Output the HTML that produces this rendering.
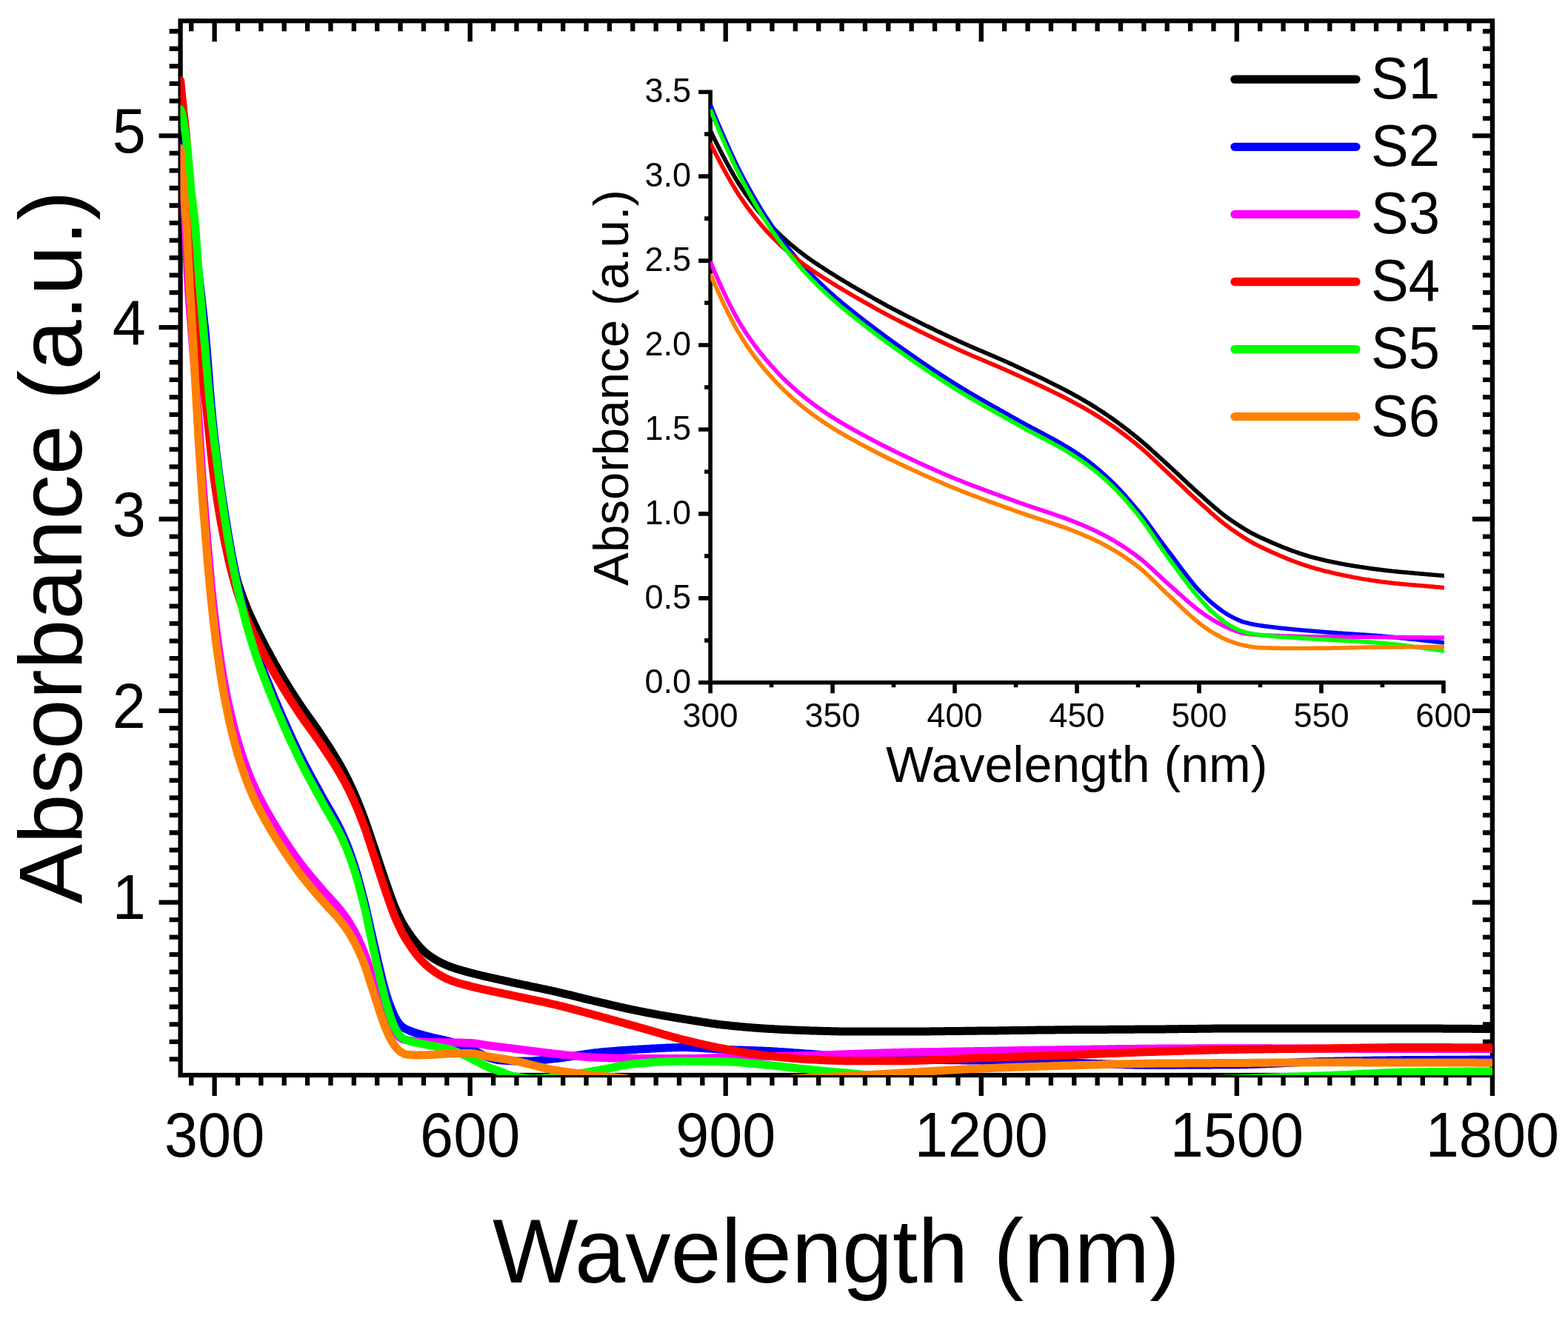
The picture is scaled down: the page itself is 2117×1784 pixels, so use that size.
<!DOCTYPE html>
<html lang="en"><head><meta charset="utf-8"><title>Absorbance spectra</title>
<style>html,body{margin:0;padding:0;background:#fff}body{width:2117px;height:1784px;overflow:hidden}svg{display:block}</style>
</head><body>
<svg xmlns="http://www.w3.org/2000/svg" width="2117" height="1784" viewBox="0 0 2117 1784" font-family="'Liberation Sans', Arial, Helvetica, sans-serif" fill="#000">
<rect width="2117" height="1784" fill="#fff"/>
<defs><clipPath id="mc"><rect x="243.6" y="28.2" width="1771.3000000000002" height="1423.8"/></clipPath><clipPath id="ic"><rect x="959.1" y="124.20000000000005" width="990.6999999999999" height="797.5999999999999"/></clipPath></defs>
<rect x="243.6" y="28.2" width="1771.3" height="1423.8" fill="none" stroke="#000" stroke-width="6.3"/><path d="M258.24 1452v14M258.24 28.2v14M289.61 1452v28M289.61 28.2v28M320.98 1452v14M320.98 28.2v14M352.35 1452v14M352.35 28.2v14M383.71 1452v14M383.71 28.2v14M415.08 1452v14M415.08 28.2v14M446.45 1452v14M446.45 28.2v14M477.82 1452v14M477.82 28.2v14M509.19 1452v14M509.19 28.2v14M540.56 1452v14M540.56 28.2v14M571.93 1452v14M571.93 28.2v14M603.3 1452v14M603.3 28.2v14M634.67 1452v28M634.67 28.2v28M666.04 1452v14M666.04 28.2v14M697.4 1452v14M697.4 28.2v14M728.77 1452v14M728.77 28.2v14M760.14 1452v14M760.14 28.2v14M791.51 1452v14M791.51 28.2v14M822.88 1452v14M822.88 28.2v14M854.25 1452v14M854.25 28.2v14M885.62 1452v14M885.62 28.2v14M916.99 1452v14M916.99 28.2v14M948.36 1452v14M948.36 28.2v14M979.72 1452v28M979.72 28.2v28M1011.09 1452v14M1011.09 28.2v14M1042.46 1452v14M1042.46 28.2v14M1073.83 1452v14M1073.83 28.2v14M1105.2 1452v14M1105.2 28.2v14M1136.57 1452v14M1136.57 28.2v14M1167.94 1452v14M1167.94 28.2v14M1199.31 1452v14M1199.31 28.2v14M1230.68 1452v14M1230.68 28.2v14M1262.05 1452v14M1262.05 28.2v14M1293.41 1452v14M1293.41 28.2v14M1324.78 1452v28M1324.78 28.2v28M1356.15 1452v14M1356.15 28.2v14M1387.52 1452v14M1387.52 28.2v14M1418.89 1452v14M1418.89 28.2v14M1450.26 1452v14M1450.26 28.2v14M1481.63 1452v14M1481.63 28.2v14M1513 1452v14M1513 28.2v14M1544.37 1452v14M1544.37 28.2v14M1575.73 1452v14M1575.73 28.2v14M1607.1 1452v14M1607.1 28.2v14M1638.47 1452v14M1638.47 28.2v14M1669.84 1452v28M1669.84 28.2v28M1701.21 1452v14M1701.21 28.2v14M1732.58 1452v14M1732.58 28.2v14M1763.95 1452v14M1763.95 28.2v14M1795.32 1452v14M1795.32 28.2v14M1826.69 1452v14M1826.69 28.2v14M1858.06 1452v14M1858.06 28.2v14M1889.42 1452v14M1889.42 28.2v14M1920.79 1452v14M1920.79 28.2v14M1952.16 1452v14M1952.16 28.2v14M1983.53 1452v14M1983.53 28.2v14M2014.9 1452v28M2014.9 28.2v28M243.6 1430.35h-15M2014.9 1430.35h-13M243.6 1406.82h-15M2014.9 1406.82h-13M243.6 1383.29h-15M2014.9 1383.29h-13M243.6 1359.76h-15M2014.9 1359.76h-13M243.6 1336.24h-15M2014.9 1336.24h-13M243.6 1312.71h-15M2014.9 1312.71h-13M243.6 1289.18h-15M2014.9 1289.18h-13M243.6 1265.65h-15M2014.9 1265.65h-13M243.6 1242.13h-15M2014.9 1242.13h-13M243.6 1218.6h-29M2014.9 1218.6h-27M243.6 1195.07h-15M2014.9 1195.07h-13M243.6 1171.55h-15M2014.9 1171.55h-13M243.6 1148.02h-15M2014.9 1148.02h-13M243.6 1124.49h-15M2014.9 1124.49h-13M243.6 1100.96h-15M2014.9 1100.96h-13M243.6 1077.44h-15M2014.9 1077.44h-13M243.6 1053.91h-15M2014.9 1053.91h-13M243.6 1030.38h-15M2014.9 1030.38h-13M243.6 1006.85h-15M2014.9 1006.85h-13M243.6 983.33h-15M2014.9 983.33h-13M243.6 959.8h-29M2014.9 959.8h-27M243.6 936.27h-15M2014.9 936.27h-13M243.6 912.75h-15M2014.9 912.75h-13M243.6 889.22h-15M2014.9 889.22h-13M243.6 865.69h-15M2014.9 865.69h-13M243.6 842.16h-15M2014.9 842.16h-13M243.6 818.64h-15M2014.9 818.64h-13M243.6 795.11h-15M2014.9 795.11h-13M243.6 771.58h-15M2014.9 771.58h-13M243.6 748.05h-15M2014.9 748.05h-13M243.6 724.53h-15M2014.9 724.53h-13M243.6 701h-29M2014.9 701h-27M243.6 677.47h-15M2014.9 677.47h-13M243.6 653.95h-15M2014.9 653.95h-13M243.6 630.42h-15M2014.9 630.42h-13M243.6 606.89h-15M2014.9 606.89h-13M243.6 583.36h-15M2014.9 583.36h-13M243.6 559.84h-15M2014.9 559.84h-13M243.6 536.31h-15M2014.9 536.31h-13M243.6 512.78h-15M2014.9 512.78h-13M243.6 489.25h-15M2014.9 489.25h-13M243.6 465.73h-15M2014.9 465.73h-13M243.6 442.2h-29M2014.9 442.2h-27M243.6 418.67h-15M2014.9 418.67h-13M243.6 395.15h-15M2014.9 395.15h-13M243.6 371.62h-15M2014.9 371.62h-13M243.6 348.09h-15M2014.9 348.09h-13M243.6 324.56h-15M2014.9 324.56h-13M243.6 301.04h-15M2014.9 301.04h-13M243.6 277.51h-15M2014.9 277.51h-13M243.6 253.98h-15M2014.9 253.98h-13M243.6 230.45h-15M2014.9 230.45h-13M243.6 206.93h-15M2014.9 206.93h-13M243.6 183.4h-29M2014.9 183.4h-27M243.6 159.87h-15M2014.9 159.87h-13M243.6 136.35h-15M2014.9 136.35h-13M243.6 112.82h-15M2014.9 112.82h-13M243.6 89.29h-15M2014.9 89.29h-13M243.6 65.76h-15M2014.9 65.76h-13M243.6 42.24h-15M2014.9 42.24h-13" fill="none" stroke="#000" stroke-width="6.3"/>
<g clip-path="url(#mc)" fill="none" stroke-width="11" stroke-linejoin="round" stroke-linecap="round"><path d="M243.6 118.7L245.6 137.2L247.6 155.9L247.7 157.5L249.5 173.4L251.5 192.0L252.3 201.5L253.5 220.0L255.5 260.4L256.8 286.9L257.5 299.0L259.5 335.5L261.4 369.1L262.0 377.5L263.4 397.5L265.4 422.6L267.2 442.2L267.4 444.4L269.4 463.6L271.4 480.9L273.3 497.1L275.3 512.8L277.3 528.6L278.5 538.0L279.3 545.1L281.3 562.3L283.3 579.5L285.2 596.5L287.2 612.7L289.2 627.7L289.6 630.6L291.2 641.5L293.2 654.8L295.2 667.5L297.1 679.7L299.1 691.3L301.1 702.3L303.1 712.7L304.2 718.3L305.1 722.5L307.1 731.9L309.0 740.9L311.0 749.4L313.0 757.5L315.0 765.2L317.0 772.5L318.5 777.9L319.0 779.4L320.9 786.0L322.9 792.2L324.9 798.1L326.9 803.8L328.9 809.3L330.9 814.5L332.7 819.3L332.8 819.5L334.8 824.3L336.8 828.9L338.8 833.4L340.8 837.6L342.8 841.8L344.7 845.9L346.7 850.0L347.1 850.8L348.7 854.1L350.7 858.1L352.7 862.0L354.7 865.9L356.6 869.7L358.6 873.5L360.6 877.2L361.4 878.7L362.6 880.9L364.6 884.6L366.6 888.3L368.5 891.9L370.5 895.5L372.5 899.0L374.5 902.4L376.0 905.1L376.5 905.9L378.5 909.2L380.4 912.6L382.4 915.9L384.4 919.1L386.4 922.4L388.4 925.6L390.3 928.8L392.3 931.9L394.3 935.1L396.3 938.2L398.3 941.2L400.3 944.3L402.2 947.3L404.2 950.3L404.6 950.9L406.2 953.3L408.2 956.2L410.2 959.1L412.2 961.9L414.1 964.7L416.1 967.5L418.1 970.3L420.1 973.0L422.1 975.8L424.1 978.5L426.0 981.3L428.0 984.2L430.0 987.0L432.0 990.0L433.5 992.3L434.0 993.0L436.0 996.0L437.9 999.0L439.9 1002.0L441.9 1005.1L443.9 1008.1L445.9 1011.2L447.9 1014.4L449.8 1017.5L451.8 1020.7L453.8 1024.0L455.8 1027.4L457.8 1030.7L459.8 1034.2L461.7 1037.8L462.1 1038.5L463.7 1041.4L465.7 1045.2L467.7 1049.0L469.7 1053.0L471.7 1057.1L473.6 1061.3L475.6 1065.5L476.4 1067.4L477.6 1069.9L479.6 1074.5L481.6 1079.2L483.6 1084.0L485.5 1088.9L487.5 1093.9L489.5 1099.1L490.7 1102.3L491.5 1104.4L493.5 1109.8L495.5 1115.5L497.4 1121.2L499.4 1127.1L501.4 1133.0L503.4 1138.9L505.0 1143.7L505.4 1144.8L507.4 1150.7L509.3 1156.8L511.3 1162.8L513.3 1168.9L515.3 1174.9L517.3 1180.8L519.3 1186.6L519.6 1187.7L521.2 1192.3L523.2 1198.1L525.2 1203.8L527.2 1209.4L529.2 1214.9L531.1 1220.1L533.1 1224.9L533.9 1226.8L535.1 1229.4L537.1 1233.8L539.1 1237.9L541.1 1241.9L543.0 1245.7L545.0 1249.2L547.0 1252.5L548.2 1254.4L549.0 1255.6L551.0 1258.5L553.0 1261.4L554.9 1264.2L556.9 1266.9L558.9 1269.5L560.9 1272.1L562.9 1274.5L564.9 1276.8L566.8 1279.1L568.8 1281.2L570.8 1283.2L572.8 1285.1L574.8 1286.8L576.8 1288.4L577.2 1288.7L578.7 1289.9L580.7 1291.3L582.7 1292.7L584.7 1294.0L586.7 1295.2L588.7 1296.4L590.6 1297.5L592.6 1298.6L594.6 1299.6L596.6 1300.6L598.6 1301.6L600.6 1302.5L602.5 1303.3L604.5 1304.2L605.8 1304.7L606.5 1305.0L608.5 1305.7L610.5 1306.4L612.5 1307.1L614.4 1307.8L616.4 1308.4L618.4 1309.0L620.4 1309.6L622.4 1310.2L624.4 1310.8L626.3 1311.3L628.3 1311.9L630.3 1312.4L632.3 1312.9L634.3 1313.5L634.7 1313.6L636.3 1314.0L638.2 1314.5L640.2 1315.0L642.2 1315.5L644.2 1316.0L646.2 1316.5L648.2 1317.0L650.1 1317.5L652.1 1318.0L654.1 1318.4L656.1 1318.9L658.1 1319.3L660.0 1319.8L662.0 1320.2L664.0 1320.7L666.0 1321.1L668.0 1321.6L670.0 1322.0L671.9 1322.4L673.9 1322.9L675.9 1323.3L677.9 1323.7L679.9 1324.2L681.9 1324.6L683.8 1325.0L685.8 1325.5L687.8 1325.9L689.8 1326.3L691.8 1326.8L691.9 1326.8L693.8 1327.2L695.7 1327.6L697.7 1328.1L699.7 1328.5L701.7 1328.9L703.7 1329.3L705.7 1329.8L707.6 1330.2L709.6 1330.6L711.6 1331.0L713.6 1331.4L715.6 1331.8L717.6 1332.3L719.5 1332.7L721.5 1333.1L723.5 1333.5L725.5 1333.9L727.5 1334.3L729.5 1334.7L731.4 1335.2L733.4 1335.6L735.4 1336.0L737.4 1336.4L739.4 1336.9L741.4 1337.3L743.3 1337.7L745.3 1338.2L747.3 1338.6L749.3 1339.0L750.0 1339.2L751.3 1339.5L753.3 1340.0L755.2 1340.4L757.2 1340.9L759.2 1341.3L761.2 1341.8L763.2 1342.3L765.2 1342.8L767.1 1343.2L769.1 1343.7L771.1 1344.2L773.1 1344.7L775.1 1345.2L777.1 1345.7L779.0 1346.2L781.0 1346.7L783.0 1347.1L785.0 1347.6L787.0 1348.1L789.0 1348.6L790.9 1349.1L792.9 1349.6L794.9 1350.1L796.9 1350.5L798.9 1351.0L800.8 1351.5L802.8 1352.0L804.8 1352.4L806.8 1352.9L807.0 1352.9L808.8 1353.3L810.8 1353.8L812.7 1354.3L814.7 1354.7L816.7 1355.2L818.7 1355.6L820.7 1356.1L822.7 1356.6L824.6 1357.0L826.6 1357.5L828.6 1358.0L830.6 1358.4L832.6 1358.9L834.6 1359.3L836.5 1359.8L838.5 1360.2L840.5 1360.7L842.5 1361.1L844.5 1361.6L846.5 1362.0L848.4 1362.4L850.4 1362.9L852.4 1363.3L854.4 1363.7L856.4 1364.1L858.4 1364.5L860.3 1364.9L862.3 1365.3L864.3 1365.7L864.9 1365.9L866.3 1366.1L868.3 1366.5L870.3 1366.9L872.2 1367.3L874.2 1367.7L876.2 1368.0L878.2 1368.4L880.2 1368.8L882.2 1369.1L884.1 1369.5L886.1 1369.9L888.1 1370.2L890.1 1370.6L892.1 1370.9L894.1 1371.3L896.0 1371.6L898.0 1372.0L900.0 1372.3L902.0 1372.6L904.0 1373.0L906.0 1373.3L907.9 1373.6L909.9 1374.0L911.9 1374.3L913.9 1374.6L915.9 1375.0L917.9 1375.3L919.8 1375.6L921.8 1375.9L922.0 1376.0L923.8 1376.2L925.8 1376.6L927.8 1376.9L929.8 1377.2L931.7 1377.5L933.7 1377.9L935.7 1378.2L937.7 1378.5L939.7 1378.8L941.6 1379.1L943.6 1379.5L945.6 1379.8L947.6 1380.1L949.6 1380.4L951.6 1380.7L953.5 1381.0L955.5 1381.3L957.5 1381.6L959.5 1381.9L961.5 1382.2L963.5 1382.4L965.4 1382.7L967.4 1383.0L969.4 1383.2L971.4 1383.5L973.4 1383.7L975.4 1384.0L977.3 1384.2L979.3 1384.4L980.0 1384.5L981.3 1384.6L983.3 1384.8L985.3 1385.1L987.3 1385.3L989.2 1385.5L991.2 1385.7L993.2 1385.8L995.2 1386.0L997.2 1386.2L999.2 1386.4L1001.1 1386.6L1003.1 1386.8L1005.1 1387.0L1007.1 1387.1L1009.1 1387.3L1011.1 1387.5L1013.0 1387.6L1015.0 1387.8L1017.0 1387.9L1019.0 1388.1L1021.0 1388.2L1023.0 1388.4L1024.9 1388.5L1026.9 1388.7L1028.9 1388.8L1030.9 1388.9L1032.9 1389.1L1034.9 1389.2L1036.8 1389.3L1037.0 1389.3L1038.8 1389.4L1040.8 1389.5L1042.8 1389.6L1044.8 1389.7L1046.8 1389.9L1048.7 1390.0L1050.7 1390.1L1052.7 1390.2L1054.7 1390.3L1056.7 1390.4L1058.7 1390.5L1060.6 1390.6L1062.6 1390.7L1064.6 1390.8L1066.6 1390.8L1068.6 1390.9L1070.6 1391.0L1072.5 1391.1L1074.5 1391.2L1076.5 1391.3L1078.5 1391.3L1080.5 1391.4L1082.4 1391.5L1084.4 1391.6L1086.4 1391.6L1088.4 1391.7L1090.4 1391.8L1092.4 1391.8L1094.3 1391.9L1095.0 1391.9L1096.3 1391.9L1098.3 1392.0L1100.3 1392.0L1102.3 1392.1L1104.3 1392.2L1106.2 1392.2L1108.2 1392.3L1110.2 1392.3L1112.2 1392.4L1114.2 1392.4L1116.2 1392.5L1118.1 1392.6L1120.1 1392.6L1122.1 1392.7L1124.1 1392.7L1126.1 1392.8L1128.1 1392.8L1130.0 1392.8L1132.0 1392.9L1134.0 1392.9L1136.0 1392.9L1138.0 1393.0L1140.0 1393.0L1141.9 1393.0L1143.9 1393.0L1145.9 1393.1L1147.9 1393.1L1149.9 1393.1L1151.9 1393.1L1152.0 1393.1L1153.8 1393.1L1155.8 1393.1L1157.8 1393.1L1159.8 1393.1L1161.8 1393.1L1163.8 1393.1L1165.7 1393.1L1167.7 1393.1L1169.7 1393.1L1171.7 1393.1L1173.7 1393.1L1175.7 1393.1L1177.6 1393.1L1179.6 1393.1L1181.6 1393.1L1183.6 1393.1L1185.6 1393.1L1187.6 1393.1L1189.5 1393.1L1191.5 1393.1L1193.5 1393.1L1195.5 1393.1L1197.5 1393.1L1199.5 1393.1L1201.4 1393.1L1203.4 1393.1L1205.4 1393.1L1207.4 1393.1L1209.4 1393.1L1210.0 1393.1L1211.4 1393.1L1213.3 1393.1L1215.3 1393.1L1217.3 1393.1L1219.3 1393.1L1221.3 1393.1L1223.2 1393.1L1225.2 1393.1L1227.2 1393.0L1229.2 1393.0L1231.2 1393.0L1233.2 1393.0L1235.1 1393.0L1237.1 1393.0L1239.1 1393.0L1241.1 1393.0L1243.1 1393.0L1245.1 1392.9L1247.0 1392.9L1249.0 1392.9L1251.0 1392.9L1253.0 1392.9L1255.0 1392.9L1257.0 1392.8L1258.9 1392.8L1260.9 1392.8L1262.9 1392.8L1264.9 1392.8L1266.9 1392.7L1268.9 1392.7L1270.8 1392.7L1272.8 1392.7L1274.8 1392.7L1276.8 1392.6L1278.8 1392.6L1280.8 1392.6L1282.7 1392.6L1284.7 1392.5L1286.7 1392.5L1288.7 1392.5L1290.7 1392.5L1292.7 1392.5L1294.6 1392.4L1296.6 1392.4L1298.6 1392.4L1300.6 1392.4L1302.6 1392.3L1304.6 1392.3L1306.5 1392.3L1308.5 1392.3L1310.5 1392.3L1312.5 1392.2L1314.5 1392.2L1316.5 1392.2L1318.4 1392.2L1320.4 1392.1L1322.4 1392.1L1324.4 1392.1L1325.0 1392.1L1326.4 1392.1L1328.4 1392.1L1330.3 1392.0L1332.3 1392.0L1334.3 1392.0L1336.3 1392.0L1338.3 1392.0L1340.3 1391.9L1342.2 1391.9L1344.2 1391.9L1346.2 1391.9L1348.2 1391.8L1350.2 1391.8L1352.1 1391.8L1354.1 1391.8L1356.1 1391.7L1358.1 1391.7L1360.1 1391.7L1362.1 1391.7L1364.0 1391.6L1366.0 1391.6L1368.0 1391.6L1370.0 1391.5L1372.0 1391.5L1374.0 1391.5L1375.9 1391.5L1377.9 1391.4L1379.9 1391.4L1381.9 1391.4L1383.9 1391.4L1385.9 1391.3L1387.8 1391.3L1389.8 1391.3L1391.8 1391.2L1393.8 1391.2L1395.8 1391.2L1397.8 1391.2L1399.7 1391.1L1401.7 1391.1L1403.7 1391.1L1405.7 1391.1L1407.7 1391.0L1409.7 1391.0L1411.6 1391.0L1413.6 1391.0L1415.6 1390.9L1417.6 1390.9L1419.6 1390.9L1421.6 1390.9L1423.5 1390.9L1425.5 1390.8L1427.5 1390.8L1429.5 1390.8L1431.5 1390.8L1433.5 1390.8L1435.4 1390.7L1437.4 1390.7L1439.4 1390.7L1440.0 1390.7L1441.4 1390.7L1443.4 1390.7L1445.4 1390.7L1447.3 1390.6L1449.3 1390.6L1451.3 1390.6L1453.3 1390.6L1455.3 1390.6L1457.3 1390.6L1459.2 1390.6L1461.2 1390.5L1463.2 1390.5L1465.2 1390.5L1467.2 1390.5L1469.2 1390.5L1471.1 1390.5L1473.1 1390.5L1475.1 1390.5L1477.1 1390.5L1479.1 1390.4L1481.1 1390.4L1483.0 1390.4L1485.0 1390.4L1487.0 1390.4L1489.0 1390.4L1491.0 1390.4L1492.9 1390.4L1494.9 1390.4L1496.9 1390.3L1498.9 1390.3L1500.9 1390.3L1502.9 1390.3L1504.8 1390.3L1506.8 1390.3L1508.8 1390.3L1510.8 1390.3L1512.8 1390.3L1514.8 1390.2L1516.7 1390.2L1518.7 1390.2L1520.7 1390.2L1522.7 1390.2L1524.7 1390.2L1526.7 1390.2L1528.6 1390.2L1530.6 1390.2L1532.6 1390.1L1534.6 1390.1L1536.6 1390.1L1538.6 1390.1L1540.5 1390.1L1542.5 1390.1L1544.5 1390.1L1546.5 1390.1L1548.5 1390.0L1550.5 1390.0L1552.4 1390.0L1554.4 1390.0L1555.1 1390.0L1556.4 1390.0L1558.4 1390.0L1560.4 1390.0L1562.4 1389.9L1564.3 1389.9L1566.3 1389.9L1568.3 1389.9L1570.3 1389.9L1572.3 1389.9L1574.3 1389.8L1576.2 1389.8L1578.2 1389.8L1580.2 1389.8L1582.2 1389.7L1584.2 1389.7L1586.2 1389.7L1588.1 1389.7L1590.1 1389.7L1592.1 1389.6L1594.1 1389.6L1596.1 1389.6L1598.1 1389.6L1600.0 1389.5L1602.0 1389.5L1604.0 1389.5L1606.0 1389.5L1608.0 1389.4L1610.0 1389.4L1611.9 1389.4L1613.9 1389.4L1615.9 1389.4L1617.9 1389.3L1619.9 1389.3L1621.9 1389.3L1623.8 1389.3L1625.8 1389.3L1627.8 1389.2L1629.8 1389.2L1631.8 1389.2L1633.7 1389.2L1635.7 1389.2L1637.7 1389.1L1639.7 1389.1L1641.7 1389.1L1643.7 1389.1L1645.6 1389.1L1647.6 1389.1L1649.6 1389.1L1651.6 1389.0L1653.6 1389.0L1655.6 1389.0L1657.5 1389.0L1659.5 1389.0L1661.5 1389.0L1663.5 1389.0L1665.5 1389.0L1667.5 1389.0L1669.4 1389.0L1670.1 1389.0L1671.4 1389.0L1673.4 1389.0L1675.4 1389.0L1677.4 1389.0L1679.4 1389.0L1681.3 1389.0L1683.3 1389.0L1685.3 1389.0L1687.3 1389.0L1689.3 1389.0L1691.3 1389.0L1693.2 1389.0L1695.2 1389.0L1697.2 1389.0L1699.2 1389.0L1701.2 1389.0L1703.2 1389.0L1705.1 1389.0L1707.1 1389.0L1709.1 1389.0L1711.1 1389.0L1713.1 1389.0L1715.1 1389.0L1717.0 1389.0L1719.0 1389.0L1721.0 1389.0L1723.0 1389.0L1725.0 1389.0L1727.0 1389.0L1728.9 1389.0L1730.9 1389.0L1732.9 1389.0L1734.9 1389.0L1736.9 1389.0L1738.9 1389.0L1740.8 1389.0L1742.8 1389.0L1744.8 1389.0L1746.8 1389.0L1748.8 1389.0L1750.8 1389.0L1752.7 1389.0L1754.7 1389.0L1756.7 1389.0L1758.7 1389.0L1760.7 1389.0L1762.7 1389.0L1764.6 1389.0L1766.6 1389.0L1768.6 1389.0L1770.6 1389.0L1772.6 1389.0L1774.5 1389.0L1776.5 1389.0L1778.5 1389.0L1780.5 1389.0L1782.5 1389.0L1784.5 1389.0L1785.1 1389.0L1786.4 1389.0L1788.4 1389.0L1790.4 1389.0L1792.4 1389.0L1794.4 1389.0L1796.4 1389.0L1798.3 1389.0L1800.3 1389.0L1802.3 1389.0L1804.3 1389.0L1806.3 1389.0L1808.3 1389.0L1810.2 1389.0L1812.2 1389.0L1814.2 1389.0L1816.2 1389.0L1818.2 1389.0L1820.2 1389.0L1822.1 1389.0L1824.1 1389.0L1826.1 1389.0L1828.1 1389.0L1830.1 1389.0L1832.1 1389.0L1834.0 1389.0L1836.0 1389.0L1838.0 1389.0L1840.0 1389.0L1842.0 1389.0L1844.0 1389.0L1845.9 1389.0L1847.9 1389.0L1849.9 1389.0L1851.9 1389.0L1853.9 1389.0L1855.9 1389.0L1857.8 1389.0L1859.8 1389.0L1861.8 1389.0L1863.8 1389.0L1865.8 1389.0L1867.8 1389.0L1869.7 1389.0L1871.7 1389.0L1873.7 1389.0L1875.7 1389.0L1877.7 1389.0L1879.7 1389.0L1881.6 1389.0L1883.6 1389.0L1885.6 1389.0L1887.6 1389.0L1889.6 1389.0L1891.6 1389.0L1893.5 1389.0L1895.5 1389.0L1897.5 1389.0L1899.5 1389.0L1900.1 1389.0L1901.5 1389.0L1903.5 1389.0L1905.4 1389.0L1907.4 1389.0L1909.4 1389.0L1911.4 1389.0L1913.4 1389.0L1915.3 1389.0L1917.3 1389.0L1919.3 1389.0L1921.3 1389.0L1923.3 1389.0L1925.3 1389.0L1927.2 1389.1L1929.2 1389.1L1931.2 1389.1L1933.2 1389.1L1935.2 1389.1L1937.2 1389.1L1939.1 1389.1L1941.1 1389.1L1943.1 1389.1L1945.1 1389.1L1947.1 1389.1L1949.1 1389.2L1951.0 1389.2L1953.0 1389.2L1955.0 1389.2L1957.0 1389.2L1959.0 1389.2L1961.0 1389.2L1962.9 1389.2L1964.9 1389.2L1966.9 1389.3L1968.9 1389.3L1970.9 1389.3L1972.9 1389.3L1974.8 1389.3L1976.8 1389.3L1978.8 1389.3L1980.8 1389.3L1982.8 1389.3L1984.8 1389.3L1986.7 1389.3L1988.7 1389.4L1990.7 1389.4L1992.7 1389.4L1994.7 1389.4L1996.7 1389.4L1998.6 1389.4L2000.6 1389.4L2002.6 1389.4L2004.6 1389.4L2006.6 1389.4L2008.6 1389.4L2010.5 1389.4L2012.5 1389.4L2014.5 1389.4L2014.9 1389.4L2016.5 1389.4L2018.5 1389.4L2020.5 1389.4L2022.4 1389.4L2024.4 1389.4L2026.4 1389.4" stroke="#000000"/><path d="M243.6 194.8L245.6 203.0L247.6 212.6L249.4 222.2L249.5 223.3L251.5 235.7L253.5 249.5L255.1 261.0L255.5 264.0L257.5 279.2L259.5 295.1L261.4 311.5L263.2 325.7L263.4 328.1L265.4 344.9L267.4 362.0L269.4 379.3L270.1 385.3L271.4 396.5L273.3 413.3L275.3 430.8L277.3 450.0L277.3 450.1L279.3 473.0L281.3 499.0L283.3 525.1L285.2 548.8L285.4 550.0L287.2 569.3L289.2 587.7L289.6 591.2L291.2 604.5L293.2 620.4L295.2 635.7L297.1 650.3L299.1 664.3L301.1 677.7L303.1 690.7L304.2 697.8L305.1 703.2L307.1 715.3L309.0 726.9L311.0 738.2L313.0 749.0L315.0 759.4L317.0 769.4L318.5 776.8L319.0 778.9L320.9 788.1L322.9 797.0L324.9 805.5L326.9 813.7L328.9 821.6L330.9 829.2L332.7 836.2L332.8 836.6L334.8 843.6L336.8 850.4L338.8 857.0L340.8 863.3L342.8 869.4L344.7 875.4L346.7 881.3L347.1 882.3L348.7 887.0L350.7 892.5L352.7 897.9L354.7 903.1L356.6 908.3L358.6 913.4L360.6 918.4L361.4 920.4L362.6 923.4L364.6 928.4L366.6 933.3L368.5 938.2L370.5 943.0L372.5 947.8L374.5 952.4L376.0 956.0L376.5 957.1L378.5 961.7L380.4 966.2L382.4 970.8L384.4 975.3L386.4 979.7L388.4 984.2L390.3 988.6L392.3 992.9L394.3 997.3L396.3 1001.5L398.3 1005.7L400.3 1009.9L402.2 1014.0L404.2 1018.1L404.6 1018.9L406.2 1022.1L408.2 1026.0L410.2 1029.9L412.2 1033.7L414.1 1037.5L416.1 1041.3L418.1 1045.0L420.1 1048.6L422.1 1052.3L424.1 1055.9L426.0 1059.6L428.0 1063.2L430.0 1066.9L432.0 1070.5L433.5 1073.4L434.0 1074.2L436.0 1077.8L437.9 1081.3L439.9 1084.8L441.9 1088.2L443.9 1091.6L445.9 1095.0L447.9 1098.4L449.8 1101.9L451.8 1105.4L453.8 1109.1L455.8 1112.8L457.8 1116.7L459.8 1120.7L461.7 1124.9L462.1 1125.8L463.7 1129.3L465.7 1133.9L467.7 1138.7L469.7 1143.8L471.7 1149.1L473.6 1154.5L475.6 1160.3L476.4 1162.7L477.6 1166.2L479.6 1172.6L481.6 1179.2L483.6 1186.2L485.5 1193.4L487.5 1200.8L489.5 1208.4L490.7 1213.2L491.5 1216.2L493.5 1224.4L495.5 1232.9L497.4 1241.7L499.4 1250.6L501.4 1259.5L503.4 1268.3L505.0 1275.3L505.4 1276.9L507.4 1285.4L509.3 1294.1L511.3 1302.8L513.3 1311.3L515.3 1319.6L517.3 1327.5L519.3 1334.8L519.6 1336.2L521.2 1341.7L523.2 1348.1L525.2 1354.1L526.6 1357.9L527.2 1359.4L529.2 1364.4L531.1 1369.0L533.1 1373.1L533.9 1374.6L535.1 1376.7L537.1 1380.0L539.1 1382.8L540.9 1384.8L541.1 1385.0L543.0 1386.6L545.0 1388.0L547.0 1389.2L548.2 1389.8L549.0 1390.2L551.0 1391.1L553.0 1391.9L554.9 1392.7L556.9 1393.4L558.9 1394.2L560.9 1394.8L562.9 1395.4L564.9 1396.1L566.8 1396.6L568.8 1397.2L570.8 1397.7L572.8 1398.3L574.8 1398.8L576.8 1399.4L577.2 1399.5L578.7 1399.9L580.7 1400.4L582.7 1400.9L584.7 1401.4L586.7 1401.8L588.7 1402.2L590.6 1402.7L592.6 1403.1L594.6 1403.5L596.6 1404.0L598.6 1404.4L600.6 1404.9L602.5 1405.4L604.5 1405.9L605.8 1406.2L606.5 1406.4L608.5 1407.0L610.5 1407.6L612.5 1408.2L614.4 1408.8L616.4 1409.4L618.4 1410.1L620.4 1410.8L622.4 1411.4L624.4 1412.2L626.3 1412.9L628.3 1413.6L630.3 1414.4L632.3 1415.1L634.3 1415.9L634.7 1416.1L636.3 1416.7L638.2 1417.6L640.2 1418.6L642.2 1419.7L644.2 1420.7L646.2 1421.8L648.2 1422.9L650.1 1423.9L652.1 1424.9L654.1 1425.9L656.1 1426.8L658.1 1427.6L660.0 1428.2L660.0 1428.3L662.0 1428.9L664.0 1429.5L666.0 1430.1L668.0 1430.6L670.0 1431.1L671.9 1431.5L673.9 1431.8L674.9 1431.9L675.9 1431.9L677.9 1432.1L679.9 1432.2L681.9 1432.3L683.8 1432.4L685.8 1432.5L687.8 1432.6L689.8 1432.7L691.8 1432.8L693.8 1432.9L695.7 1432.9L697.7 1433.0L699.7 1433.0L701.7 1433.1L703.7 1433.1L705.7 1433.1L707.6 1433.1L709.4 1433.1L709.6 1433.1L711.6 1433.1L713.6 1433.1L715.6 1433.0L717.6 1432.9L719.5 1432.8L721.5 1432.7L723.5 1432.5L725.5 1432.3L727.5 1432.1L729.5 1431.9L731.4 1431.7L733.4 1431.5L735.4 1431.3L737.4 1431.1L739.4 1430.8L741.4 1430.6L743.3 1430.4L745.3 1430.1L747.3 1429.9L749.3 1429.7L750.0 1429.6L751.3 1429.5L753.3 1429.2L755.2 1429.0L757.2 1428.7L759.2 1428.5L761.2 1428.2L763.2 1427.9L765.2 1427.6L767.1 1427.3L769.1 1427.0L771.1 1426.6L773.1 1426.3L775.1 1426.0L777.1 1425.7L779.0 1425.3L781.0 1425.0L783.0 1424.7L785.0 1424.4L787.0 1424.1L789.0 1423.8L790.9 1423.5L792.9 1423.2L794.9 1422.9L796.9 1422.6L798.9 1422.3L800.8 1422.1L802.8 1421.8L804.8 1421.6L806.8 1421.4L807.0 1421.4L808.8 1421.2L810.8 1421.0L812.7 1420.8L814.7 1420.6L816.7 1420.5L818.7 1420.3L820.7 1420.1L822.7 1419.9L824.6 1419.8L826.6 1419.6L828.6 1419.4L830.6 1419.3L832.6 1419.1L834.6 1419.0L836.5 1418.8L838.5 1418.7L840.5 1418.5L842.5 1418.4L844.5 1418.3L846.5 1418.1L848.4 1418.0L850.4 1417.9L852.4 1417.7L854.4 1417.6L856.4 1417.5L858.4 1417.4L860.3 1417.3L862.3 1417.1L864.3 1417.0L864.9 1417.0L866.3 1416.9L868.3 1416.8L870.3 1416.7L872.2 1416.6L874.2 1416.5L876.2 1416.4L878.2 1416.2L880.2 1416.1L882.2 1416.0L884.1 1415.9L886.1 1415.8L888.1 1415.7L890.1 1415.6L892.1 1415.5L894.1 1415.4L896.0 1415.3L898.0 1415.2L900.0 1415.1L902.0 1415.0L904.0 1414.9L906.0 1414.9L907.9 1414.8L909.9 1414.8L911.9 1414.7L913.9 1414.7L915.9 1414.6L917.9 1414.6L919.8 1414.6L921.8 1414.6L922.0 1414.6L923.8 1414.6L925.8 1414.6L927.8 1414.6L929.8 1414.7L931.7 1414.7L933.7 1414.8L935.7 1414.9L937.7 1415.0L939.7 1415.0L941.6 1415.1L943.6 1415.2L945.6 1415.4L947.6 1415.5L949.6 1415.6L951.6 1415.7L953.5 1415.8L955.5 1416.0L957.5 1416.1L959.5 1416.2L961.5 1416.3L963.5 1416.5L965.4 1416.6L967.4 1416.7L969.4 1416.8L971.4 1416.9L973.4 1417.0L975.4 1417.1L977.3 1417.2L979.3 1417.3L980.0 1417.4L981.3 1417.4L983.3 1417.5L985.3 1417.6L987.3 1417.6L989.2 1417.7L991.2 1417.8L993.2 1417.9L995.2 1417.9L997.2 1418.0L999.2 1418.1L1001.1 1418.1L1003.1 1418.2L1005.1 1418.3L1007.1 1418.3L1009.1 1418.4L1011.1 1418.5L1013.0 1418.5L1015.0 1418.6L1017.0 1418.7L1019.0 1418.8L1021.0 1418.8L1023.0 1418.9L1024.9 1419.0L1026.9 1419.1L1028.9 1419.1L1030.9 1419.2L1032.9 1419.3L1034.9 1419.4L1036.8 1419.5L1037.0 1419.5L1038.8 1419.6L1040.8 1419.7L1042.8 1419.8L1044.8 1419.9L1046.8 1420.0L1048.7 1420.1L1050.7 1420.3L1052.7 1420.4L1054.7 1420.5L1056.7 1420.6L1058.7 1420.8L1060.6 1420.9L1062.6 1421.0L1064.6 1421.2L1066.6 1421.3L1068.6 1421.5L1070.6 1421.6L1072.5 1421.8L1074.5 1421.9L1076.5 1422.0L1078.5 1422.2L1080.5 1422.3L1082.4 1422.5L1084.4 1422.6L1086.4 1422.8L1088.4 1422.9L1090.4 1423.1L1092.4 1423.2L1094.3 1423.3L1095.0 1423.4L1096.3 1423.5L1098.3 1423.6L1100.3 1423.8L1102.3 1423.9L1104.3 1424.1L1106.2 1424.2L1108.2 1424.4L1110.2 1424.5L1112.2 1424.7L1114.2 1424.9L1116.2 1425.0L1118.1 1425.2L1120.1 1425.3L1122.1 1425.5L1124.1 1425.7L1126.1 1425.8L1128.1 1426.0L1130.0 1426.1L1132.0 1426.3L1134.0 1426.4L1136.0 1426.6L1138.0 1426.7L1140.0 1426.9L1141.9 1427.0L1143.9 1427.2L1145.9 1427.3L1147.9 1427.4L1149.9 1427.6L1151.9 1427.7L1152.0 1427.7L1153.8 1427.8L1155.8 1428.0L1157.8 1428.1L1159.8 1428.2L1161.8 1428.3L1163.8 1428.5L1165.7 1428.6L1167.7 1428.7L1169.7 1428.9L1171.7 1429.0L1173.7 1429.1L1175.7 1429.2L1177.6 1429.4L1179.6 1429.5L1181.6 1429.6L1183.6 1429.7L1185.6 1429.8L1187.6 1429.9L1189.5 1430.0L1191.5 1430.1L1193.5 1430.2L1195.5 1430.3L1197.5 1430.4L1199.5 1430.5L1201.4 1430.6L1203.4 1430.6L1205.4 1430.7L1207.4 1430.8L1209.4 1430.8L1210.0 1430.8L1211.4 1430.8L1213.3 1430.9L1215.3 1430.9L1217.3 1431.0L1219.3 1431.0L1221.3 1431.0L1223.2 1431.1L1225.2 1431.1L1227.2 1431.1L1229.2 1431.2L1231.2 1431.2L1233.2 1431.2L1235.1 1431.2L1237.1 1431.3L1239.1 1431.3L1241.1 1431.3L1243.1 1431.3L1245.1 1431.4L1247.0 1431.4L1249.0 1431.4L1251.0 1431.4L1253.0 1431.4L1255.0 1431.5L1257.0 1431.5L1258.9 1431.5L1260.9 1431.5L1262.9 1431.5L1264.9 1431.6L1266.9 1431.6L1268.9 1431.6L1270.8 1431.6L1272.8 1431.6L1274.8 1431.6L1276.8 1431.7L1278.8 1431.7L1280.8 1431.7L1282.7 1431.7L1284.7 1431.7L1286.7 1431.7L1288.7 1431.8L1290.7 1431.8L1292.7 1431.8L1294.6 1431.8L1296.6 1431.8L1298.6 1431.9L1300.6 1431.9L1302.6 1431.9L1304.6 1431.9L1306.5 1431.9L1308.5 1432.0L1310.5 1432.0L1312.5 1432.0L1314.5 1432.0L1316.5 1432.1L1318.4 1432.1L1320.4 1432.1L1322.4 1432.1L1324.4 1432.2L1325.0 1432.2L1326.4 1432.2L1328.4 1432.2L1330.3 1432.3L1332.3 1432.3L1334.3 1432.3L1336.3 1432.4L1338.3 1432.4L1340.3 1432.5L1342.2 1432.5L1344.2 1432.5L1346.2 1432.6L1348.2 1432.6L1350.2 1432.7L1352.1 1432.7L1354.1 1432.7L1356.1 1432.8L1358.1 1432.8L1360.1 1432.9L1362.1 1432.9L1364.0 1433.0L1366.0 1433.0L1368.0 1433.1L1370.0 1433.1L1372.0 1433.2L1374.0 1433.2L1375.9 1433.3L1377.9 1433.3L1379.9 1433.4L1381.9 1433.4L1383.9 1433.5L1385.9 1433.5L1387.8 1433.6L1389.8 1433.6L1391.8 1433.7L1393.8 1433.7L1395.8 1433.8L1397.8 1433.8L1399.7 1433.9L1401.7 1433.9L1403.7 1434.0L1405.7 1434.0L1407.7 1434.1L1409.7 1434.1L1411.6 1434.2L1413.6 1434.2L1415.6 1434.3L1417.6 1434.3L1419.6 1434.4L1421.6 1434.5L1423.5 1434.5L1425.5 1434.6L1427.5 1434.6L1429.5 1434.7L1431.5 1434.7L1433.5 1434.8L1435.4 1434.8L1437.4 1434.9L1439.4 1434.9L1440.0 1435.0L1441.4 1435.0L1443.4 1435.0L1445.4 1435.1L1447.3 1435.2L1449.3 1435.2L1451.3 1435.3L1453.3 1435.4L1455.3 1435.4L1457.3 1435.5L1459.2 1435.6L1461.2 1435.6L1463.2 1435.7L1465.2 1435.8L1467.2 1435.9L1469.2 1435.9L1471.1 1436.0L1473.1 1436.1L1475.1 1436.2L1477.1 1436.3L1479.1 1436.3L1481.1 1436.4L1483.0 1436.5L1485.0 1436.6L1487.0 1436.6L1489.0 1436.7L1491.0 1436.8L1492.9 1436.9L1494.9 1437.0L1496.9 1437.0L1498.9 1437.1L1500.9 1437.2L1502.9 1437.3L1504.8 1437.3L1506.8 1437.4L1508.8 1437.5L1510.8 1437.5L1512.8 1437.6L1514.8 1437.7L1516.7 1437.7L1518.7 1437.8L1520.7 1437.9L1522.7 1437.9L1524.7 1438.0L1526.7 1438.0L1528.6 1438.1L1530.6 1438.1L1532.6 1438.2L1534.6 1438.2L1536.6 1438.2L1538.6 1438.3L1540.5 1438.3L1542.5 1438.3L1544.5 1438.3L1546.5 1438.4L1548.5 1438.4L1550.5 1438.4L1552.4 1438.4L1554.4 1438.4L1555.1 1438.4L1556.4 1438.4L1558.4 1438.4L1560.4 1438.4L1562.4 1438.4L1564.3 1438.4L1566.3 1438.4L1568.3 1438.4L1570.3 1438.4L1572.3 1438.4L1574.3 1438.4L1576.2 1438.4L1578.2 1438.4L1580.2 1438.4L1582.2 1438.4L1584.2 1438.4L1586.2 1438.4L1588.1 1438.4L1590.1 1438.3L1592.1 1438.3L1594.1 1438.3L1596.1 1438.3L1598.1 1438.3L1600.0 1438.3L1602.0 1438.3L1604.0 1438.3L1606.0 1438.3L1608.0 1438.3L1610.0 1438.3L1611.9 1438.3L1613.9 1438.3L1615.9 1438.2L1617.9 1438.2L1619.9 1438.2L1621.9 1438.2L1623.8 1438.2L1625.8 1438.2L1627.8 1438.2L1629.8 1438.2L1631.8 1438.2L1633.7 1438.2L1635.7 1438.1L1637.7 1438.1L1639.7 1438.1L1641.7 1438.1L1643.7 1438.1L1645.6 1438.1L1647.6 1438.1L1649.6 1438.1L1651.6 1438.0L1653.6 1438.0L1655.6 1438.0L1657.5 1438.0L1659.5 1438.0L1661.5 1438.0L1663.5 1438.0L1665.5 1437.9L1667.5 1437.9L1669.4 1437.9L1670.1 1437.9L1671.4 1437.9L1673.4 1437.9L1675.4 1437.8L1677.4 1437.8L1679.4 1437.8L1681.3 1437.7L1683.3 1437.7L1685.3 1437.6L1687.3 1437.6L1689.3 1437.5L1691.3 1437.5L1693.2 1437.4L1695.2 1437.3L1697.2 1437.3L1699.2 1437.2L1701.2 1437.1L1703.2 1437.1L1705.1 1437.0L1707.1 1436.9L1709.1 1436.8L1711.1 1436.7L1713.1 1436.6L1715.1 1436.5L1717.0 1436.4L1719.0 1436.3L1721.0 1436.3L1723.0 1436.2L1725.0 1436.1L1727.0 1436.0L1728.9 1435.9L1730.9 1435.8L1732.9 1435.7L1734.9 1435.6L1736.9 1435.5L1738.9 1435.4L1740.8 1435.3L1742.8 1435.2L1744.8 1435.1L1746.8 1435.0L1748.8 1434.9L1750.8 1434.8L1752.7 1434.7L1754.7 1434.6L1756.7 1434.5L1758.7 1434.4L1760.7 1434.3L1762.7 1434.3L1764.6 1434.2L1766.6 1434.1L1768.6 1434.0L1770.6 1433.9L1772.6 1433.9L1774.5 1433.8L1776.5 1433.7L1778.5 1433.7L1780.5 1433.6L1782.5 1433.6L1784.5 1433.5L1785.1 1433.5L1786.4 1433.5L1788.4 1433.4L1790.4 1433.4L1792.4 1433.3L1794.4 1433.3L1796.4 1433.2L1798.3 1433.2L1800.3 1433.2L1802.3 1433.1L1804.3 1433.1L1806.3 1433.0L1808.3 1433.0L1810.2 1432.9L1812.2 1432.9L1814.2 1432.9L1816.2 1432.8L1818.2 1432.8L1820.2 1432.7L1822.1 1432.7L1824.1 1432.7L1826.1 1432.6L1828.1 1432.6L1830.1 1432.5L1832.1 1432.5L1834.0 1432.5L1836.0 1432.4L1838.0 1432.4L1840.0 1432.4L1842.0 1432.3L1844.0 1432.3L1845.9 1432.3L1847.9 1432.2L1849.9 1432.2L1851.9 1432.2L1853.9 1432.1L1855.9 1432.1L1857.8 1432.1L1859.8 1432.0L1861.8 1432.0L1863.8 1432.0L1865.8 1432.0L1867.8 1431.9L1869.7 1431.9L1871.7 1431.9L1873.7 1431.8L1875.7 1431.8L1877.7 1431.8L1879.7 1431.8L1881.6 1431.8L1883.6 1431.7L1885.6 1431.7L1887.6 1431.7L1889.6 1431.7L1891.6 1431.7L1893.5 1431.6L1895.5 1431.6L1897.5 1431.6L1899.5 1431.6L1900.1 1431.6L1901.5 1431.6L1903.5 1431.6L1905.4 1431.6L1907.4 1431.5L1909.4 1431.5L1911.4 1431.5L1913.4 1431.5L1915.3 1431.5L1917.3 1431.5L1919.3 1431.5L1921.3 1431.5L1923.3 1431.4L1925.3 1431.4L1927.2 1431.4L1929.2 1431.4L1931.2 1431.4L1933.2 1431.4L1935.2 1431.4L1937.2 1431.4L1939.1 1431.3L1941.1 1431.3L1943.1 1431.3L1945.1 1431.3L1947.1 1431.3L1949.1 1431.3L1951.0 1431.3L1953.0 1431.3L1955.0 1431.3L1957.0 1431.3L1959.0 1431.2L1961.0 1431.2L1962.9 1431.2L1964.9 1431.2L1966.9 1431.2L1968.9 1431.2L1970.9 1431.2L1972.9 1431.2L1974.8 1431.2L1976.8 1431.2L1978.8 1431.2L1980.8 1431.2L1982.8 1431.2L1984.8 1431.1L1986.7 1431.1L1988.7 1431.1L1990.7 1431.1L1992.7 1431.1L1994.7 1431.1L1996.7 1431.1L1998.6 1431.1L2000.6 1431.1L2002.6 1431.1L2004.6 1431.1L2006.6 1431.1L2008.6 1431.1L2010.5 1431.1L2012.5 1431.1L2014.5 1431.1L2014.9 1431.1L2016.5 1431.1L2018.5 1431.1L2020.5 1431.1L2022.4 1431.1L2024.4 1431.1L2026.4 1431.1" stroke="#0000FF"/><path d="M243.6 209.3L245.6 229.5L247.6 256.3L249.5 287.8L250.3 300.1L251.5 326.7L253.5 373.6L254.1 384.0L255.5 405.7L257.5 430.9L259.0 450.0L259.5 455.8L261.4 480.5L263.4 504.6L265.4 529.5L266.9 550.0L267.4 556.3L269.4 586.9L271.4 618.6L273.3 647.9L273.5 650.0L275.3 673.9L277.3 699.3L279.3 723.8L281.3 747.4L283.3 769.7L285.2 790.8L287.2 810.4L289.2 828.3L289.6 831.6L291.2 844.6L293.2 860.0L295.2 874.5L297.1 888.1L299.1 900.8L301.1 912.8L303.1 924.0L304.2 930.0L305.1 934.5L307.1 944.5L309.0 953.8L311.0 962.7L313.0 971.1L315.0 979.0L317.0 986.7L318.5 992.3L319.0 993.9L320.9 1000.9L322.9 1007.6L324.9 1014.0L326.9 1020.1L328.9 1026.0L330.9 1031.6L332.8 1036.9L332.8 1037.0L334.8 1042.2L336.8 1047.2L338.8 1052.0L340.8 1056.7L342.8 1061.1L344.7 1065.5L346.7 1069.7L347.1 1070.5L348.7 1073.8L350.7 1077.8L352.7 1081.6L354.7 1085.3L356.6 1089.0L358.6 1092.6L360.6 1096.1L361.4 1097.5L362.6 1099.6L364.6 1103.1L366.6 1106.5L368.5 1109.9L370.5 1113.2L372.5 1116.5L374.5 1119.7L376.0 1122.2L376.5 1122.9L378.5 1126.0L380.4 1129.1L382.4 1132.2L384.4 1135.2L386.4 1138.3L388.4 1141.2L390.3 1144.2L392.3 1147.1L394.3 1150.0L396.3 1152.9L398.3 1155.7L400.3 1158.4L402.2 1161.2L404.2 1163.8L404.6 1164.4L406.2 1166.5L408.2 1169.1L410.2 1171.6L412.2 1174.1L414.1 1176.6L416.1 1179.0L418.1 1181.4L420.1 1183.8L422.1 1186.2L424.1 1188.5L426.0 1190.9L428.0 1193.2L430.0 1195.6L432.0 1197.9L433.5 1199.7L434.0 1200.2L436.0 1202.5L437.9 1204.8L439.9 1207.0L441.9 1209.1L443.9 1211.3L445.9 1213.4L447.9 1215.6L449.8 1217.7L451.8 1219.9L453.8 1222.2L455.8 1224.5L457.8 1226.9L459.8 1229.3L461.7 1231.9L462.1 1232.4L463.7 1234.5L465.7 1237.3L467.7 1240.1L469.7 1243.0L471.7 1246.1L473.6 1249.3L475.6 1252.7L476.4 1254.1L477.6 1256.2L479.6 1259.9L481.6 1263.8L483.6 1267.9L485.5 1272.2L487.5 1276.6L489.5 1281.3L490.7 1284.2L491.5 1286.2L493.5 1291.4L495.5 1297.1L497.4 1303.0L499.4 1309.0L501.4 1315.1L503.4 1321.1L505.0 1325.8L505.4 1326.8L507.4 1332.6L509.3 1338.4L511.3 1344.2L513.3 1350.0L515.3 1355.6L517.3 1360.9L519.3 1366.0L519.6 1367.0L521.2 1370.8L523.2 1375.3L525.2 1379.5L526.6 1382.3L527.2 1383.3L529.2 1387.0L531.1 1390.4L533.1 1393.4L533.9 1394.5L535.1 1396.0L537.1 1398.5L539.1 1400.6L540.9 1402.0L541.1 1402.0L543.0 1403.0L545.0 1403.7L547.0 1404.3L548.2 1404.5L549.0 1404.6L551.0 1405.0L553.0 1405.2L554.9 1405.5L556.9 1405.8L558.9 1406.0L560.9 1406.2L562.9 1406.4L564.9 1406.6L566.8 1406.7L568.8 1406.9L570.8 1407.0L572.8 1407.1L574.8 1407.2L576.8 1407.2L577.2 1407.3L578.7 1407.3L580.7 1407.4L582.7 1407.4L584.7 1407.4L586.7 1407.5L588.7 1407.5L590.6 1407.5L592.6 1407.6L594.6 1407.6L596.6 1407.6L598.6 1407.7L600.6 1407.7L602.5 1407.7L604.5 1407.8L605.8 1407.8L606.5 1407.8L608.5 1407.8L610.5 1407.9L612.5 1407.9L614.4 1408.0L616.4 1408.0L618.4 1408.0L620.4 1408.1L622.4 1408.1L624.4 1408.2L626.3 1408.2L628.3 1408.3L630.3 1408.4L632.3 1408.5L634.3 1408.5L634.7 1408.6L636.3 1408.6L638.2 1408.8L640.2 1409.0L642.2 1409.3L644.2 1409.5L646.2 1409.8L648.2 1410.2L650.1 1410.5L652.1 1410.8L654.1 1411.1L656.1 1411.4L658.1 1411.7L660.0 1412.0L660.0 1412.0L662.0 1412.3L664.0 1412.5L666.0 1412.8L668.0 1413.0L670.0 1413.3L671.9 1413.5L673.9 1413.7L675.9 1414.0L677.9 1414.2L679.9 1414.4L681.9 1414.7L683.8 1414.9L685.8 1415.2L687.8 1415.4L689.8 1415.6L691.8 1415.9L691.9 1415.9L693.8 1416.1L695.7 1416.4L697.7 1416.6L699.7 1416.9L701.7 1417.2L703.7 1417.4L705.7 1417.7L707.6 1417.9L709.6 1418.2L711.6 1418.5L713.6 1418.7L715.6 1419.0L717.6 1419.3L719.5 1419.5L721.5 1419.8L723.5 1420.0L725.5 1420.3L727.5 1420.5L729.5 1420.8L731.4 1421.1L733.4 1421.3L735.4 1421.5L737.4 1421.8L739.4 1422.0L741.4 1422.3L743.3 1422.5L745.3 1422.7L747.3 1422.9L749.3 1423.1L750.0 1423.2L751.3 1423.3L753.3 1423.6L755.2 1423.8L757.2 1424.0L759.2 1424.2L761.2 1424.4L763.2 1424.6L765.2 1424.9L767.1 1425.1L769.1 1425.3L771.1 1425.5L773.1 1425.7L775.1 1425.9L777.1 1426.1L779.0 1426.3L781.0 1426.5L783.0 1426.7L785.0 1426.9L787.0 1427.1L789.0 1427.2L790.9 1427.4L792.9 1427.5L794.9 1427.7L796.9 1427.8L798.9 1427.9L800.8 1428.0L802.8 1428.1L804.8 1428.2L806.8 1428.3L807.0 1428.3L808.8 1428.3L810.8 1428.4L812.7 1428.5L814.7 1428.5L816.7 1428.6L818.7 1428.6L820.7 1428.7L822.7 1428.7L824.6 1428.8L826.6 1428.8L828.6 1428.9L830.6 1428.9L832.6 1429.0L834.6 1429.0L836.5 1429.0L838.5 1429.1L840.5 1429.1L842.5 1429.1L844.5 1429.2L846.5 1429.2L848.4 1429.2L850.4 1429.3L852.4 1429.3L854.4 1429.3L856.4 1429.3L858.4 1429.3L860.3 1429.4L862.3 1429.4L864.3 1429.4L864.9 1429.4L866.3 1429.4L868.3 1429.4L870.3 1429.4L872.2 1429.4L874.2 1429.4L876.2 1429.5L878.2 1429.5L880.2 1429.5L882.2 1429.5L884.1 1429.5L886.1 1429.5L888.1 1429.5L890.1 1429.5L892.1 1429.5L894.1 1429.5L896.0 1429.5L898.0 1429.6L900.0 1429.6L902.0 1429.6L904.0 1429.6L906.0 1429.6L907.9 1429.6L909.9 1429.6L911.9 1429.6L913.9 1429.6L915.9 1429.6L917.9 1429.6L919.8 1429.6L921.8 1429.6L922.0 1429.6L923.8 1429.6L925.8 1429.6L927.8 1429.6L929.8 1429.6L931.7 1429.5L933.7 1429.5L935.7 1429.5L937.7 1429.4L939.7 1429.4L941.6 1429.3L943.6 1429.3L945.6 1429.2L947.6 1429.2L949.6 1429.1L951.6 1429.1L953.5 1429.0L955.5 1429.0L957.5 1428.9L959.5 1428.8L961.5 1428.8L963.5 1428.7L965.4 1428.6L967.4 1428.6L969.4 1428.5L971.4 1428.5L973.4 1428.4L975.4 1428.4L977.3 1428.3L979.3 1428.2L980.0 1428.2L981.3 1428.2L983.3 1428.1L985.3 1428.1L987.3 1428.0L989.2 1428.0L991.2 1427.9L993.2 1427.9L995.2 1427.8L997.2 1427.8L999.2 1427.7L1001.1 1427.7L1003.1 1427.6L1005.1 1427.5L1007.1 1427.5L1009.1 1427.4L1011.1 1427.4L1013.0 1427.3L1015.0 1427.3L1017.0 1427.2L1019.0 1427.2L1021.0 1427.1L1023.0 1427.0L1024.9 1427.0L1026.9 1426.9L1028.9 1426.9L1030.9 1426.8L1032.9 1426.8L1034.9 1426.7L1036.8 1426.7L1037.0 1426.7L1038.8 1426.6L1040.8 1426.6L1042.8 1426.5L1044.8 1426.5L1046.8 1426.4L1048.7 1426.4L1050.7 1426.3L1052.7 1426.3L1054.7 1426.3L1056.7 1426.2L1058.7 1426.2L1060.6 1426.1L1062.6 1426.1L1064.6 1426.0L1066.6 1426.0L1068.6 1425.9L1070.6 1425.9L1072.5 1425.9L1074.5 1425.8L1076.5 1425.8L1078.5 1425.7L1080.5 1425.7L1082.4 1425.6L1084.4 1425.6L1086.4 1425.5L1088.4 1425.5L1090.4 1425.4L1092.4 1425.4L1094.3 1425.3L1095.0 1425.3L1096.3 1425.3L1098.3 1425.2L1100.3 1425.2L1102.3 1425.1L1104.3 1425.0L1106.2 1425.0L1108.2 1424.9L1110.2 1424.8L1112.2 1424.8L1114.2 1424.7L1116.2 1424.6L1118.1 1424.6L1120.1 1424.5L1122.1 1424.4L1124.1 1424.4L1126.1 1424.3L1128.1 1424.2L1130.0 1424.2L1132.0 1424.1L1134.0 1424.0L1136.0 1423.9L1138.0 1423.9L1140.0 1423.8L1141.9 1423.7L1143.9 1423.7L1145.9 1423.6L1147.9 1423.5L1149.9 1423.5L1151.9 1423.4L1152.0 1423.4L1153.8 1423.3L1155.8 1423.3L1157.8 1423.2L1159.8 1423.1L1161.8 1423.1L1163.8 1423.0L1165.7 1422.9L1167.7 1422.8L1169.7 1422.8L1171.7 1422.7L1173.7 1422.6L1175.7 1422.6L1177.6 1422.5L1179.6 1422.4L1181.6 1422.4L1183.6 1422.3L1185.6 1422.2L1187.6 1422.2L1189.5 1422.1L1191.5 1422.0L1193.5 1422.0L1195.5 1421.9L1197.5 1421.8L1199.5 1421.8L1201.4 1421.7L1203.4 1421.7L1205.4 1421.6L1207.4 1421.6L1209.4 1421.5L1210.0 1421.5L1211.4 1421.5L1213.3 1421.4L1215.3 1421.4L1217.3 1421.3L1219.3 1421.3L1221.3 1421.2L1223.2 1421.2L1225.2 1421.2L1227.2 1421.1L1229.2 1421.1L1231.2 1421.0L1233.2 1421.0L1235.1 1421.0L1237.1 1420.9L1239.1 1420.9L1241.1 1420.9L1243.1 1420.8L1245.1 1420.8L1247.0 1420.7L1249.0 1420.7L1251.0 1420.7L1253.0 1420.6L1255.0 1420.6L1257.0 1420.6L1258.9 1420.5L1260.9 1420.5L1262.9 1420.5L1264.9 1420.5L1266.9 1420.4L1268.9 1420.4L1270.8 1420.4L1272.8 1420.3L1274.8 1420.3L1276.8 1420.3L1278.8 1420.2L1280.8 1420.2L1282.7 1420.2L1284.7 1420.1L1286.7 1420.1L1288.7 1420.1L1290.7 1420.0L1292.7 1420.0L1294.6 1420.0L1296.6 1420.0L1298.6 1419.9L1300.6 1419.9L1302.6 1419.9L1304.6 1419.8L1306.5 1419.8L1308.5 1419.8L1310.5 1419.7L1312.5 1419.7L1314.5 1419.7L1316.5 1419.6L1318.4 1419.6L1320.4 1419.6L1322.4 1419.6L1324.4 1419.5L1325.0 1419.5L1326.4 1419.5L1328.4 1419.4L1330.3 1419.4L1332.3 1419.4L1334.3 1419.3L1336.3 1419.3L1338.3 1419.3L1340.3 1419.2L1342.2 1419.2L1344.2 1419.2L1346.2 1419.1L1348.2 1419.1L1350.2 1419.1L1352.1 1419.0L1354.1 1419.0L1356.1 1419.0L1358.1 1418.9L1360.1 1418.9L1362.1 1418.9L1364.0 1418.8L1366.0 1418.8L1368.0 1418.8L1370.0 1418.7L1372.0 1418.7L1374.0 1418.7L1375.9 1418.6L1377.9 1418.6L1379.9 1418.6L1381.9 1418.5L1383.9 1418.5L1385.9 1418.5L1387.8 1418.4L1389.8 1418.4L1391.8 1418.4L1393.8 1418.3L1395.8 1418.3L1397.8 1418.3L1399.7 1418.2L1401.7 1418.2L1403.7 1418.2L1405.7 1418.1L1407.7 1418.1L1409.7 1418.1L1411.6 1418.0L1413.6 1418.0L1415.6 1418.0L1417.6 1418.0L1419.6 1417.9L1421.6 1417.9L1423.5 1417.9L1425.5 1417.8L1427.5 1417.8L1429.5 1417.8L1431.5 1417.7L1433.5 1417.7L1435.4 1417.7L1437.4 1417.7L1439.4 1417.6L1440.0 1417.6L1441.4 1417.6L1443.4 1417.6L1445.4 1417.5L1447.3 1417.5L1449.3 1417.5L1451.3 1417.5L1453.3 1417.4L1455.3 1417.4L1457.3 1417.4L1459.2 1417.3L1461.2 1417.3L1463.2 1417.3L1465.2 1417.3L1467.2 1417.2L1469.2 1417.2L1471.1 1417.2L1473.1 1417.1L1475.1 1417.1L1477.1 1417.1L1479.1 1417.1L1481.1 1417.0L1483.0 1417.0L1485.0 1417.0L1487.0 1416.9L1489.0 1416.9L1491.0 1416.9L1492.9 1416.9L1494.9 1416.8L1496.9 1416.8L1498.9 1416.8L1500.9 1416.7L1502.9 1416.7L1504.8 1416.7L1506.8 1416.7L1508.8 1416.6L1510.8 1416.6L1512.8 1416.6L1514.8 1416.6L1516.7 1416.6L1518.7 1416.5L1520.7 1416.5L1522.7 1416.5L1524.7 1416.5L1526.7 1416.4L1528.6 1416.4L1530.6 1416.4L1532.6 1416.4L1534.6 1416.4L1536.6 1416.3L1538.6 1416.3L1540.5 1416.3L1542.5 1416.3L1544.5 1416.3L1546.5 1416.3L1548.5 1416.2L1550.5 1416.2L1552.4 1416.2L1554.4 1416.2L1555.1 1416.2L1556.4 1416.2L1558.4 1416.2L1560.4 1416.2L1562.4 1416.1L1564.3 1416.1L1566.3 1416.1L1568.3 1416.1L1570.3 1416.1L1572.3 1416.1L1574.3 1416.1L1576.2 1416.1L1578.2 1416.0L1580.2 1416.0L1582.2 1416.0L1584.2 1416.0L1586.2 1416.0L1588.1 1416.0L1590.1 1416.0L1592.1 1416.0L1594.1 1416.0L1596.1 1415.9L1598.1 1415.9L1600.0 1415.9L1602.0 1415.9L1604.0 1415.9L1606.0 1415.9L1608.0 1415.9L1610.0 1415.9L1611.9 1415.9L1613.9 1415.9L1615.9 1415.8L1617.9 1415.8L1619.9 1415.8L1621.9 1415.8L1623.8 1415.8L1625.8 1415.8L1627.8 1415.8L1629.8 1415.8L1631.8 1415.8L1633.7 1415.8L1635.7 1415.8L1637.7 1415.8L1639.7 1415.7L1641.7 1415.7L1643.7 1415.7L1645.6 1415.7L1647.6 1415.7L1649.6 1415.7L1651.6 1415.7L1653.6 1415.7L1655.6 1415.7L1657.5 1415.7L1659.5 1415.7L1661.5 1415.7L1663.5 1415.7L1665.5 1415.7L1667.5 1415.7L1669.4 1415.7L1670.1 1415.7L1671.4 1415.7L1673.4 1415.7L1675.4 1415.7L1677.4 1415.7L1679.4 1415.7L1681.3 1415.7L1683.3 1415.7L1685.3 1415.7L1687.3 1415.7L1689.3 1415.7L1691.3 1415.7L1693.2 1415.7L1695.2 1415.7L1697.2 1415.8L1699.2 1415.8L1701.2 1415.8L1703.2 1415.8L1705.1 1415.8L1707.1 1415.8L1709.1 1415.8L1711.1 1415.8L1713.1 1415.8L1715.1 1415.8L1717.0 1415.8L1719.0 1415.9L1721.0 1415.9L1723.0 1415.9L1725.0 1415.9L1727.0 1415.9L1728.9 1415.9L1730.9 1415.9L1732.9 1415.9L1734.9 1415.9L1736.9 1416.0L1738.9 1416.0L1740.8 1416.0L1742.8 1416.0L1744.8 1416.0L1746.8 1416.0L1748.8 1416.0L1750.8 1416.0L1752.7 1416.0L1754.7 1416.1L1756.7 1416.1L1758.7 1416.1L1760.7 1416.1L1762.7 1416.1L1764.6 1416.1L1766.6 1416.1L1768.6 1416.1L1770.6 1416.1L1772.6 1416.1L1774.5 1416.2L1776.5 1416.2L1778.5 1416.2L1780.5 1416.2L1782.5 1416.2L1784.5 1416.2L1785.1 1416.2L1786.4 1416.2L1788.4 1416.2L1790.4 1416.2L1792.4 1416.2L1794.4 1416.2L1796.4 1416.2L1798.3 1416.2L1800.3 1416.2L1802.3 1416.3L1804.3 1416.3L1806.3 1416.3L1808.3 1416.3L1810.2 1416.3L1812.2 1416.3L1814.2 1416.3L1816.2 1416.3L1818.2 1416.3L1820.2 1416.3L1822.1 1416.3L1824.1 1416.3L1826.1 1416.3L1828.1 1416.3L1830.1 1416.3L1832.1 1416.3L1834.0 1416.4L1836.0 1416.4L1838.0 1416.4L1840.0 1416.4L1842.0 1416.4L1844.0 1416.4L1845.9 1416.4L1847.9 1416.4L1849.9 1416.4L1851.9 1416.4L1853.9 1416.4L1855.9 1416.4L1857.8 1416.4L1859.8 1416.4L1861.8 1416.4L1863.8 1416.4L1865.8 1416.4L1867.8 1416.4L1869.7 1416.5L1871.7 1416.5L1873.7 1416.5L1875.7 1416.5L1877.7 1416.5L1879.7 1416.5L1881.6 1416.5L1883.6 1416.5L1885.6 1416.5L1887.6 1416.5L1889.6 1416.5L1891.6 1416.5L1893.5 1416.5L1895.5 1416.5L1897.5 1416.5L1899.5 1416.5L1900.1 1416.5L1901.5 1416.5L1903.5 1416.5L1905.4 1416.5L1907.4 1416.5L1909.4 1416.5L1911.4 1416.5L1913.4 1416.5L1915.3 1416.5L1917.3 1416.5L1919.3 1416.5L1921.3 1416.5L1923.3 1416.5L1925.3 1416.5L1927.2 1416.5L1929.2 1416.5L1931.2 1416.5L1933.2 1416.5L1935.2 1416.5L1937.2 1416.5L1939.1 1416.5L1941.1 1416.5L1943.1 1416.5L1945.1 1416.5L1947.1 1416.6L1949.1 1416.6L1951.0 1416.6L1953.0 1416.6L1955.0 1416.6L1957.0 1416.6L1959.0 1416.6L1961.0 1416.6L1962.9 1416.6L1964.9 1416.6L1966.9 1416.6L1968.9 1416.6L1970.9 1416.6L1972.9 1416.6L1974.8 1416.6L1976.8 1416.6L1978.8 1416.6L1980.8 1416.6L1982.8 1416.6L1984.8 1416.6L1986.7 1416.6L1988.7 1416.6L1990.7 1416.6L1992.7 1416.6L1994.7 1416.6L1996.7 1416.6L1998.6 1416.6L2000.6 1416.6L2002.6 1416.6L2004.6 1416.6L2006.6 1416.6L2008.6 1416.6L2010.5 1416.6L2012.5 1416.6L2014.5 1416.6L2014.9 1416.6L2016.5 1416.6L2018.5 1416.6L2020.5 1416.6L2022.4 1416.6L2024.4 1416.6L2026.4 1416.6" stroke="#FF00FF"/><path d="M243.6 108.6L245.6 128.5L247.6 148.1L247.7 149.8L249.5 165.6L251.5 184.1L252.3 193.8L253.5 213.5L255.5 257.9L256.8 286.9L257.5 299.9L259.5 339.4L261.4 375.2L262.0 384.0L263.4 404.6L265.4 430.0L267.2 450.0L267.4 452.3L269.4 472.1L271.4 490.1L273.3 506.9L275.3 523.4L277.3 540.0L278.5 550.0L279.3 557.6L281.3 576.3L283.3 595.3L285.2 613.9L287.2 631.4L289.2 647.2L289.6 650.1L291.2 661.2L293.2 674.3L295.2 686.7L297.1 698.4L299.1 709.4L301.1 719.9L303.1 729.9L304.2 735.3L305.1 739.4L307.1 748.5L309.0 757.3L311.0 765.6L313.0 773.5L315.0 781.0L317.0 788.2L318.5 793.4L319.0 794.9L320.9 801.3L322.9 807.4L324.9 813.2L326.9 818.8L328.9 824.1L330.9 829.3L332.7 834.0L332.8 834.2L334.8 839.0L336.8 843.5L338.8 847.9L340.8 852.1L342.8 856.2L344.7 860.3L346.7 864.3L347.1 865.1L348.7 868.4L350.7 872.3L352.7 876.2L354.7 880.0L356.6 883.8L358.6 887.5L360.6 891.2L361.4 892.6L362.6 894.9L364.6 898.5L366.6 902.1L368.5 905.7L370.5 909.2L372.5 912.7L374.5 916.1L376.0 918.8L376.5 919.5L378.5 922.8L380.4 926.1L382.4 929.4L384.4 932.6L386.4 935.8L388.4 939.0L390.3 942.2L392.3 945.3L394.3 948.4L396.3 951.5L398.3 954.5L400.3 957.6L402.2 960.6L404.2 963.6L404.6 964.2L406.2 966.5L408.2 969.4L410.2 972.3L412.2 975.1L414.1 977.8L416.1 980.6L418.1 983.3L420.1 986.1L422.1 988.8L424.1 991.6L426.0 994.3L428.0 997.1L430.0 1000.0L432.0 1002.9L433.5 1005.2L434.0 1005.8L436.0 1008.8L437.9 1011.7L439.9 1014.7L441.9 1017.7L443.9 1020.7L445.9 1023.7L447.9 1026.8L449.8 1029.9L451.8 1033.0L453.8 1036.2L455.8 1039.5L457.8 1042.8L459.8 1046.2L461.7 1049.6L462.1 1050.3L463.7 1053.2L465.7 1056.8L467.7 1060.5L469.7 1064.4L471.7 1068.3L473.6 1072.4L475.6 1076.6L476.4 1078.4L477.6 1081.0L479.6 1085.5L481.6 1090.1L483.6 1094.9L485.5 1099.8L487.5 1104.9L489.5 1110.1L490.7 1113.3L491.5 1115.4L493.5 1121.0L495.5 1126.8L497.4 1132.8L499.4 1138.8L501.4 1145.0L503.4 1151.1L505.0 1156.0L505.4 1157.1L507.4 1163.1L509.3 1169.2L511.3 1175.4L513.3 1181.5L515.3 1187.6L517.3 1193.6L519.3 1199.4L519.6 1200.6L521.2 1205.2L523.2 1211.0L525.2 1216.8L527.2 1222.4L529.2 1227.9L531.1 1233.2L533.1 1238.1L533.9 1240.0L535.1 1242.7L537.1 1247.2L539.1 1251.5L541.1 1255.6L543.0 1259.6L545.0 1263.3L547.0 1266.7L548.2 1268.7L549.0 1269.9L551.0 1273.0L553.0 1276.0L554.9 1278.9L556.9 1281.7L558.9 1284.5L560.9 1287.2L562.9 1289.7L564.9 1292.2L566.8 1294.5L568.8 1296.8L570.8 1298.9L572.8 1300.9L574.8 1302.8L576.8 1304.5L577.2 1304.9L578.7 1306.2L580.7 1307.8L582.7 1309.3L584.7 1310.8L586.7 1312.2L588.7 1313.6L590.6 1314.9L592.6 1316.1L594.6 1317.3L596.6 1318.4L598.6 1319.5L600.6 1320.5L602.5 1321.5L604.5 1322.4L605.8 1322.9L606.5 1323.2L608.5 1324.0L610.5 1324.7L612.5 1325.4L614.4 1326.1L616.4 1326.8L618.4 1327.4L620.4 1328.0L622.4 1328.5L624.4 1329.1L626.3 1329.6L628.3 1330.2L630.3 1330.7L632.3 1331.2L634.3 1331.7L634.7 1331.8L636.3 1332.2L638.2 1332.7L640.2 1333.2L642.2 1333.7L644.2 1334.2L646.2 1334.7L648.2 1335.1L650.1 1335.6L652.1 1336.0L654.1 1336.5L656.1 1336.9L658.1 1337.3L660.0 1337.7L662.0 1338.2L664.0 1338.6L666.0 1339.0L668.0 1339.4L670.0 1339.8L671.9 1340.2L673.9 1340.6L675.9 1341.0L677.9 1341.4L679.9 1341.9L681.9 1342.3L683.8 1342.7L685.8 1343.1L687.8 1343.5L689.8 1343.9L691.8 1344.4L691.9 1344.4L693.8 1344.8L695.7 1345.2L697.7 1345.6L699.7 1346.1L701.7 1346.5L703.7 1346.9L705.7 1347.3L707.6 1347.7L709.6 1348.1L711.6 1348.6L713.6 1349.0L715.6 1349.4L717.6 1349.8L719.5 1350.2L721.5 1350.6L723.5 1351.0L725.5 1351.5L727.5 1351.9L729.5 1352.3L731.4 1352.7L733.4 1353.2L735.4 1353.6L737.4 1354.0L739.4 1354.5L741.4 1354.9L743.3 1355.4L745.3 1355.8L747.3 1356.3L749.3 1356.7L750.0 1356.9L751.3 1357.2L753.3 1357.7L755.2 1358.2L757.2 1358.7L759.2 1359.2L761.2 1359.7L763.2 1360.2L765.2 1360.7L767.1 1361.2L769.1 1361.7L771.1 1362.2L773.1 1362.7L775.1 1363.3L777.1 1363.8L779.0 1364.3L781.0 1364.8L783.0 1365.4L785.0 1365.9L787.0 1366.5L789.0 1367.0L790.9 1367.5L792.9 1368.1L794.9 1368.6L796.9 1369.1L798.9 1369.7L800.8 1370.2L802.8 1370.8L804.8 1371.3L806.8 1371.8L807.0 1371.9L808.8 1372.4L810.8 1372.9L812.7 1373.5L814.7 1374.0L816.7 1374.5L818.7 1375.1L820.7 1375.6L822.7 1376.2L824.6 1376.7L826.6 1377.3L828.6 1377.8L830.6 1378.4L832.6 1378.9L834.6 1379.5L836.5 1380.0L838.5 1380.6L840.5 1381.1L842.5 1381.7L844.5 1382.3L846.5 1382.8L848.4 1383.4L850.4 1383.9L852.4 1384.5L854.4 1385.0L856.4 1385.6L858.4 1386.1L860.3 1386.7L862.3 1387.3L864.3 1387.8L864.9 1388.0L866.3 1388.4L868.3 1388.9L870.3 1389.5L872.2 1390.1L874.2 1390.6L876.2 1391.2L878.2 1391.8L880.2 1392.3L882.2 1392.9L884.1 1393.5L886.1 1394.1L888.1 1394.7L890.1 1395.2L892.1 1395.8L894.1 1396.4L896.0 1397.0L898.0 1397.5L900.0 1398.1L902.0 1398.7L904.0 1399.2L906.0 1399.8L907.9 1400.3L909.9 1400.9L911.9 1401.4L913.9 1401.9L915.9 1402.4L917.9 1403.0L919.8 1403.5L921.8 1404.0L922.0 1404.0L923.8 1404.5L925.8 1404.9L927.8 1405.4L929.8 1405.9L931.7 1406.4L933.7 1406.9L935.7 1407.4L937.7 1407.8L939.7 1408.3L941.6 1408.8L943.6 1409.2L945.6 1409.7L947.6 1410.1L949.6 1410.6L951.6 1411.0L953.5 1411.5L955.5 1411.9L957.5 1412.4L959.5 1412.8L961.5 1413.2L963.5 1413.6L965.4 1414.0L967.4 1414.5L969.4 1414.9L971.4 1415.3L973.4 1415.6L975.4 1416.0L977.3 1416.4L979.3 1416.8L980.0 1416.9L981.3 1417.1L983.3 1417.5L985.3 1417.9L987.3 1418.2L989.2 1418.6L991.2 1418.9L993.2 1419.3L995.2 1419.7L997.2 1420.0L999.2 1420.3L1001.1 1420.7L1003.1 1421.0L1005.1 1421.4L1007.1 1421.7L1009.1 1422.0L1011.1 1422.3L1013.0 1422.6L1015.0 1423.0L1017.0 1423.3L1019.0 1423.5L1021.0 1423.8L1023.0 1424.1L1024.9 1424.4L1026.9 1424.7L1028.9 1424.9L1030.9 1425.2L1032.9 1425.4L1034.9 1425.7L1036.8 1425.9L1037.0 1425.9L1038.8 1426.1L1040.8 1426.3L1042.8 1426.5L1044.8 1426.8L1046.8 1427.0L1048.7 1427.2L1050.7 1427.4L1052.7 1427.6L1054.7 1427.8L1056.7 1428.0L1058.7 1428.2L1060.6 1428.4L1062.6 1428.6L1064.6 1428.7L1066.6 1428.9L1068.6 1429.1L1070.6 1429.3L1072.5 1429.4L1074.5 1429.6L1076.5 1429.7L1078.5 1429.9L1080.5 1430.0L1082.4 1430.2L1084.4 1430.3L1086.4 1430.4L1088.4 1430.5L1090.4 1430.7L1092.4 1430.8L1094.3 1430.9L1095.0 1430.9L1096.3 1431.0L1098.3 1431.1L1100.3 1431.1L1102.3 1431.2L1104.3 1431.3L1106.2 1431.4L1108.2 1431.5L1110.2 1431.6L1112.2 1431.7L1114.2 1431.8L1116.2 1431.9L1118.1 1432.0L1120.1 1432.0L1122.1 1432.1L1124.1 1432.2L1126.1 1432.3L1128.1 1432.3L1130.0 1432.4L1132.0 1432.5L1134.0 1432.5L1136.0 1432.6L1138.0 1432.6L1140.0 1432.7L1141.9 1432.7L1143.9 1432.7L1145.9 1432.8L1147.9 1432.8L1149.9 1432.8L1151.9 1432.8L1152.0 1432.8L1153.8 1432.8L1155.8 1432.8L1157.8 1432.8L1159.8 1432.8L1161.8 1432.8L1163.8 1432.8L1165.7 1432.8L1167.7 1432.8L1169.7 1432.8L1171.7 1432.8L1173.7 1432.8L1175.7 1432.8L1177.6 1432.8L1179.6 1432.8L1181.6 1432.8L1183.6 1432.8L1185.6 1432.8L1187.6 1432.8L1189.5 1432.8L1191.5 1432.8L1193.5 1432.8L1195.5 1432.8L1197.5 1432.8L1199.5 1432.8L1201.4 1432.8L1203.4 1432.8L1205.4 1432.8L1207.4 1432.8L1209.4 1432.8L1210.0 1432.8L1211.4 1432.8L1213.3 1432.8L1215.3 1432.8L1217.3 1432.8L1219.3 1432.7L1221.3 1432.7L1223.2 1432.7L1225.2 1432.6L1227.2 1432.6L1229.2 1432.6L1231.2 1432.5L1233.2 1432.5L1235.1 1432.4L1237.1 1432.4L1239.1 1432.3L1241.1 1432.3L1243.1 1432.2L1245.1 1432.1L1247.0 1432.1L1249.0 1432.0L1251.0 1431.9L1253.0 1431.8L1255.0 1431.8L1257.0 1431.7L1258.9 1431.6L1260.9 1431.5L1262.9 1431.4L1264.9 1431.3L1266.9 1431.3L1268.9 1431.2L1270.8 1431.1L1272.8 1431.0L1274.8 1430.9L1276.8 1430.8L1278.8 1430.7L1280.8 1430.6L1282.7 1430.5L1284.7 1430.4L1286.7 1430.3L1288.7 1430.2L1290.7 1430.1L1292.7 1430.1L1294.6 1430.0L1296.6 1429.9L1298.6 1429.8L1300.6 1429.7L1302.6 1429.6L1304.6 1429.5L1306.5 1429.4L1308.5 1429.3L1310.5 1429.3L1312.5 1429.2L1314.5 1429.1L1316.5 1429.0L1318.4 1428.9L1320.4 1428.9L1322.4 1428.8L1324.4 1428.7L1325.0 1428.7L1326.4 1428.6L1328.4 1428.6L1330.3 1428.5L1332.3 1428.4L1334.3 1428.4L1336.3 1428.3L1338.3 1428.2L1340.3 1428.2L1342.2 1428.1L1344.2 1428.0L1346.2 1428.0L1348.2 1427.9L1350.2 1427.9L1352.1 1427.8L1354.1 1427.7L1356.1 1427.7L1358.1 1427.6L1360.1 1427.5L1362.1 1427.5L1364.0 1427.4L1366.0 1427.3L1368.0 1427.3L1370.0 1427.2L1372.0 1427.1L1374.0 1427.1L1375.9 1427.0L1377.9 1427.0L1379.9 1426.9L1381.9 1426.8L1383.9 1426.8L1385.9 1426.7L1387.8 1426.6L1389.8 1426.6L1391.8 1426.5L1393.8 1426.4L1395.8 1426.4L1397.8 1426.3L1399.7 1426.3L1401.7 1426.2L1403.7 1426.1L1405.7 1426.1L1407.7 1426.0L1409.7 1425.9L1411.6 1425.9L1413.6 1425.8L1415.6 1425.7L1417.6 1425.7L1419.6 1425.6L1421.6 1425.5L1423.5 1425.5L1425.5 1425.4L1427.5 1425.3L1429.5 1425.3L1431.5 1425.2L1433.5 1425.1L1435.4 1425.1L1437.4 1425.0L1439.4 1424.9L1440.0 1424.9L1441.4 1424.8L1443.4 1424.8L1445.4 1424.7L1447.3 1424.6L1449.3 1424.6L1451.3 1424.5L1453.3 1424.4L1455.3 1424.3L1457.3 1424.2L1459.2 1424.2L1461.2 1424.1L1463.2 1424.0L1465.2 1423.9L1467.2 1423.9L1469.2 1423.8L1471.1 1423.7L1473.1 1423.6L1475.1 1423.5L1477.1 1423.5L1479.1 1423.4L1481.1 1423.3L1483.0 1423.2L1485.0 1423.1L1487.0 1423.1L1489.0 1423.0L1491.0 1422.9L1492.9 1422.8L1494.9 1422.7L1496.9 1422.6L1498.9 1422.6L1500.9 1422.5L1502.9 1422.4L1504.8 1422.3L1506.8 1422.2L1508.8 1422.2L1510.8 1422.1L1512.8 1422.0L1514.8 1421.9L1516.7 1421.8L1518.7 1421.8L1520.7 1421.7L1522.7 1421.6L1524.7 1421.5L1526.7 1421.5L1528.6 1421.4L1530.6 1421.3L1532.6 1421.2L1534.6 1421.2L1536.6 1421.1L1538.6 1421.0L1540.5 1421.0L1542.5 1420.9L1544.5 1420.8L1546.5 1420.7L1548.5 1420.7L1550.5 1420.6L1552.4 1420.5L1554.4 1420.5L1555.1 1420.5L1556.4 1420.4L1558.4 1420.4L1560.4 1420.3L1562.4 1420.2L1564.3 1420.2L1566.3 1420.1L1568.3 1420.0L1570.3 1420.0L1572.3 1419.9L1574.3 1419.9L1576.2 1419.8L1578.2 1419.7L1580.2 1419.7L1582.2 1419.6L1584.2 1419.5L1586.2 1419.5L1588.1 1419.4L1590.1 1419.4L1592.1 1419.3L1594.1 1419.2L1596.1 1419.2L1598.1 1419.1L1600.0 1419.1L1602.0 1419.0L1604.0 1418.9L1606.0 1418.9L1608.0 1418.8L1610.0 1418.8L1611.9 1418.7L1613.9 1418.7L1615.9 1418.6L1617.9 1418.5L1619.9 1418.5L1621.9 1418.4L1623.8 1418.4L1625.8 1418.3L1627.8 1418.3L1629.8 1418.2L1631.8 1418.2L1633.7 1418.1L1635.7 1418.1L1637.7 1418.0L1639.7 1418.0L1641.7 1417.9L1643.7 1417.9L1645.6 1417.8L1647.6 1417.8L1649.6 1417.8L1651.6 1417.7L1653.6 1417.7L1655.6 1417.6L1657.5 1417.6L1659.5 1417.5L1661.5 1417.5L1663.5 1417.5L1665.5 1417.4L1667.5 1417.4L1669.4 1417.4L1670.1 1417.4L1671.4 1417.3L1673.4 1417.3L1675.4 1417.3L1677.4 1417.2L1679.4 1417.2L1681.3 1417.2L1683.3 1417.2L1685.3 1417.1L1687.3 1417.1L1689.3 1417.1L1691.3 1417.0L1693.2 1417.0L1695.2 1417.0L1697.2 1417.0L1699.2 1416.9L1701.2 1416.9L1703.2 1416.9L1705.1 1416.9L1707.1 1416.8L1709.1 1416.8L1711.1 1416.8L1713.1 1416.8L1715.1 1416.7L1717.0 1416.7L1719.0 1416.7L1721.0 1416.7L1723.0 1416.7L1725.0 1416.6L1727.0 1416.6L1728.9 1416.6L1730.9 1416.6L1732.9 1416.6L1734.9 1416.5L1736.9 1416.5L1738.9 1416.5L1740.8 1416.5L1742.8 1416.5L1744.8 1416.4L1746.8 1416.4L1748.8 1416.4L1750.8 1416.4L1752.7 1416.3L1754.7 1416.3L1756.7 1416.3L1758.7 1416.3L1760.7 1416.3L1762.7 1416.2L1764.6 1416.2L1766.6 1416.2L1768.6 1416.2L1770.6 1416.2L1772.6 1416.1L1774.5 1416.1L1776.5 1416.1L1778.5 1416.1L1780.5 1416.0L1782.5 1416.0L1784.5 1416.0L1785.1 1416.0L1786.4 1416.0L1788.4 1415.9L1790.4 1415.9L1792.4 1415.9L1794.4 1415.9L1796.4 1415.8L1798.3 1415.8L1800.3 1415.8L1802.3 1415.7L1804.3 1415.7L1806.3 1415.7L1808.3 1415.6L1810.2 1415.6L1812.2 1415.6L1814.2 1415.6L1816.2 1415.5L1818.2 1415.5L1820.2 1415.4L1822.1 1415.4L1824.1 1415.4L1826.1 1415.3L1828.1 1415.3L1830.1 1415.3L1832.1 1415.2L1834.0 1415.2L1836.0 1415.2L1838.0 1415.1L1840.0 1415.1L1842.0 1415.1L1844.0 1415.0L1845.9 1415.0L1847.9 1415.0L1849.9 1415.0L1851.9 1414.9L1853.9 1414.9L1855.9 1414.9L1857.8 1414.8L1859.8 1414.8L1861.8 1414.8L1863.8 1414.8L1865.8 1414.7L1867.8 1414.7L1869.7 1414.7L1871.7 1414.7L1873.7 1414.7L1875.7 1414.6L1877.7 1414.6L1879.7 1414.6L1881.6 1414.6L1883.6 1414.6L1885.6 1414.6L1887.6 1414.5L1889.6 1414.5L1891.6 1414.5L1893.5 1414.5L1895.5 1414.5L1897.5 1414.5L1899.5 1414.5L1900.1 1414.5L1901.5 1414.5L1903.5 1414.5L1905.4 1414.5L1907.4 1414.5L1909.4 1414.5L1911.4 1414.5L1913.4 1414.5L1915.3 1414.5L1917.3 1414.5L1919.3 1414.5L1921.3 1414.5L1923.3 1414.5L1925.3 1414.5L1927.2 1414.5L1929.2 1414.6L1931.2 1414.6L1933.2 1414.6L1935.2 1414.6L1937.2 1414.6L1939.1 1414.6L1941.1 1414.6L1943.1 1414.6L1945.1 1414.6L1947.1 1414.6L1949.1 1414.6L1951.0 1414.6L1953.0 1414.6L1955.0 1414.6L1957.0 1414.6L1959.0 1414.6L1961.0 1414.7L1962.9 1414.7L1964.9 1414.7L1966.9 1414.7L1968.9 1414.7L1970.9 1414.7L1972.9 1414.7L1974.8 1414.7L1976.8 1414.7L1978.8 1414.7L1980.8 1414.7L1982.8 1414.7L1984.8 1414.7L1986.7 1414.7L1988.7 1414.7L1990.7 1414.7L1992.7 1414.7L1994.7 1414.7L1996.7 1414.8L1998.6 1414.8L2000.6 1414.8L2002.6 1414.8L2004.6 1414.8L2006.6 1414.8L2008.6 1414.8L2010.5 1414.8L2012.5 1414.8L2014.5 1414.8L2014.9 1414.8L2016.5 1414.8L2018.5 1414.8L2020.5 1414.8L2022.4 1414.8L2024.4 1414.8L2026.4 1414.8" stroke="#FF0000"/><path d="M243.6 147.7L245.6 153.5L247.6 162.8L249.5 174.9L251.5 188.8L252.3 194.8L253.5 205.5L255.5 229.1L257.5 252.2L257.7 254.8L259.5 269.4L261.4 284.7L263.2 300.1L263.4 303.1L265.4 328.3L267.4 357.1L269.4 384.0L269.4 384.2L271.4 407.7L273.3 430.1L275.1 450.0L275.3 452.4L277.3 475.6L279.3 499.0L281.3 521.7L283.3 543.0L284.0 550.0L285.2 561.9L287.2 579.1L289.2 595.3L289.6 598.5L291.2 611.1L293.2 626.6L295.2 641.7L297.1 656.4L299.1 670.7L301.1 684.5L303.1 697.6L304.2 704.8L305.1 710.1L307.1 722.2L309.0 733.8L311.0 745.0L313.0 755.9L315.0 766.2L317.0 776.2L318.5 783.6L319.0 785.8L320.9 794.9L322.9 803.8L324.9 812.3L326.9 820.5L328.9 828.5L330.9 836.1L332.7 843.1L332.8 843.5L334.8 850.5L336.8 857.3L338.8 863.9L340.8 870.3L342.8 876.5L344.7 882.5L346.7 888.3L347.1 889.4L348.7 894.1L350.7 899.6L352.7 905.0L354.7 910.3L356.6 915.5L358.6 920.6L360.6 925.6L361.4 927.6L362.6 930.7L364.6 935.7L366.6 940.6L368.5 945.5L370.5 950.3L372.5 955.1L374.5 959.8L376.0 963.4L376.5 964.4L378.5 969.0L380.4 973.6L382.4 978.2L384.4 982.7L386.4 987.2L388.4 991.6L390.3 996.0L392.3 1000.4L394.3 1004.7L396.3 1009.0L398.3 1013.2L400.3 1017.4L402.2 1021.5L404.2 1025.6L404.6 1026.4L406.2 1029.6L408.2 1033.5L410.2 1037.4L412.2 1041.2L414.1 1045.0L416.1 1048.7L418.1 1052.4L420.1 1056.1L422.1 1059.7L424.1 1063.3L426.0 1067.0L428.0 1070.6L430.0 1074.2L432.0 1077.9L433.5 1080.7L434.0 1081.5L436.0 1085.1L437.9 1088.6L439.9 1092.0L441.9 1095.4L443.9 1098.8L445.9 1102.2L447.9 1105.6L449.8 1109.0L451.8 1112.5L453.8 1116.1L455.8 1119.8L457.8 1123.7L459.8 1127.6L461.7 1131.8L462.1 1132.6L463.7 1136.1L465.7 1140.6L467.7 1145.4L469.7 1150.3L471.7 1155.5L473.6 1160.9L475.6 1166.6L476.4 1169.0L477.6 1172.5L479.6 1178.8L481.6 1185.4L483.6 1192.3L485.5 1199.6L487.5 1207.1L489.5 1214.8L490.7 1219.6L491.5 1222.8L493.5 1231.3L495.5 1240.3L497.4 1249.7L499.4 1259.2L501.4 1268.7L503.4 1278.0L505.0 1285.3L505.4 1287.0L507.4 1295.8L509.3 1304.6L511.3 1313.4L513.3 1322.0L515.3 1330.4L517.3 1338.5L519.3 1346.2L519.6 1347.7L521.2 1353.5L523.2 1360.4L525.2 1366.9L526.6 1371.2L527.2 1372.8L529.2 1378.3L531.1 1383.4L533.1 1387.9L533.9 1389.5L535.1 1391.6L537.1 1394.9L539.1 1397.8L540.9 1399.8L541.1 1399.9L543.0 1401.5L545.0 1402.8L547.0 1403.9L548.2 1404.4L549.0 1404.6L551.0 1405.3L553.0 1405.9L554.9 1406.5L556.9 1407.0L558.9 1407.5L560.9 1407.9L562.9 1408.4L564.9 1408.7L566.8 1409.1L568.8 1409.5L570.8 1409.9L572.8 1410.2L574.8 1410.6L576.8 1411.0L577.2 1411.1L578.7 1411.5L580.7 1411.9L582.7 1412.2L584.7 1412.6L586.7 1412.9L588.7 1413.3L590.6 1413.6L592.6 1414.0L594.6 1414.4L596.6 1414.7L598.6 1415.1L600.6 1415.6L602.5 1416.0L604.5 1416.5L605.8 1416.8L606.5 1417.0L608.5 1417.6L610.5 1418.3L612.5 1419.0L614.4 1419.7L616.4 1420.5L618.4 1421.3L620.4 1422.2L622.4 1423.1L624.4 1424.0L626.3 1424.9L628.3 1425.8L630.3 1426.7L632.3 1427.7L634.3 1428.6L634.7 1428.7L636.3 1429.5L638.2 1430.5L640.2 1431.5L642.2 1432.5L644.2 1433.6L646.2 1434.6L648.2 1435.7L650.1 1436.8L652.1 1437.8L654.1 1438.8L656.1 1439.8L658.1 1440.7L660.0 1441.5L660.0 1441.5L662.0 1442.3L664.0 1443.1L666.0 1443.8L668.0 1444.5L670.0 1445.1L671.9 1445.8L673.9 1446.5L675.9 1447.2L677.2 1447.6L677.9 1447.9L679.9 1448.7L681.9 1449.5L683.8 1450.4L685.8 1451.2L687.8 1451.9L689.8 1452.5L691.8 1453.0L691.9 1453.1L693.8 1453.4L695.7 1453.8L697.7 1454.2L699.7 1454.5L701.7 1454.9L703.7 1455.2L705.7 1455.5L707.6 1455.8L709.6 1456.0L711.6 1456.2L713.6 1456.4L715.6 1456.5L717.6 1456.6L719.5 1456.7L720.9 1456.7L721.5 1456.7L723.5 1456.7L725.5 1456.6L727.5 1456.5L729.5 1456.3L731.4 1456.2L733.4 1456.0L735.4 1455.8L737.4 1455.6L739.4 1455.4L741.4 1455.1L743.3 1454.9L745.3 1454.6L747.3 1454.4L749.3 1454.2L750.0 1454.1L751.3 1454.0L753.3 1453.7L755.2 1453.5L757.2 1453.3L759.2 1453.0L761.2 1452.7L763.2 1452.5L765.2 1452.2L767.1 1451.9L769.1 1451.6L771.1 1451.3L773.1 1451.0L775.1 1450.7L777.1 1450.4L778.4 1450.2L779.0 1450.1L781.0 1449.8L783.0 1449.5L785.0 1449.2L787.0 1448.9L789.0 1448.6L790.9 1448.2L792.9 1447.9L794.9 1447.5L796.9 1447.2L798.9 1446.9L800.8 1446.5L802.8 1446.2L804.8 1445.9L806.8 1445.5L807.0 1445.5L808.8 1445.2L810.8 1444.8L812.7 1444.5L814.7 1444.1L816.7 1443.7L818.7 1443.3L820.7 1443.0L822.7 1442.6L824.6 1442.2L826.6 1441.8L828.6 1441.4L830.6 1441.0L832.6 1440.6L834.6 1440.2L836.5 1439.8L838.5 1439.4L840.5 1439.1L842.5 1438.7L844.5 1438.4L846.5 1438.0L848.4 1437.7L850.4 1437.4L852.4 1437.1L854.4 1436.8L856.4 1436.6L858.4 1436.3L860.3 1436.1L862.3 1435.9L864.3 1435.8L864.9 1435.7L866.3 1435.6L868.3 1435.5L870.3 1435.4L872.2 1435.2L874.2 1435.1L876.2 1435.0L878.2 1434.8L880.2 1434.7L882.2 1434.6L884.1 1434.4L886.1 1434.3L888.1 1434.2L890.1 1434.1L892.1 1434.0L894.1 1433.9L896.0 1433.8L898.0 1433.7L900.0 1433.6L902.0 1433.6L904.0 1433.5L906.0 1433.4L907.9 1433.4L909.9 1433.3L911.9 1433.3L913.9 1433.2L915.9 1433.2L917.9 1433.2L919.8 1433.2L921.8 1433.1L922.0 1433.1L923.8 1433.1L925.8 1433.1L927.8 1433.2L929.8 1433.2L931.7 1433.2L933.7 1433.2L935.7 1433.2L937.7 1433.2L939.7 1433.2L941.6 1433.2L943.6 1433.2L945.6 1433.3L947.6 1433.3L949.6 1433.3L951.6 1433.3L953.5 1433.4L955.5 1433.4L957.5 1433.4L959.5 1433.4L961.5 1433.5L963.5 1433.5L965.4 1433.5L967.4 1433.6L969.4 1433.6L971.4 1433.6L973.4 1433.7L975.4 1433.7L977.3 1433.7L979.3 1433.8L980.0 1433.8L981.3 1433.8L983.3 1433.9L985.3 1433.9L987.3 1434.0L989.2 1434.1L991.2 1434.2L993.2 1434.4L995.2 1434.5L997.2 1434.6L999.2 1434.8L1001.1 1434.9L1003.1 1435.1L1005.1 1435.3L1007.1 1435.5L1009.1 1435.6L1011.1 1435.8L1013.0 1436.0L1015.0 1436.2L1017.0 1436.4L1019.0 1436.6L1021.0 1436.8L1023.0 1437.0L1024.9 1437.2L1026.9 1437.4L1028.9 1437.6L1030.9 1437.8L1032.9 1438.0L1034.9 1438.2L1036.8 1438.4L1037.0 1438.4L1038.8 1438.6L1040.8 1438.8L1042.8 1439.0L1044.8 1439.2L1046.8 1439.4L1048.7 1439.6L1050.7 1439.8L1052.7 1440.0L1054.7 1440.2L1056.7 1440.4L1058.7 1440.6L1060.6 1440.9L1062.6 1441.1L1064.6 1441.3L1066.6 1441.5L1068.6 1441.7L1070.6 1442.0L1072.5 1442.2L1074.5 1442.4L1076.5 1442.6L1078.5 1442.9L1080.5 1443.1L1082.4 1443.3L1084.4 1443.5L1086.4 1443.7L1088.4 1443.9L1090.4 1444.1L1092.4 1444.3L1094.3 1444.5L1095.0 1444.6L1096.3 1444.7L1098.3 1444.9L1100.3 1445.1L1102.3 1445.3L1104.3 1445.5L1106.2 1445.7L1108.2 1445.9L1110.2 1446.1L1112.2 1446.3L1114.2 1446.4L1116.2 1446.6L1118.1 1446.8L1120.1 1447.0L1122.1 1447.2L1124.1 1447.3L1126.1 1447.5L1128.1 1447.7L1130.0 1447.9L1132.0 1448.1L1134.0 1448.2L1136.0 1448.4L1138.0 1448.6L1140.0 1448.8L1141.9 1449.0L1143.9 1449.1L1145.9 1449.3L1147.9 1449.5L1149.9 1449.7L1151.9 1449.9L1152.0 1449.9L1153.8 1450.1L1155.8 1450.3L1157.8 1450.5L1159.8 1450.7L1161.8 1450.9L1163.8 1451.1L1165.7 1451.3L1167.7 1451.5L1169.7 1451.7L1171.7 1451.9L1173.7 1452.2L1175.7 1452.4L1177.6 1452.6L1179.6 1452.8L1181.6 1453.0L1183.6 1453.2L1185.6 1453.4L1187.6 1453.6L1189.5 1453.8L1191.5 1454.0L1193.5 1454.2L1195.5 1454.4L1197.5 1454.6L1199.5 1454.7L1201.4 1454.9L1203.4 1455.0L1205.4 1455.1L1207.4 1455.3L1209.4 1455.4L1209.8 1455.4L1211.4 1455.5L1213.3 1455.6L1215.3 1455.7L1217.3 1455.8L1219.3 1455.9L1221.3 1456.0L1223.2 1456.1L1225.2 1456.2L1227.2 1456.3L1229.2 1456.4L1231.2 1456.4L1233.2 1456.5L1235.1 1456.6L1237.1 1456.7L1239.1 1456.8L1241.1 1456.9L1243.1 1457.0L1245.1 1457.0L1247.0 1457.1L1249.0 1457.2L1251.0 1457.3L1253.0 1457.4L1255.0 1457.4L1257.0 1457.5L1258.9 1457.6L1260.9 1457.6L1262.9 1457.7L1264.9 1457.8L1266.9 1457.8L1268.9 1457.9L1270.8 1458.0L1272.8 1458.0L1274.8 1458.1L1276.8 1458.2L1278.8 1458.2L1280.8 1458.3L1282.7 1458.3L1284.7 1458.4L1286.7 1458.4L1288.7 1458.5L1290.7 1458.6L1292.7 1458.6L1294.6 1458.7L1296.6 1458.7L1298.6 1458.8L1300.6 1458.8L1302.6 1458.8L1304.6 1458.9L1306.5 1458.9L1308.5 1459.0L1310.5 1459.0L1312.5 1459.1L1314.5 1459.1L1316.5 1459.1L1318.4 1459.2L1320.4 1459.2L1322.4 1459.2L1324.4 1459.3L1324.8 1459.3L1326.4 1459.3L1328.4 1459.3L1330.3 1459.4L1332.3 1459.4L1334.3 1459.4L1336.3 1459.5L1338.3 1459.5L1340.3 1459.5L1342.2 1459.6L1344.2 1459.6L1346.2 1459.6L1348.2 1459.7L1350.2 1459.7L1352.1 1459.7L1354.1 1459.8L1356.1 1459.8L1358.1 1459.8L1360.1 1459.9L1362.1 1459.9L1364.0 1459.9L1366.0 1460.0L1368.0 1460.0L1370.0 1460.0L1372.0 1460.0L1374.0 1460.1L1375.9 1460.1L1377.9 1460.1L1379.9 1460.1L1381.9 1460.2L1383.9 1460.2L1385.9 1460.2L1387.8 1460.2L1389.8 1460.3L1391.8 1460.3L1393.8 1460.3L1395.8 1460.3L1397.8 1460.4L1399.7 1460.4L1401.7 1460.4L1403.7 1460.4L1405.7 1460.4L1407.7 1460.4L1409.7 1460.5L1411.6 1460.5L1413.6 1460.5L1415.6 1460.5L1417.6 1460.5L1419.6 1460.5L1421.6 1460.5L1423.5 1460.5L1425.5 1460.5L1427.5 1460.6L1429.5 1460.6L1431.5 1460.6L1433.5 1460.6L1435.4 1460.6L1437.4 1460.6L1439.4 1460.6L1439.8 1460.6L1441.4 1460.6L1443.4 1460.6L1445.4 1460.6L1447.3 1460.6L1449.3 1460.6L1451.3 1460.6L1453.3 1460.5L1455.3 1460.5L1457.3 1460.5L1459.2 1460.5L1461.2 1460.5L1463.2 1460.5L1465.2 1460.5L1467.2 1460.5L1469.2 1460.5L1471.1 1460.4L1473.1 1460.4L1475.1 1460.4L1477.1 1460.4L1479.1 1460.4L1481.1 1460.3L1483.0 1460.3L1485.0 1460.3L1487.0 1460.3L1489.0 1460.3L1491.0 1460.2L1492.9 1460.2L1494.9 1460.2L1496.9 1460.2L1498.9 1460.1L1500.9 1460.1L1502.9 1460.1L1504.8 1460.0L1506.8 1460.0L1508.8 1460.0L1510.8 1460.0L1512.8 1459.9L1514.8 1459.9L1516.7 1459.9L1518.7 1459.8L1520.7 1459.8L1522.7 1459.8L1524.7 1459.8L1526.7 1459.7L1528.6 1459.7L1530.6 1459.7L1532.6 1459.6L1534.6 1459.6L1536.6 1459.6L1538.6 1459.5L1540.5 1459.5L1542.5 1459.5L1544.5 1459.4L1546.5 1459.4L1548.5 1459.4L1550.5 1459.4L1552.4 1459.3L1554.4 1459.3L1554.8 1459.3L1556.4 1459.3L1558.4 1459.2L1560.4 1459.2L1562.4 1459.2L1564.3 1459.1L1566.3 1459.1L1568.3 1459.1L1570.3 1459.0L1572.3 1459.0L1574.3 1459.0L1576.2 1458.9L1578.2 1458.9L1580.2 1458.9L1582.2 1458.8L1584.2 1458.8L1586.2 1458.7L1588.1 1458.7L1590.1 1458.7L1592.1 1458.6L1594.1 1458.6L1596.1 1458.5L1598.1 1458.5L1600.0 1458.5L1602.0 1458.4L1604.0 1458.4L1606.0 1458.3L1608.0 1458.3L1610.0 1458.2L1611.9 1458.2L1613.9 1458.1L1615.9 1458.1L1617.9 1458.0L1619.9 1458.0L1621.9 1458.0L1623.8 1457.9L1625.8 1457.9L1627.8 1457.8L1629.8 1457.8L1631.8 1457.7L1633.7 1457.7L1635.7 1457.6L1637.7 1457.6L1639.7 1457.5L1641.7 1457.5L1643.7 1457.4L1645.6 1457.4L1647.6 1457.3L1649.6 1457.3L1651.6 1457.2L1653.6 1457.1L1655.6 1457.1L1657.5 1457.0L1659.5 1457.0L1661.5 1456.9L1663.5 1456.9L1665.5 1456.8L1667.5 1456.8L1669.4 1456.7L1669.8 1456.7L1671.4 1456.7L1673.4 1456.6L1675.4 1456.5L1677.4 1456.5L1679.4 1456.4L1681.3 1456.3L1683.3 1456.3L1685.3 1456.2L1687.3 1456.1L1689.3 1456.1L1691.3 1456.0L1693.2 1455.9L1695.2 1455.8L1697.2 1455.8L1699.2 1455.7L1701.2 1455.6L1703.2 1455.6L1705.1 1455.5L1707.1 1455.4L1709.1 1455.3L1711.1 1455.3L1713.1 1455.2L1715.1 1455.1L1717.0 1455.0L1719.0 1455.0L1721.0 1454.9L1723.0 1454.8L1725.0 1454.7L1727.0 1454.7L1728.5 1454.6L1728.9 1454.6L1730.9 1454.5L1732.9 1454.5L1734.9 1454.4L1736.9 1454.4L1738.9 1454.3L1740.8 1454.2L1742.8 1454.2L1744.8 1454.1L1746.8 1454.0L1748.8 1454.0L1750.8 1453.9L1752.7 1453.9L1754.7 1453.8L1756.7 1453.7L1758.7 1453.7L1760.7 1453.6L1762.7 1453.6L1764.6 1453.5L1766.6 1453.4L1768.6 1453.4L1770.6 1453.3L1772.6 1453.2L1774.5 1453.2L1776.5 1453.1L1778.5 1453.0L1780.5 1453.0L1782.5 1452.9L1784.5 1452.8L1785.1 1452.8L1786.4 1452.8L1788.4 1452.7L1790.4 1452.6L1792.4 1452.5L1794.4 1452.5L1796.4 1452.4L1798.3 1452.3L1800.3 1452.2L1802.3 1452.1L1804.3 1452.0L1806.3 1451.9L1808.3 1451.8L1810.2 1451.7L1812.2 1451.6L1814.2 1451.5L1816.2 1451.5L1818.2 1451.4L1820.2 1451.3L1822.1 1451.2L1824.1 1451.1L1826.1 1451.0L1828.1 1450.9L1830.1 1450.8L1832.1 1450.6L1834.0 1450.5L1836.0 1450.4L1838.0 1450.3L1840.0 1450.2L1842.0 1450.1L1844.0 1450.0L1845.9 1450.0L1847.9 1449.9L1849.9 1449.8L1851.9 1449.7L1853.9 1449.6L1855.9 1449.5L1857.8 1449.4L1859.8 1449.3L1861.8 1449.2L1863.8 1449.1L1865.8 1449.0L1867.8 1449.0L1869.7 1448.9L1871.7 1448.8L1873.7 1448.7L1875.7 1448.7L1877.7 1448.6L1879.7 1448.5L1881.6 1448.5L1883.6 1448.4L1885.6 1448.3L1887.6 1448.3L1889.6 1448.2L1891.6 1448.2L1893.5 1448.1L1895.5 1448.1L1897.5 1448.1L1899.5 1448.0L1900.1 1448.0L1901.5 1448.0L1903.5 1448.0L1905.4 1447.9L1907.4 1447.9L1909.4 1447.9L1911.4 1447.9L1913.4 1447.8L1915.3 1447.8L1917.3 1447.8L1919.3 1447.8L1921.3 1447.7L1923.3 1447.7L1925.3 1447.7L1927.2 1447.7L1929.2 1447.6L1931.2 1447.6L1933.2 1447.6L1935.2 1447.6L1937.2 1447.5L1939.1 1447.5L1941.1 1447.5L1943.1 1447.5L1945.1 1447.4L1947.1 1447.4L1949.1 1447.4L1951.0 1447.4L1953.0 1447.4L1955.0 1447.3L1957.0 1447.3L1959.0 1447.3L1961.0 1447.3L1962.9 1447.3L1964.9 1447.2L1966.9 1447.2L1968.9 1447.2L1970.9 1447.2L1972.9 1447.2L1974.8 1447.2L1976.8 1447.2L1978.8 1447.1L1980.8 1447.1L1982.8 1447.1L1984.8 1447.1L1986.7 1447.1L1988.7 1447.1L1990.7 1447.1L1992.7 1447.1L1994.7 1447.1L1996.7 1447.0L1998.6 1447.0L2000.6 1447.0L2002.6 1447.0L2004.6 1447.0L2006.6 1447.0L2008.6 1447.0L2010.5 1447.0L2012.5 1447.0L2014.5 1447.0L2014.9 1447.0L2016.5 1447.0L2018.5 1447.0L2020.5 1447.0L2022.4 1447.0L2024.4 1447.0L2026.4 1447.0" stroke="#00FF00"/><path d="M243.6 200.2L245.6 227.4L247.6 252.7L247.7 254.8L249.5 274.3L251.5 296.9L251.8 300.1L253.5 332.1L255.5 374.1L256.0 384.0L257.5 408.5L259.5 440.2L260.0 450.0L261.4 474.9L263.4 511.6L265.4 547.3L265.6 550.0L267.4 581.3L269.4 614.2L271.4 644.2L271.8 650.0L273.3 671.1L275.3 697.0L277.3 722.0L279.3 746.0L281.3 768.8L283.3 790.4L285.2 810.7L287.2 829.7L289.2 847.2L289.6 850.5L291.2 863.3L293.2 878.5L295.2 892.7L297.1 906.1L299.1 918.7L301.1 930.5L303.1 941.6L304.2 947.6L305.1 952.1L307.1 961.9L309.0 971.3L311.0 980.1L313.0 988.4L315.0 996.4L317.0 1004.0L318.5 1009.6L319.0 1011.2L320.9 1018.1L322.9 1024.7L324.9 1031.1L326.9 1037.1L328.9 1042.9L330.9 1048.5L332.8 1053.8L332.8 1053.9L334.8 1059.0L336.8 1063.9L338.8 1068.7L340.8 1073.2L342.8 1077.6L344.7 1081.9L346.7 1086.1L347.1 1086.8L348.7 1090.1L350.7 1094.0L352.7 1097.7L354.7 1101.4L356.6 1105.0L358.6 1108.5L360.6 1112.0L361.4 1113.3L362.6 1115.4L364.6 1118.9L366.6 1122.2L368.5 1125.6L370.5 1128.8L372.5 1132.1L374.5 1135.2L376.0 1137.7L376.5 1138.4L378.5 1141.5L380.4 1144.5L382.4 1147.6L384.4 1150.6L386.4 1153.6L388.4 1156.5L390.3 1159.5L392.3 1162.3L394.3 1165.2L396.3 1168.0L398.3 1170.8L400.3 1173.6L402.2 1176.3L404.2 1178.9L404.6 1179.5L406.2 1181.5L408.2 1184.1L410.2 1186.6L412.2 1189.1L414.1 1191.6L416.1 1194.0L418.1 1196.4L420.1 1198.8L422.1 1201.1L424.1 1203.4L426.0 1205.8L428.0 1208.1L430.0 1210.4L432.0 1212.7L433.5 1214.5L434.0 1215.0L436.0 1217.3L437.9 1219.5L439.9 1221.7L441.9 1223.8L443.9 1226.0L445.9 1228.1L447.9 1230.2L449.8 1232.3L451.8 1234.5L453.8 1236.7L455.8 1239.0L457.8 1241.4L459.8 1243.8L461.7 1246.4L462.1 1246.9L463.7 1249.0L465.7 1251.7L467.7 1254.6L469.7 1257.5L471.7 1260.6L473.6 1263.8L475.6 1267.2L476.4 1268.6L477.6 1270.7L479.6 1274.5L481.6 1278.4L483.6 1282.6L485.5 1286.9L487.5 1291.5L489.5 1296.2L490.7 1299.2L491.5 1301.2L493.5 1306.7L495.5 1312.6L497.4 1318.7L499.4 1325.0L501.4 1331.4L503.4 1337.7L505.0 1342.6L505.4 1343.7L507.4 1349.8L509.3 1355.9L511.3 1362.1L513.3 1368.2L515.3 1374.1L517.3 1379.7L519.3 1385.0L519.6 1386.0L521.2 1390.0L523.2 1394.6L525.2 1398.9L526.6 1401.7L527.2 1402.8L529.2 1406.4L531.1 1409.7L533.1 1412.6L533.9 1413.6L535.1 1415.0L537.1 1417.2L539.1 1419.0L540.9 1420.4L541.1 1420.5L543.0 1421.7L545.0 1422.8L547.0 1423.6L548.2 1423.9L549.0 1424.0L551.0 1424.2L553.0 1424.4L554.9 1424.6L556.9 1424.7L558.9 1424.8L560.9 1424.9L562.2 1424.9L562.9 1424.9L564.9 1424.9L566.8 1424.8L568.8 1424.8L570.8 1424.8L572.8 1424.8L574.8 1424.7L576.8 1424.7L577.2 1424.7L578.7 1424.6L580.7 1424.6L582.7 1424.5L584.7 1424.4L586.7 1424.2L588.7 1424.1L590.6 1424.0L592.6 1423.8L594.6 1423.7L596.6 1423.5L598.6 1423.4L600.6 1423.3L602.5 1423.2L604.5 1423.1L605.8 1423.1L606.5 1423.0L608.5 1423.0L610.5 1422.9L612.5 1422.9L614.4 1422.8L616.4 1422.8L618.4 1422.7L620.4 1422.7L622.4 1422.7L624.4 1422.6L626.3 1422.6L628.3 1422.6L630.3 1422.6L632.3 1422.5L634.3 1422.5L634.7 1422.5L636.3 1422.6L638.2 1422.7L640.2 1422.9L642.2 1423.2L644.2 1423.6L646.2 1424.0L648.2 1424.4L650.1 1424.9L652.1 1425.3L654.1 1425.8L656.1 1426.2L658.1 1426.6L660.0 1427.0L660.0 1427.0L662.0 1427.3L664.0 1427.6L666.0 1428.0L668.0 1428.3L670.0 1428.6L671.9 1428.9L673.9 1429.2L675.9 1429.5L677.9 1429.8L679.9 1430.1L681.9 1430.4L683.8 1430.7L685.8 1431.0L687.8 1431.4L689.8 1431.7L691.8 1432.1L691.9 1432.1L693.8 1432.5L695.7 1432.8L697.7 1433.3L699.7 1433.7L701.7 1434.1L703.7 1434.6L705.7 1435.0L707.6 1435.5L709.6 1436.0L711.6 1436.5L713.6 1437.0L715.6 1437.5L717.6 1438.0L719.5 1438.5L721.5 1439.0L723.5 1439.5L725.5 1440.0L727.5 1440.5L729.5 1441.0L731.4 1441.4L733.4 1441.9L735.4 1442.4L737.4 1442.8L739.4 1443.3L741.4 1443.7L743.3 1444.1L745.3 1444.5L747.3 1444.8L749.3 1445.2L750.0 1445.3L751.3 1445.5L753.3 1445.8L755.2 1446.2L757.2 1446.5L759.2 1446.8L761.2 1447.1L763.2 1447.4L765.2 1447.7L767.1 1448.0L769.1 1448.2L771.1 1448.5L773.1 1448.8L775.1 1449.1L777.1 1449.3L779.0 1449.6L781.0 1449.8L783.0 1450.1L785.0 1450.3L787.0 1450.6L789.0 1450.8L790.9 1451.0L792.9 1451.3L794.9 1451.5L796.9 1451.7L798.9 1451.9L800.8 1452.2L802.8 1452.4L804.8 1452.6L806.8 1452.8L807.0 1452.8L808.8 1453.0L810.8 1453.2L812.7 1453.4L814.7 1453.6L816.7 1453.7L818.7 1453.9L820.7 1454.1L822.7 1454.2L824.6 1454.4L826.6 1454.5L828.6 1454.7L830.6 1454.9L832.6 1455.1L834.6 1455.3L836.0 1455.4L836.5 1455.5L838.5 1455.7L840.5 1455.9L842.5 1456.2L844.5 1456.5L846.5 1456.8L848.4 1457.1L850.4 1457.4L852.4 1457.7L854.4 1457.9L856.4 1458.2L858.4 1458.4L860.3 1458.5L862.3 1458.7L864.3 1458.8L864.7 1458.8L866.3 1458.8L868.3 1458.9L870.3 1458.9L872.2 1458.9L874.2 1459.0L876.2 1459.0L878.2 1459.1L880.2 1459.1L882.2 1459.2L884.1 1459.2L886.1 1459.2L888.1 1459.3L890.1 1459.3L892.1 1459.3L894.1 1459.4L896.0 1459.4L898.0 1459.4L900.0 1459.5L902.0 1459.5L904.0 1459.5L906.0 1459.5L907.9 1459.6L909.9 1459.6L911.9 1459.6L913.9 1459.6L915.9 1459.6L917.9 1459.7L919.8 1459.7L921.8 1459.7L923.8 1459.7L925.8 1459.7L927.8 1459.7L929.8 1459.7L931.7 1459.8L933.7 1459.8L935.7 1459.8L937.7 1459.8L939.7 1459.8L941.6 1459.8L943.6 1459.8L945.6 1459.8L947.6 1459.8L949.6 1459.8L951.0 1459.8L951.6 1459.8L953.5 1459.8L955.5 1459.8L957.5 1459.8L959.5 1459.8L961.5 1459.8L963.5 1459.8L965.4 1459.8L967.4 1459.8L969.4 1459.7L971.4 1459.7L973.4 1459.7L975.4 1459.7L977.3 1459.7L979.3 1459.7L981.3 1459.7L983.3 1459.6L985.3 1459.6L987.3 1459.6L989.2 1459.6L991.2 1459.5L993.2 1459.5L995.2 1459.5L997.2 1459.5L999.2 1459.4L1001.1 1459.4L1003.1 1459.4L1005.1 1459.4L1007.1 1459.3L1009.1 1459.3L1011.1 1459.3L1013.0 1459.2L1015.0 1459.2L1017.0 1459.2L1019.0 1459.1L1021.0 1459.1L1023.0 1459.0L1024.9 1459.0L1026.9 1459.0L1028.9 1458.9L1030.9 1458.9L1032.9 1458.9L1034.9 1458.8L1036.8 1458.8L1037.2 1458.8L1038.8 1458.7L1040.8 1458.7L1042.8 1458.6L1044.8 1458.5L1046.8 1458.5L1048.7 1458.4L1050.7 1458.3L1052.7 1458.2L1054.7 1458.0L1056.7 1457.9L1058.7 1457.8L1060.6 1457.7L1062.6 1457.5L1064.6 1457.4L1066.6 1457.3L1068.6 1457.1L1070.6 1457.0L1072.5 1456.8L1074.5 1456.7L1076.5 1456.6L1078.5 1456.4L1080.5 1456.3L1082.4 1456.2L1084.4 1456.0L1086.4 1455.9L1088.4 1455.8L1090.4 1455.7L1092.4 1455.5L1094.3 1455.4L1095.0 1455.4L1096.3 1455.3L1098.3 1455.2L1100.3 1455.1L1102.3 1455.0L1104.3 1455.0L1106.2 1454.9L1108.2 1454.8L1110.2 1454.7L1112.2 1454.6L1114.2 1454.5L1116.2 1454.4L1118.1 1454.3L1120.1 1454.3L1122.1 1454.2L1124.1 1454.1L1126.1 1454.0L1128.1 1453.9L1130.0 1453.8L1132.0 1453.7L1134.0 1453.7L1136.0 1453.6L1138.0 1453.5L1140.0 1453.4L1141.9 1453.3L1143.9 1453.2L1145.9 1453.1L1147.9 1453.0L1149.9 1452.9L1151.9 1452.8L1152.0 1452.8L1153.8 1452.7L1155.8 1452.6L1157.8 1452.5L1159.8 1452.4L1161.8 1452.3L1163.8 1452.2L1165.7 1452.1L1167.7 1451.9L1169.7 1451.8L1171.7 1451.7L1173.7 1451.6L1175.7 1451.5L1177.6 1451.4L1179.6 1451.2L1181.6 1451.1L1183.6 1451.0L1185.6 1450.9L1187.6 1450.7L1189.5 1450.6L1191.5 1450.5L1193.5 1450.4L1195.5 1450.3L1197.5 1450.1L1199.5 1450.0L1201.4 1449.9L1203.4 1449.8L1205.4 1449.7L1207.4 1449.5L1209.4 1449.4L1210.0 1449.4L1211.4 1449.3L1213.3 1449.2L1215.3 1449.1L1217.3 1449.0L1219.3 1448.9L1221.3 1448.7L1223.2 1448.6L1225.2 1448.5L1227.2 1448.4L1229.2 1448.3L1231.2 1448.1L1233.2 1448.0L1235.1 1447.9L1237.1 1447.8L1239.1 1447.7L1241.1 1447.5L1243.1 1447.4L1245.1 1447.3L1247.0 1447.2L1249.0 1447.1L1251.0 1447.0L1253.0 1446.8L1255.0 1446.7L1257.0 1446.6L1258.9 1446.5L1260.9 1446.4L1262.9 1446.2L1264.9 1446.1L1266.9 1446.0L1268.9 1445.9L1270.8 1445.8L1272.8 1445.7L1274.8 1445.5L1276.8 1445.4L1278.8 1445.3L1280.8 1445.2L1282.7 1445.1L1284.7 1445.0L1286.7 1444.9L1288.7 1444.8L1290.7 1444.7L1292.7 1444.5L1294.6 1444.4L1296.6 1444.3L1298.6 1444.2L1300.6 1444.1L1302.6 1444.0L1304.6 1443.9L1306.5 1443.8L1308.5 1443.7L1310.5 1443.6L1312.5 1443.5L1314.5 1443.4L1316.5 1443.4L1318.4 1443.3L1320.4 1443.2L1322.4 1443.1L1324.4 1443.0L1325.0 1443.0L1326.4 1442.9L1328.4 1442.8L1330.3 1442.8L1332.3 1442.7L1334.3 1442.6L1336.3 1442.5L1338.3 1442.4L1340.3 1442.4L1342.2 1442.3L1344.2 1442.2L1346.2 1442.1L1348.2 1442.1L1350.2 1442.0L1352.1 1441.9L1354.1 1441.8L1356.1 1441.8L1358.1 1441.7L1360.1 1441.6L1362.1 1441.5L1364.0 1441.5L1366.0 1441.4L1368.0 1441.3L1370.0 1441.3L1372.0 1441.2L1374.0 1441.1L1375.9 1441.1L1377.9 1441.0L1379.9 1440.9L1381.9 1440.9L1383.9 1440.8L1385.9 1440.7L1387.8 1440.7L1389.8 1440.6L1391.8 1440.5L1393.8 1440.5L1395.8 1440.4L1397.8 1440.4L1399.7 1440.3L1401.7 1440.2L1403.7 1440.2L1405.7 1440.1L1407.7 1440.1L1409.7 1440.0L1411.6 1439.9L1413.6 1439.9L1415.6 1439.8L1417.6 1439.8L1419.6 1439.7L1421.6 1439.6L1423.5 1439.6L1425.5 1439.5L1427.5 1439.5L1429.5 1439.4L1431.5 1439.3L1433.5 1439.3L1435.4 1439.2L1437.4 1439.2L1439.4 1439.1L1440.0 1439.1L1441.4 1439.1L1443.4 1439.0L1445.4 1438.9L1447.3 1438.9L1449.3 1438.8L1451.3 1438.8L1453.3 1438.7L1455.3 1438.6L1457.3 1438.6L1459.2 1438.5L1461.2 1438.5L1463.2 1438.4L1465.2 1438.3L1467.2 1438.3L1469.2 1438.2L1471.1 1438.2L1473.1 1438.1L1475.1 1438.0L1477.1 1438.0L1479.1 1437.9L1481.1 1437.9L1483.0 1437.8L1485.0 1437.7L1487.0 1437.7L1489.0 1437.6L1491.0 1437.6L1492.9 1437.5L1494.9 1437.5L1496.9 1437.4L1498.9 1437.3L1500.9 1437.3L1502.9 1437.2L1504.8 1437.2L1506.8 1437.1L1508.8 1437.1L1510.8 1437.0L1512.8 1437.0L1514.8 1436.9L1516.7 1436.9L1518.7 1436.8L1520.7 1436.8L1522.7 1436.7L1524.7 1436.7L1526.7 1436.7L1528.6 1436.6L1530.6 1436.6L1532.6 1436.5L1534.6 1436.5L1536.6 1436.5L1538.6 1436.4L1540.5 1436.4L1542.5 1436.4L1544.5 1436.3L1546.5 1436.3L1548.5 1436.3L1550.5 1436.3L1552.4 1436.2L1554.4 1436.2L1555.1 1436.2L1556.4 1436.2L1558.4 1436.2L1560.4 1436.1L1562.4 1436.1L1564.3 1436.1L1566.3 1436.1L1568.3 1436.1L1570.3 1436.1L1572.3 1436.0L1574.3 1436.0L1576.2 1436.0L1578.2 1436.0L1580.2 1436.0L1582.2 1436.0L1584.2 1436.0L1586.2 1435.9L1588.1 1435.9L1590.1 1435.9L1592.1 1435.9L1594.1 1435.9L1596.1 1435.9L1598.1 1435.9L1600.0 1435.9L1602.0 1435.8L1604.0 1435.8L1606.0 1435.8L1608.0 1435.8L1610.0 1435.8L1611.9 1435.8L1613.9 1435.8L1615.9 1435.8L1617.9 1435.8L1619.9 1435.7L1621.9 1435.7L1623.8 1435.7L1625.8 1435.7L1627.8 1435.7L1629.8 1435.7L1631.8 1435.7L1633.7 1435.7L1635.7 1435.7L1637.7 1435.6L1639.7 1435.6L1641.7 1435.6L1643.7 1435.6L1645.6 1435.6L1647.6 1435.6L1649.6 1435.6L1651.6 1435.6L1653.6 1435.6L1655.6 1435.6L1657.5 1435.5L1659.5 1435.5L1661.5 1435.5L1663.5 1435.5L1665.5 1435.5L1667.5 1435.5L1669.4 1435.5L1670.1 1435.5L1671.4 1435.5L1673.4 1435.5L1675.4 1435.4L1677.4 1435.4L1679.4 1435.4L1681.3 1435.4L1683.3 1435.4L1685.3 1435.4L1687.3 1435.4L1689.3 1435.3L1691.3 1435.3L1693.2 1435.3L1695.2 1435.3L1697.2 1435.3L1699.2 1435.3L1701.2 1435.3L1703.2 1435.2L1705.1 1435.2L1707.1 1435.2L1709.1 1435.2L1711.1 1435.2L1713.1 1435.2L1715.1 1435.1L1717.0 1435.1L1719.0 1435.1L1721.0 1435.1L1723.0 1435.1L1725.0 1435.1L1727.0 1435.1L1728.9 1435.0L1730.9 1435.0L1732.9 1435.0L1734.9 1435.0L1736.9 1435.0L1738.9 1435.0L1740.8 1435.0L1742.8 1434.9L1744.8 1434.9L1746.8 1434.9L1748.8 1434.9L1750.8 1434.9L1752.7 1434.9L1754.7 1434.9L1756.7 1434.9L1758.7 1434.9L1760.7 1434.9L1762.7 1434.8L1764.6 1434.8L1766.6 1434.8L1768.6 1434.8L1770.6 1434.8L1772.6 1434.8L1774.5 1434.8L1776.5 1434.8L1778.5 1434.8L1780.5 1434.8L1782.5 1434.8L1784.5 1434.8L1785.1 1434.8L1786.4 1434.8L1788.4 1434.8L1790.4 1434.8L1792.4 1434.8L1794.4 1434.8L1796.4 1434.8L1798.3 1434.8L1800.3 1434.8L1802.3 1434.8L1804.3 1434.8L1806.3 1434.8L1808.3 1434.8L1810.2 1434.8L1812.2 1434.8L1814.2 1434.8L1816.2 1434.8L1818.2 1434.8L1820.2 1434.8L1822.1 1434.8L1824.1 1434.8L1826.1 1434.8L1828.1 1434.8L1830.1 1434.8L1832.1 1434.8L1834.0 1434.8L1836.0 1434.8L1838.0 1434.8L1840.0 1434.9L1842.0 1434.9L1844.0 1434.9L1845.9 1434.9L1847.9 1434.9L1849.9 1434.9L1851.9 1434.9L1853.9 1434.9L1855.9 1434.9L1857.8 1434.9L1859.8 1434.9L1861.8 1434.9L1863.8 1434.9L1865.8 1434.9L1867.8 1434.9L1869.7 1434.9L1871.7 1434.9L1873.7 1434.9L1875.7 1434.9L1877.7 1434.9L1879.7 1434.9L1881.6 1434.9L1883.6 1434.9L1885.6 1434.9L1887.6 1434.9L1889.6 1434.9L1891.6 1434.9L1893.5 1434.9L1895.5 1434.9L1897.5 1435.0L1899.5 1435.0L1900.1 1435.0L1901.5 1435.0L1903.5 1435.0L1905.4 1435.0L1907.4 1435.0L1909.4 1435.0L1911.4 1435.0L1913.4 1435.0L1915.3 1435.0L1917.3 1435.0L1919.3 1435.0L1921.3 1435.0L1923.3 1435.0L1925.3 1435.0L1927.2 1435.0L1929.2 1435.0L1931.2 1435.0L1933.2 1435.0L1935.2 1435.0L1937.2 1435.0L1939.1 1435.0L1941.1 1435.0L1943.1 1435.0L1945.1 1435.1L1947.1 1435.1L1949.1 1435.1L1951.0 1435.1L1953.0 1435.1L1955.0 1435.1L1957.0 1435.1L1959.0 1435.1L1961.0 1435.1L1962.9 1435.1L1964.9 1435.1L1966.9 1435.1L1968.9 1435.1L1970.9 1435.1L1972.9 1435.1L1974.8 1435.1L1976.8 1435.1L1978.8 1435.1L1980.8 1435.1L1982.8 1435.1L1984.8 1435.1L1986.7 1435.1L1988.7 1435.1L1990.7 1435.1L1992.7 1435.1L1994.7 1435.2L1996.7 1435.2L1998.6 1435.2L2000.6 1435.2L2002.6 1435.2L2004.6 1435.2L2006.6 1435.2L2008.6 1435.2L2010.5 1435.2L2012.5 1435.2L2014.5 1435.2L2014.9 1435.2L2016.5 1435.2L2018.5 1435.2L2020.5 1435.2L2022.4 1435.2L2024.4 1435.2L2026.4 1435.2" stroke="#FF8000"/></g>
<g font-size="81" text-anchor="middle">
<text transform="translate(289.61 1562.2) scale(1 1.045)">300</text>
<text transform="translate(634.67 1562.2) scale(1 1.045)">600</text>
<text transform="translate(979.72 1562.2) scale(1 1.045)">900</text>
<text transform="translate(1324.78 1562.2) scale(1 1.045)">1200</text>
<text transform="translate(1669.84 1562.2) scale(1 1.045)">1500</text>
<text transform="translate(2014.9 1562.2) scale(1 1.045)">1800</text>
</g>
<g font-size="81" text-anchor="end">
<text transform="translate(196.7 1241.4) scale(1 1.045)">1</text>
<text transform="translate(196.7 982.6) scale(1 1.045)">2</text>
<text transform="translate(196.7 723.8) scale(1 1.045)">3</text>
<text transform="translate(196.7 465) scale(1 1.045)">4</text>
<text transform="translate(196.7 206.2) scale(1 1.045)">5</text>
</g>
<text x="1129" y="1731.6" font-size="122.5" text-anchor="middle">Wavelength (nm)</text>
<text transform="translate(109.5 739) rotate(-90)" font-size="121.2" text-anchor="middle">Absorbance (a.u.)</text>
<path d="M959.1 121.4V936.3M943.1 921.8H1951.7M1041.58 921.8v6.5M1124.07 921.8v14.5M1206.55 921.8v6.5M1289.03 921.8v14.5M1371.52 921.8v6.5M1454 921.8v14.5M1536.48 921.8v6.5M1618.97 921.8v14.5M1701.45 921.8v6.5M1783.93 921.8v14.5M1866.42 921.8v6.5M1948.9 921.8v14.5M959.1 864.83h-8M959.1 807.86h-16M959.1 750.89h-8M959.1 693.91h-16M959.1 636.94h-8M959.1 579.97h-16M959.1 523h-8M959.1 466.03h-16M959.1 409.06h-8M959.1 352.09h-16M959.1 295.11h-8M959.1 238.14h-16M959.1 181.17h-8M959.1 124.2h-16" fill="none" stroke="#000" stroke-width="5.6"/>
<g clip-path="url(#ic)" fill="none" stroke-width="5.7" stroke-linejoin="round"><path d="M959.1 176.1L961.1 180.5L963.0 184.5L963.1 184.7L965.1 188.7L967.1 192.7L969.1 196.7L971.1 200.6L973.1 204.5L975.1 208.4L977.1 212.2L979.1 215.9L981.1 219.7L983.1 223.3L985.1 227.0L987.1 230.5L989.1 234.0L991.0 237.4L993.0 240.8L995.0 244.1L997.0 247.3L999.0 250.4L1001.0 253.4L1001.0 253.5L1003.0 256.4L1005.0 259.4L1007.0 262.3L1009.0 265.1L1011.0 267.9L1013.0 270.7L1015.0 273.4L1017.0 276.1L1019.0 278.7L1021.0 281.3L1023.0 283.9L1025.0 286.4L1027.0 288.8L1029.0 291.2L1031.0 293.6L1033.0 295.9L1035.0 298.2L1037.0 300.4L1039.0 302.6L1041.0 304.8L1042.0 305.8L1043.0 306.9L1045.0 308.9L1047.0 311.0L1049.0 313.0L1051.0 314.9L1052.9 316.8L1054.9 318.7L1056.9 320.6L1058.9 322.4L1060.9 324.2L1062.9 326.0L1064.9 327.7L1066.9 329.4L1068.9 331.1L1070.9 332.8L1072.9 334.4L1074.9 336.1L1076.9 337.7L1078.9 339.2L1080.9 340.8L1082.8 342.3L1082.9 342.3L1084.9 343.9L1086.9 345.4L1088.9 346.8L1090.9 348.3L1092.9 349.7L1094.9 351.1L1096.9 352.5L1098.9 353.8L1100.9 355.2L1102.9 356.5L1104.9 357.8L1106.9 359.1L1108.9 360.4L1110.9 361.7L1112.9 363.0L1114.8 364.3L1116.8 365.5L1118.8 366.8L1120.8 368.1L1122.8 369.3L1124.0 370.0L1124.8 370.6L1126.8 371.8L1128.8 373.1L1130.8 374.3L1132.8 375.6L1134.8 376.8L1136.8 378.0L1138.8 379.2L1140.8 380.4L1142.8 381.6L1144.8 382.8L1146.8 384.0L1148.8 385.2L1150.8 386.4L1152.8 387.5L1154.8 388.7L1156.8 389.9L1158.8 391.0L1160.8 392.2L1162.8 393.3L1164.8 394.5L1165.0 394.6L1166.8 395.6L1168.8 396.8L1170.8 397.9L1172.8 399.0L1174.8 400.2L1176.8 401.3L1178.7 402.4L1180.7 403.6L1182.7 404.7L1184.7 405.8L1186.7 406.9L1188.7 408.0L1190.7 409.1L1192.7 410.2L1194.7 411.3L1196.7 412.4L1198.7 413.5L1200.7 414.5L1202.7 415.6L1204.7 416.7L1206.7 417.7L1207.0 417.9L1208.7 418.8L1210.7 419.8L1212.7 420.8L1214.7 421.9L1216.7 422.9L1218.7 423.9L1220.7 425.0L1222.7 426.0L1224.7 427.0L1226.7 428.0L1228.7 429.0L1230.7 430.0L1232.7 431.0L1234.7 432.0L1236.7 433.0L1238.7 434.0L1240.6 435.0L1242.6 436.0L1244.6 437.0L1246.6 438.0L1248.6 439.0L1250.6 440.0L1252.6 440.9L1254.6 441.9L1256.6 442.9L1258.6 443.8L1260.6 444.8L1262.6 445.8L1264.6 446.7L1266.6 447.7L1268.6 448.6L1270.6 449.6L1272.6 450.5L1274.6 451.5L1276.6 452.4L1278.6 453.4L1280.6 454.3L1282.6 455.2L1284.6 456.2L1286.6 457.1L1288.6 458.0L1289.0 458.2L1290.6 458.9L1292.6 459.9L1294.6 460.8L1296.6 461.7L1298.6 462.6L1300.6 463.5L1302.5 464.4L1304.5 465.2L1306.5 466.1L1308.5 467.0L1310.5 467.9L1312.5 468.7L1314.5 469.6L1316.5 470.5L1318.5 471.3L1320.5 472.2L1322.5 473.0L1324.5 473.9L1326.5 474.7L1328.5 475.6L1330.5 476.4L1332.5 477.3L1334.5 478.1L1336.5 479.0L1338.5 479.8L1340.5 480.7L1342.5 481.5L1344.5 482.4L1346.5 483.3L1348.5 484.1L1350.5 485.0L1352.5 485.9L1354.5 486.7L1356.5 487.6L1358.5 488.5L1360.5 489.4L1362.5 490.3L1364.4 491.2L1366.4 492.1L1368.4 493.0L1370.4 493.9L1372.0 494.7L1372.4 494.9L1374.4 495.8L1376.4 496.7L1378.4 497.7L1380.4 498.6L1382.4 499.5L1384.4 500.5L1386.4 501.4L1388.4 502.3L1390.4 503.3L1392.4 504.2L1394.4 505.1L1396.4 506.1L1398.4 507.0L1400.4 508.0L1402.4 508.9L1404.4 509.9L1406.4 510.8L1408.4 511.8L1410.4 512.8L1412.4 513.7L1414.4 514.7L1416.4 515.7L1418.4 516.7L1420.4 517.7L1422.4 518.7L1424.4 519.7L1426.3 520.7L1428.3 521.7L1430.3 522.7L1432.3 523.7L1434.3 524.8L1436.3 525.8L1438.3 526.8L1440.3 527.9L1442.3 528.9L1444.3 530.0L1446.3 531.1L1448.3 532.2L1450.3 533.3L1452.3 534.4L1454.0 535.3L1454.3 535.5L1456.3 536.6L1458.3 537.7L1460.3 538.9L1462.3 540.0L1464.3 541.2L1466.3 542.4L1468.3 543.6L1470.3 544.8L1472.3 546.0L1474.3 547.2L1476.3 548.5L1478.3 549.7L1480.3 551.0L1482.3 552.3L1484.3 553.6L1486.3 554.9L1488.2 556.2L1490.2 557.5L1492.2 558.8L1494.2 560.2L1495.0 560.7L1496.2 561.6L1498.2 562.9L1500.2 564.3L1502.2 565.7L1504.2 567.1L1506.2 568.6L1508.2 570.0L1510.2 571.5L1512.2 573.0L1514.2 574.4L1516.2 575.9L1518.2 577.5L1520.2 579.0L1522.2 580.5L1524.2 582.1L1526.2 583.7L1528.2 585.2L1530.2 586.8L1532.2 588.4L1534.2 590.0L1536.0 591.5L1536.2 591.7L1538.2 593.3L1540.2 595.0L1542.2 596.7L1544.2 598.4L1546.2 600.1L1548.2 601.8L1550.2 603.6L1552.1 605.4L1554.1 607.2L1556.1 609.0L1558.1 610.8L1560.1 612.6L1562.1 614.4L1564.1 616.3L1566.1 618.1L1568.1 619.9L1570.1 621.7L1572.1 623.6L1574.1 625.4L1576.1 627.2L1577.0 628.0L1578.1 629.0L1580.1 630.8L1582.1 632.7L1584.1 634.5L1586.1 636.4L1588.1 638.2L1590.1 640.1L1592.1 642.0L1594.1 643.9L1596.1 645.7L1598.1 647.6L1600.1 649.5L1602.1 651.3L1604.1 653.2L1606.1 655.1L1608.1 656.9L1610.1 658.7L1612.1 660.6L1614.0 662.4L1616.0 664.2L1618.0 665.9L1619.0 666.7L1620.0 667.7L1622.0 669.5L1624.0 671.2L1626.0 673.0L1628.0 674.8L1630.0 676.6L1632.0 678.3L1634.0 680.1L1636.0 681.9L1638.0 683.6L1640.0 685.3L1642.0 687.1L1644.0 688.7L1646.0 690.4L1648.0 692.0L1650.0 693.7L1652.0 695.2L1654.0 696.8L1656.0 698.3L1658.0 699.7L1660.0 701.1L1660.0 701.1L1662.0 702.5L1664.0 703.9L1666.0 705.2L1668.0 706.6L1670.0 707.9L1672.0 709.2L1674.0 710.4L1675.9 711.7L1677.9 712.9L1679.9 714.2L1681.9 715.4L1683.9 716.5L1685.9 717.7L1687.9 718.8L1689.9 719.9L1691.9 721.0L1693.9 722.0L1695.9 723.0L1697.9 724.0L1699.9 725.0L1701.0 725.5L1701.9 725.9L1703.9 726.8L1705.9 727.7L1707.9 728.6L1709.9 729.5L1711.9 730.4L1713.9 731.3L1715.9 732.2L1717.9 733.0L1719.9 733.9L1721.9 734.7L1723.9 735.6L1725.9 736.4L1727.9 737.2L1729.9 738.1L1731.9 738.9L1733.9 739.7L1735.9 740.4L1737.8 741.2L1739.8 742.0L1741.8 742.7L1743.8 743.5L1745.8 744.2L1747.8 744.9L1749.8 745.6L1751.8 746.3L1753.8 747.0L1755.8 747.7L1757.8 748.3L1759.8 749.0L1761.8 749.6L1763.8 750.2L1765.8 750.8L1767.8 751.4L1769.8 752.0L1771.8 752.5L1773.8 753.1L1775.8 753.6L1777.8 754.1L1779.8 754.6L1781.8 755.1L1783.8 755.6L1783.9 755.6L1785.8 756.1L1787.8 756.5L1789.8 757.0L1791.8 757.4L1793.8 757.9L1795.8 758.3L1797.8 758.7L1799.7 759.1L1801.7 759.5L1803.7 759.9L1805.7 760.3L1807.7 760.7L1809.7 761.1L1811.7 761.5L1813.7 761.8L1815.7 762.2L1817.7 762.6L1819.7 762.9L1821.7 763.3L1823.7 763.6L1825.7 763.9L1827.7 764.3L1829.7 764.6L1831.7 764.9L1833.7 765.2L1835.7 765.5L1837.7 765.8L1839.7 766.1L1841.7 766.4L1843.7 766.7L1845.7 767.0L1847.7 767.3L1849.7 767.6L1851.7 767.9L1853.7 768.1L1855.7 768.4L1857.7 768.7L1859.7 768.9L1861.6 769.2L1863.6 769.4L1865.6 769.7L1866.1 769.7L1867.6 769.9L1869.6 770.1L1871.6 770.4L1873.6 770.6L1875.6 770.8L1877.6 771.0L1879.6 771.3L1881.6 771.5L1883.6 771.7L1885.6 771.9L1887.6 772.1L1889.6 772.3L1891.6 772.5L1893.6 772.7L1895.6 772.8L1897.6 773.0L1899.6 773.2L1901.6 773.4L1903.6 773.6L1905.6 773.7L1907.6 773.9L1909.6 774.1L1911.6 774.3L1913.6 774.4L1915.6 774.6L1917.6 774.8L1919.6 775.0L1921.6 775.1L1923.6 775.3L1925.5 775.5L1927.5 775.6L1929.5 775.8L1931.5 776.0L1933.5 776.2L1935.5 776.3L1937.5 776.5L1939.5 776.7L1941.5 776.9L1943.5 777.0L1945.5 777.2L1947.5 777.4L1948.9 777.5L1949.5 777.6L1951.5 777.8L1953.5 778.0L1955.5 778.2" stroke="#000000"/><path d="M959.1 141.4L961.1 146.5L963.0 151.3L963.1 151.5L965.1 156.3L967.1 161.1L969.1 165.8L971.1 170.5L973.1 175.2L975.1 179.8L977.1 184.4L979.1 189.0L981.1 193.5L983.1 198.0L985.1 202.4L987.1 206.7L989.1 211.0L991.0 215.3L993.0 219.4L995.0 223.5L997.0 227.6L999.0 231.5L1001.0 235.4L1001.0 235.4L1003.0 239.2L1005.0 243.0L1007.0 246.7L1009.0 250.4L1011.0 254.1L1013.0 257.7L1015.0 261.2L1017.0 264.8L1019.0 268.2L1021.0 271.7L1023.0 275.0L1025.0 278.4L1027.0 281.7L1029.0 284.9L1031.0 288.1L1033.0 291.2L1035.0 294.4L1037.0 297.4L1039.0 300.4L1041.0 303.4L1042.0 304.9L1043.0 306.3L1045.0 309.2L1047.0 312.0L1049.0 314.8L1051.0 317.6L1052.9 320.3L1054.9 323.0L1056.9 325.7L1058.9 328.3L1060.9 330.9L1062.9 333.5L1064.9 336.0L1066.9 338.5L1068.9 340.9L1070.9 343.4L1072.9 345.8L1074.9 348.1L1076.9 350.5L1078.9 352.8L1080.9 355.0L1082.8 357.2L1082.9 357.3L1084.9 359.5L1086.9 361.7L1088.9 363.8L1090.9 365.9L1092.9 368.0L1094.9 370.1L1096.9 372.2L1098.9 374.2L1100.9 376.2L1102.9 378.1L1104.9 380.1L1106.9 382.0L1108.9 383.9L1110.9 385.8L1112.9 387.7L1114.8 389.5L1116.8 391.4L1118.8 393.2L1120.8 395.0L1122.8 396.8L1124.0 397.8L1124.8 398.6L1126.8 400.4L1128.8 402.1L1130.8 403.8L1132.8 405.5L1134.8 407.2L1136.8 408.9L1138.8 410.5L1140.8 412.2L1142.8 413.8L1144.8 415.4L1146.8 417.0L1148.8 418.6L1150.8 420.2L1152.8 421.8L1154.8 423.3L1156.8 424.9L1158.8 426.5L1160.8 428.0L1162.8 429.6L1164.8 431.2L1165.0 431.3L1166.8 432.7L1168.8 434.3L1170.8 435.8L1172.8 437.3L1174.8 438.9L1176.8 440.4L1178.7 441.9L1180.7 443.4L1182.7 444.9L1184.7 446.4L1186.7 447.9L1188.7 449.4L1190.7 450.9L1192.7 452.4L1194.7 453.8L1196.7 455.3L1198.7 456.8L1200.7 458.2L1202.7 459.6L1204.7 461.1L1206.7 462.5L1207.0 462.7L1208.7 463.9L1210.7 465.4L1212.7 466.8L1214.7 468.2L1216.7 469.6L1218.7 471.0L1220.7 472.4L1222.7 473.8L1224.7 475.2L1226.7 476.6L1228.7 478.0L1230.7 479.4L1232.7 480.8L1234.7 482.2L1236.7 483.6L1238.7 484.9L1240.6 486.3L1242.6 487.7L1244.6 489.0L1246.6 490.4L1248.6 491.7L1250.6 493.1L1252.6 494.4L1254.6 495.8L1256.6 497.1L1258.6 498.5L1260.6 499.8L1262.6 501.1L1264.6 502.4L1266.6 503.7L1268.6 505.0L1270.6 506.3L1272.6 507.6L1274.6 508.9L1276.6 510.2L1278.6 511.5L1280.6 512.8L1282.6 514.0L1284.6 515.3L1286.6 516.5L1288.6 517.8L1289.0 518.1L1290.6 519.0L1292.6 520.3L1294.6 521.5L1296.6 522.7L1298.6 523.9L1300.6 525.1L1302.5 526.3L1304.5 527.5L1306.5 528.7L1308.5 529.9L1310.5 531.1L1312.5 532.2L1314.5 533.4L1316.5 534.6L1318.5 535.7L1320.5 536.9L1322.5 538.0L1324.5 539.2L1326.5 540.3L1328.5 541.5L1330.5 542.6L1332.5 543.7L1334.5 544.9L1336.5 546.0L1338.5 547.1L1340.5 548.3L1342.5 549.4L1344.5 550.5L1346.5 551.6L1348.5 552.8L1350.5 553.9L1352.5 555.0L1354.5 556.1L1356.5 557.3L1358.5 558.4L1360.5 559.5L1362.5 560.6L1364.4 561.8L1366.4 562.9L1368.4 564.0L1370.4 565.2L1372.0 566.0L1372.4 566.3L1374.4 567.4L1376.4 568.6L1378.4 569.7L1380.4 570.8L1382.4 571.8L1384.4 572.9L1386.4 574.0L1388.4 575.1L1390.4 576.1L1392.4 577.2L1394.4 578.3L1396.4 579.3L1398.4 580.4L1400.4 581.4L1402.4 582.5L1404.4 583.5L1406.4 584.6L1408.4 585.6L1410.4 586.7L1412.4 587.7L1414.4 588.8L1416.4 589.9L1418.4 591.0L1420.4 592.0L1422.4 593.1L1424.4 594.2L1426.3 595.3L1428.3 596.5L1430.3 597.6L1432.3 598.7L1434.3 599.9L1436.3 601.1L1438.3 602.3L1440.3 603.5L1442.3 604.7L1444.3 605.9L1446.3 607.2L1448.3 608.4L1450.3 609.7L1452.3 611.0L1454.0 612.2L1454.3 612.4L1456.3 613.7L1458.3 615.1L1460.3 616.5L1462.3 617.9L1464.3 619.4L1466.3 620.8L1468.3 622.3L1470.3 623.9L1472.3 625.4L1474.3 627.0L1476.3 628.6L1478.3 630.2L1480.3 631.8L1482.3 633.5L1484.3 635.2L1486.3 636.9L1488.2 638.6L1490.2 640.4L1492.2 642.1L1494.2 644.0L1495.0 644.7L1496.2 645.8L1498.2 647.7L1500.2 649.6L1502.2 651.5L1504.2 653.5L1506.2 655.6L1508.2 657.6L1510.2 659.7L1512.2 661.9L1514.2 664.0L1516.2 666.2L1518.2 668.4L1520.2 670.7L1522.2 673.0L1524.2 675.2L1526.2 677.5L1528.2 679.9L1530.2 682.2L1532.2 684.6L1534.2 687.0L1536.0 689.1L1536.2 689.3L1538.2 691.8L1540.2 694.2L1542.2 696.8L1544.2 699.3L1546.2 702.0L1548.2 704.6L1550.2 707.3L1552.1 710.0L1554.1 712.7L1556.1 715.5L1558.1 718.2L1560.1 721.0L1562.1 723.7L1564.1 726.5L1566.1 729.3L1568.1 732.0L1570.1 734.7L1572.1 737.4L1574.1 740.1L1576.1 742.7L1577.0 743.9L1578.1 745.3L1580.1 748.0L1582.1 750.6L1584.1 753.3L1586.1 756.0L1588.1 758.7L1590.1 761.4L1592.1 764.0L1594.1 766.7L1596.1 769.4L1598.1 772.0L1600.1 774.6L1602.1 777.2L1604.1 779.8L1606.1 782.3L1608.1 784.8L1610.1 787.3L1612.1 789.7L1614.0 792.0L1616.0 794.3L1618.0 796.5L1619.0 797.5L1620.0 798.6L1622.0 800.7L1624.0 802.8L1626.0 804.8L1628.0 806.8L1630.0 808.7L1632.0 810.6L1634.0 812.4L1636.0 814.2L1638.0 815.8L1639.0 816.6L1640.0 817.5L1642.0 819.0L1644.0 820.6L1646.0 822.1L1648.0 823.6L1650.0 825.0L1652.0 826.4L1654.0 827.7L1656.0 829.0L1658.0 830.2L1660.0 831.3L1660.0 831.3L1662.0 832.4L1664.0 833.5L1666.0 834.5L1668.0 835.5L1670.0 836.4L1672.0 837.3L1674.0 838.2L1675.9 839.0L1677.9 839.7L1679.9 840.3L1680.0 840.3L1681.9 840.8L1683.9 841.3L1685.9 841.8L1687.9 842.3L1689.9 842.7L1691.9 843.1L1693.9 843.5L1695.9 843.9L1697.9 844.2L1699.9 844.5L1701.0 844.7L1701.9 844.8L1703.9 845.1L1705.9 845.4L1707.9 845.7L1709.9 845.9L1711.9 846.2L1713.9 846.4L1715.9 846.7L1717.9 846.9L1719.9 847.2L1721.9 847.4L1723.9 847.6L1725.9 847.9L1727.9 848.1L1729.9 848.3L1731.9 848.5L1733.9 848.7L1735.9 848.9L1737.8 849.1L1739.8 849.3L1741.8 849.5L1743.8 849.7L1745.8 849.9L1747.8 850.1L1749.8 850.3L1751.8 850.5L1753.8 850.6L1755.8 850.8L1757.8 851.0L1759.8 851.2L1761.8 851.3L1763.8 851.5L1765.8 851.7L1767.8 851.8L1769.8 852.0L1771.8 852.2L1773.8 852.3L1775.8 852.5L1777.8 852.7L1779.8 852.8L1781.8 853.0L1783.8 853.2L1783.9 853.2L1785.8 853.3L1787.8 853.5L1789.8 853.7L1791.8 853.8L1793.8 854.0L1795.8 854.1L1797.8 854.3L1799.7 854.4L1801.7 854.6L1803.7 854.7L1805.7 854.9L1807.7 855.0L1809.7 855.1L1811.7 855.3L1813.7 855.4L1815.7 855.5L1817.7 855.7L1819.7 855.8L1821.7 855.9L1823.7 856.1L1825.7 856.2L1827.7 856.3L1829.7 856.5L1831.7 856.6L1833.7 856.7L1835.7 856.9L1837.7 857.0L1839.7 857.1L1841.7 857.3L1843.7 857.4L1845.7 857.6L1847.7 857.7L1849.7 857.8L1851.7 858.0L1853.7 858.1L1855.7 858.3L1857.7 858.4L1859.7 858.6L1861.6 858.8L1863.6 858.9L1865.6 859.1L1866.1 859.1L1867.6 859.3L1869.6 859.4L1871.6 859.6L1873.6 859.8L1875.6 860.0L1877.6 860.2L1879.6 860.4L1881.6 860.6L1883.6 860.8L1885.6 861.0L1887.6 861.2L1889.6 861.4L1891.6 861.6L1893.6 861.8L1895.6 862.0L1897.6 862.2L1899.6 862.4L1901.6 862.6L1903.6 862.8L1905.6 863.1L1907.6 863.3L1909.6 863.5L1911.6 863.7L1913.6 863.9L1915.6 864.2L1917.6 864.4L1919.6 864.6L1921.6 864.8L1923.6 865.0L1925.5 865.3L1927.5 865.5L1929.5 865.7L1931.5 865.9L1933.5 866.1L1935.5 866.4L1937.5 866.6L1939.5 866.8L1941.5 867.0L1943.5 867.2L1945.5 867.4L1947.5 867.6L1948.9 867.8L1949.5 867.9L1951.5 868.1L1953.5 868.3L1955.5 868.5" stroke="#0000FF"/><path d="M959.1 353.2L961.1 358.3L963.0 363.0L963.1 363.2L965.1 367.8L967.1 372.4L969.1 376.9L971.1 381.3L973.1 385.7L975.1 390.1L977.1 394.4L979.1 398.6L981.1 402.8L983.1 406.9L985.1 410.9L987.1 414.8L989.1 418.7L991.0 422.5L993.0 426.1L995.0 429.7L997.0 433.2L999.0 436.6L1001.0 439.8L1001.0 439.9L1003.0 443.1L1005.0 446.2L1007.0 449.3L1009.0 452.3L1011.0 455.2L1013.0 458.1L1015.0 460.9L1017.0 463.7L1019.0 466.5L1021.0 469.1L1023.0 471.8L1025.0 474.3L1027.0 476.9L1029.0 479.4L1031.0 481.8L1033.0 484.2L1035.0 486.6L1037.0 488.9L1039.0 491.2L1041.0 493.5L1042.0 494.6L1043.0 495.7L1045.0 497.9L1047.0 500.1L1049.0 502.2L1051.0 504.3L1052.9 506.4L1054.9 508.4L1056.9 510.4L1058.9 512.4L1060.9 514.3L1062.9 516.2L1064.9 518.1L1066.9 519.9L1068.9 521.8L1070.9 523.6L1072.9 525.3L1074.9 527.1L1076.9 528.8L1078.9 530.5L1080.9 532.2L1082.9 533.8L1083.0 533.9L1084.9 535.5L1086.9 537.1L1088.9 538.7L1090.9 540.2L1092.9 541.8L1094.9 543.3L1096.9 544.8L1098.9 546.3L1100.9 547.7L1102.9 549.2L1104.9 550.6L1106.9 552.0L1108.9 553.4L1110.9 554.8L1112.9 556.1L1114.8 557.5L1116.8 558.8L1118.8 560.2L1120.8 561.5L1122.8 562.8L1124.0 563.5L1124.8 564.0L1126.8 565.3L1128.8 566.6L1130.8 567.8L1132.8 569.0L1134.8 570.2L1136.8 571.4L1138.8 572.6L1140.8 573.8L1142.8 574.9L1144.8 576.1L1146.8 577.2L1148.8 578.3L1150.8 579.4L1152.8 580.6L1154.8 581.7L1156.8 582.8L1158.8 583.9L1160.8 585.0L1162.8 586.1L1164.8 587.2L1165.0 587.3L1166.8 588.3L1168.8 589.3L1170.8 590.4L1172.8 591.5L1174.8 592.6L1176.8 593.6L1178.7 594.7L1180.7 595.7L1182.7 596.8L1184.7 597.8L1186.7 598.9L1188.7 599.9L1190.7 600.9L1192.7 601.9L1194.7 602.9L1196.7 603.9L1198.7 604.9L1200.7 605.9L1202.7 606.9L1204.7 607.9L1206.7 608.9L1207.0 609.0L1208.7 609.9L1210.7 610.8L1212.7 611.8L1214.7 612.8L1216.7 613.7L1218.7 614.7L1220.7 615.6L1222.7 616.6L1224.7 617.5L1226.7 618.5L1228.7 619.4L1230.7 620.4L1232.7 621.3L1234.7 622.2L1236.7 623.2L1238.7 624.1L1240.6 625.0L1242.6 625.9L1244.6 626.8L1246.6 627.7L1248.6 628.7L1250.6 629.6L1252.6 630.5L1254.6 631.4L1256.6 632.3L1258.6 633.1L1260.6 634.0L1262.6 634.9L1264.6 635.8L1266.6 636.7L1268.6 637.5L1270.6 638.4L1272.6 639.3L1274.6 640.1L1276.6 641.0L1278.6 641.8L1280.6 642.7L1282.6 643.5L1284.6 644.3L1286.6 645.1L1288.6 646.0L1289.0 646.2L1290.6 646.8L1292.6 647.6L1294.6 648.4L1296.6 649.2L1298.6 650.0L1300.6 650.8L1302.5 651.6L1304.5 652.4L1306.5 653.2L1308.5 653.9L1310.5 654.7L1312.5 655.5L1314.5 656.2L1316.5 657.0L1318.5 657.7L1320.5 658.5L1322.5 659.2L1324.5 660.0L1326.5 660.7L1328.5 661.5L1330.5 662.2L1332.5 663.0L1334.5 663.7L1336.5 664.4L1338.5 665.2L1340.5 665.9L1342.5 666.6L1344.5 667.3L1346.5 668.1L1348.5 668.8L1350.5 669.5L1352.5 670.2L1354.5 671.0L1356.5 671.7L1358.5 672.4L1360.5 673.1L1362.5 673.8L1364.4 674.6L1366.4 675.3L1368.4 676.0L1370.4 676.7L1372.0 677.3L1372.4 677.5L1374.4 678.2L1376.4 678.9L1378.4 679.6L1380.4 680.3L1382.4 681.0L1384.4 681.7L1386.4 682.4L1388.4 683.0L1390.4 683.7L1392.4 684.4L1394.4 685.0L1396.4 685.7L1398.4 686.4L1400.4 687.0L1402.4 687.7L1404.4 688.4L1406.4 689.0L1408.4 689.7L1410.4 690.4L1412.4 691.0L1414.4 691.7L1416.4 692.4L1418.4 693.0L1420.4 693.7L1422.4 694.4L1424.4 695.1L1426.3 695.8L1428.3 696.5L1430.3 697.2L1432.3 697.9L1434.3 698.6L1436.3 699.3L1438.3 700.0L1440.3 700.8L1442.3 701.5L1444.3 702.3L1446.3 703.0L1448.3 703.8L1450.3 704.6L1452.3 705.4L1454.0 706.1L1454.3 706.2L1456.3 707.0L1458.3 707.8L1460.3 708.7L1462.3 709.5L1464.3 710.4L1466.3 711.2L1468.3 712.1L1470.3 713.0L1472.3 713.9L1474.3 714.8L1476.3 715.7L1478.3 716.7L1480.3 717.6L1482.3 718.6L1484.3 719.6L1486.3 720.6L1488.2 721.6L1490.2 722.6L1492.2 723.7L1494.2 724.7L1495.0 725.2L1496.2 725.8L1498.2 726.9L1500.2 728.1L1502.2 729.2L1504.2 730.4L1506.2 731.6L1508.2 732.8L1510.2 734.0L1512.2 735.3L1514.2 736.5L1516.2 737.8L1518.2 739.1L1520.2 740.5L1522.2 741.8L1524.2 743.2L1526.2 744.6L1528.2 746.0L1530.2 747.4L1532.2 748.9L1534.2 750.4L1536.0 751.7L1536.2 751.9L1538.2 753.4L1540.2 755.0L1542.2 756.6L1544.2 758.3L1546.2 760.0L1548.2 761.8L1550.2 763.5L1552.1 765.4L1554.1 767.2L1556.1 769.0L1558.1 770.9L1560.1 772.8L1562.1 774.7L1564.1 776.5L1566.1 778.4L1568.1 780.3L1570.1 782.1L1572.1 784.0L1574.1 785.8L1576.1 787.6L1577.0 788.3L1578.1 789.3L1580.1 791.1L1582.1 792.9L1584.1 794.7L1586.1 796.4L1588.1 798.3L1590.1 800.1L1592.1 801.9L1594.1 803.7L1596.1 805.4L1598.1 807.2L1600.1 809.0L1602.1 810.7L1604.1 812.5L1606.1 814.2L1608.1 815.9L1610.1 817.5L1612.1 819.2L1614.0 820.8L1616.0 822.3L1618.0 823.9L1619.0 824.6L1620.0 825.4L1622.0 826.8L1624.0 828.3L1626.0 829.7L1628.0 831.1L1630.0 832.4L1632.0 833.7L1634.0 835.0L1636.0 836.3L1638.0 837.5L1639.0 838.0L1640.0 838.6L1642.0 839.8L1644.0 840.9L1646.0 842.0L1648.0 843.1L1650.0 844.2L1652.0 845.2L1654.0 846.2L1656.0 847.1L1658.0 848.0L1660.0 848.8L1660.0 848.8L1662.0 849.6L1664.0 850.4L1666.0 851.2L1668.0 852.0L1670.0 852.7L1672.0 853.4L1674.0 854.0L1675.9 854.5L1677.9 855.0L1679.9 855.4L1680.0 855.4L1681.9 855.7L1683.9 856.0L1685.9 856.2L1687.9 856.5L1689.9 856.7L1691.9 856.9L1693.9 857.1L1695.9 857.3L1697.9 857.4L1699.9 857.6L1701.0 857.6L1701.9 857.7L1703.9 857.8L1705.9 857.9L1707.9 858.0L1709.9 858.1L1711.9 858.1L1713.9 858.2L1715.9 858.3L1717.9 858.4L1719.9 858.5L1721.9 858.6L1723.9 858.6L1725.9 858.7L1727.9 858.8L1729.9 858.9L1731.9 858.9L1733.9 859.0L1735.9 859.1L1737.8 859.1L1739.8 859.2L1741.8 859.2L1743.8 859.3L1745.8 859.4L1747.8 859.4L1749.8 859.5L1751.8 859.5L1753.8 859.6L1755.8 859.6L1757.8 859.6L1759.8 859.7L1761.8 859.7L1763.8 859.8L1765.8 859.8L1767.8 859.8L1769.8 859.9L1771.8 859.9L1773.8 859.9L1775.8 859.9L1777.8 860.0L1779.8 860.0L1781.8 860.0L1783.8 860.0L1783.9 860.0L1785.8 860.1L1787.8 860.1L1789.8 860.1L1791.8 860.1L1793.8 860.1L1795.8 860.1L1797.8 860.1L1799.7 860.2L1801.7 860.2L1803.7 860.2L1805.7 860.2L1807.7 860.2L1809.7 860.2L1811.7 860.2L1813.7 860.2L1815.7 860.3L1817.7 860.3L1819.7 860.3L1821.7 860.3L1823.7 860.3L1825.7 860.3L1827.7 860.3L1829.7 860.3L1831.7 860.3L1833.7 860.3L1835.7 860.3L1837.7 860.4L1839.7 860.4L1841.7 860.4L1843.7 860.4L1845.7 860.4L1847.7 860.4L1849.7 860.4L1851.7 860.4L1853.7 860.4L1855.7 860.4L1857.7 860.4L1859.7 860.5L1861.6 860.5L1863.6 860.5L1865.6 860.5L1866.1 860.5L1867.6 860.5L1869.6 860.5L1871.6 860.5L1873.6 860.6L1875.6 860.6L1877.6 860.6L1879.6 860.6L1881.6 860.6L1883.6 860.6L1885.6 860.6L1887.6 860.7L1889.6 860.7L1891.6 860.7L1893.6 860.7L1895.6 860.7L1897.6 860.7L1899.6 860.8L1901.6 860.8L1903.6 860.8L1905.6 860.8L1907.6 860.8L1909.6 860.8L1911.6 860.9L1913.6 860.9L1915.6 860.9L1917.6 860.9L1919.6 860.9L1921.6 860.9L1923.6 861.0L1925.5 861.0L1927.5 861.0L1929.5 861.0L1931.5 861.0L1933.5 861.1L1935.5 861.1L1937.5 861.1L1939.5 861.1L1941.5 861.1L1943.5 861.1L1945.5 861.2L1947.5 861.2L1948.9 861.2L1949.5 861.2L1951.5 861.2L1953.5 861.2L1955.5 861.2" stroke="#FF00FF"/><path d="M959.1 193.3L961.1 197.6L963.0 201.5L963.1 201.7L965.1 205.6L967.1 209.4L969.1 213.3L971.1 217.1L973.1 220.9L975.1 224.6L977.1 228.3L979.1 232.0L981.1 235.6L983.1 239.2L985.1 242.7L987.1 246.1L989.1 249.5L991.0 252.8L993.0 256.1L995.0 259.3L997.0 262.4L999.0 265.5L1001.0 268.4L1001.0 268.4L1003.0 271.3L1005.0 274.2L1007.0 277.0L1009.0 279.8L1011.0 282.5L1013.0 285.2L1015.0 287.9L1017.0 290.5L1019.0 293.0L1021.0 295.6L1023.0 298.0L1025.0 300.5L1027.0 302.9L1029.0 305.2L1031.0 307.5L1033.0 309.8L1035.0 312.0L1037.0 314.2L1039.0 316.4L1041.0 318.5L1042.0 319.5L1043.0 320.5L1045.0 322.5L1047.0 324.5L1049.0 326.5L1051.0 328.4L1052.9 330.3L1054.9 332.1L1056.9 333.9L1058.9 335.7L1060.9 337.5L1062.9 339.2L1064.9 340.9L1066.9 342.6L1068.9 344.3L1070.9 345.9L1072.9 347.5L1074.9 349.1L1076.9 350.7L1078.9 352.3L1080.9 353.8L1082.8 355.3L1082.9 355.3L1084.9 356.8L1086.9 358.3L1088.9 359.7L1090.9 361.1L1092.9 362.5L1094.9 363.9L1096.9 365.3L1098.9 366.6L1100.9 368.0L1102.9 369.3L1104.9 370.6L1106.9 371.9L1108.9 373.1L1110.9 374.4L1112.9 375.7L1114.8 376.9L1116.8 378.2L1118.8 379.4L1120.8 380.7L1122.8 381.9L1124.0 382.6L1124.8 383.2L1126.8 384.4L1128.8 385.6L1130.8 386.9L1132.8 388.1L1134.8 389.3L1136.8 390.5L1138.8 391.7L1140.8 392.9L1142.8 394.1L1144.8 395.2L1146.8 396.4L1148.8 397.6L1150.8 398.8L1152.8 399.9L1154.8 401.1L1156.8 402.2L1158.8 403.4L1160.8 404.5L1162.8 405.6L1164.8 406.8L1165.0 406.9L1166.8 407.9L1168.8 409.0L1170.8 410.2L1172.8 411.3L1174.8 412.4L1176.8 413.5L1178.7 414.7L1180.7 415.8L1182.7 416.9L1184.7 418.0L1186.7 419.1L1188.7 420.2L1190.7 421.2L1192.7 422.3L1194.7 423.4L1196.7 424.5L1198.7 425.5L1200.7 426.6L1202.7 427.7L1204.7 428.7L1206.7 429.7L1207.0 429.9L1208.7 430.8L1210.7 431.8L1212.7 432.8L1214.7 433.9L1216.7 434.9L1218.7 435.9L1220.7 436.9L1222.7 437.9L1224.7 438.9L1226.7 439.9L1228.7 440.9L1230.7 441.9L1232.7 442.9L1234.7 443.9L1236.7 444.9L1238.7 445.9L1240.6 446.9L1242.6 447.9L1244.6 448.8L1246.6 449.8L1248.6 450.8L1250.6 451.8L1252.6 452.7L1254.6 453.7L1256.6 454.6L1258.6 455.6L1260.6 456.6L1262.6 457.5L1264.6 458.5L1266.6 459.4L1268.6 460.3L1270.6 461.3L1272.6 462.2L1274.6 463.2L1276.6 464.1L1278.6 465.0L1280.6 466.0L1282.6 466.9L1284.6 467.8L1286.6 468.7L1288.6 469.7L1289.0 469.9L1290.6 470.6L1292.6 471.5L1294.6 472.4L1296.6 473.3L1298.6 474.2L1300.6 475.1L1302.5 475.9L1304.5 476.8L1306.5 477.7L1308.5 478.6L1310.5 479.4L1312.5 480.3L1314.5 481.1L1316.5 482.0L1318.5 482.8L1320.5 483.7L1322.5 484.5L1324.5 485.4L1326.5 486.2L1328.5 487.1L1330.5 487.9L1332.5 488.8L1334.5 489.6L1336.5 490.5L1338.5 491.3L1340.5 492.2L1342.5 493.0L1344.5 493.9L1346.5 494.7L1348.5 495.6L1350.5 496.4L1352.5 497.3L1354.5 498.2L1356.5 499.0L1358.5 499.9L1360.5 500.8L1362.5 501.7L1364.4 502.6L1366.4 503.5L1368.4 504.4L1370.4 505.3L1372.0 506.0L1372.4 506.2L1374.4 507.1L1376.4 508.0L1378.4 508.9L1380.4 509.8L1382.4 510.8L1384.4 511.7L1386.4 512.6L1388.4 513.5L1390.4 514.4L1392.4 515.3L1394.4 516.3L1396.4 517.2L1398.4 518.1L1400.4 519.1L1402.4 520.0L1404.4 520.9L1406.4 521.9L1408.4 522.8L1410.4 523.7L1412.4 524.7L1414.4 525.6L1416.4 526.6L1418.4 527.6L1420.4 528.5L1422.4 529.5L1424.4 530.5L1426.3 531.5L1428.3 532.4L1430.3 533.4L1432.3 534.4L1434.3 535.4L1436.3 536.5L1438.3 537.5L1440.3 538.5L1442.3 539.5L1444.3 540.6L1446.3 541.6L1448.3 542.7L1450.3 543.8L1452.3 544.8L1454.0 545.7L1454.3 545.9L1456.3 547.0L1458.3 548.1L1460.3 549.2L1462.3 550.3L1464.3 551.5L1466.3 552.6L1468.3 553.8L1470.3 554.9L1472.3 556.1L1474.3 557.3L1476.3 558.5L1478.3 559.7L1480.3 561.0L1482.3 562.2L1484.3 563.5L1486.3 564.7L1488.2 566.0L1490.2 567.3L1492.2 568.6L1494.2 569.9L1495.0 570.5L1496.2 571.3L1498.2 572.6L1500.2 574.0L1502.2 575.4L1504.2 576.8L1506.2 578.2L1508.2 579.6L1510.2 581.1L1512.2 582.6L1514.2 584.1L1516.2 585.6L1518.2 587.1L1520.2 588.6L1522.2 590.2L1524.2 591.7L1526.2 593.3L1528.2 594.9L1530.2 596.5L1532.2 598.1L1534.2 599.7L1536.0 601.2L1536.2 601.4L1538.2 603.0L1540.2 604.7L1542.2 606.5L1544.2 608.2L1546.2 610.0L1548.2 611.8L1550.2 613.6L1552.1 615.5L1554.1 617.3L1556.1 619.2L1558.1 621.0L1560.1 622.9L1562.1 624.8L1564.1 626.7L1566.1 628.6L1568.1 630.5L1570.1 632.4L1572.1 634.2L1574.1 636.1L1576.1 638.0L1577.0 638.8L1578.1 639.8L1580.1 641.7L1582.1 643.6L1584.1 645.4L1586.1 647.3L1588.1 649.2L1590.1 651.1L1592.1 653.0L1594.1 654.9L1596.1 656.8L1598.1 658.7L1600.1 660.6L1602.1 662.5L1604.1 664.4L1606.1 666.2L1608.1 668.1L1610.1 670.0L1612.1 671.8L1614.0 673.6L1616.0 675.4L1618.0 677.2L1619.0 678.0L1620.0 679.0L1622.0 680.8L1624.0 682.6L1626.0 684.4L1628.0 686.2L1630.0 687.9L1632.0 689.7L1634.0 691.5L1636.0 693.3L1638.0 695.0L1640.0 696.8L1642.0 698.5L1644.0 700.2L1646.0 701.9L1648.0 703.5L1650.0 705.2L1652.0 706.8L1654.0 708.3L1656.0 709.8L1658.0 711.3L1660.0 712.8L1660.0 712.8L1662.0 714.2L1664.0 715.6L1666.0 717.0L1668.0 718.4L1670.0 719.7L1672.0 721.1L1674.0 722.4L1675.9 723.7L1677.9 725.0L1679.9 726.2L1681.9 727.5L1683.9 728.7L1685.9 729.9L1687.9 731.1L1689.9 732.2L1691.9 733.3L1693.9 734.4L1695.9 735.5L1697.9 736.5L1699.9 737.5L1701.0 738.0L1701.9 738.5L1703.9 739.4L1705.9 740.4L1707.9 741.3L1709.9 742.3L1711.9 743.2L1713.9 744.1L1715.9 745.1L1717.9 746.0L1719.9 746.9L1721.9 747.7L1723.9 748.6L1725.9 749.5L1727.9 750.4L1729.9 751.2L1731.9 752.0L1733.9 752.9L1735.9 753.7L1737.8 754.5L1739.8 755.3L1741.8 756.1L1743.8 756.9L1745.8 757.6L1747.8 758.4L1749.8 759.1L1751.8 759.9L1753.8 760.6L1755.8 761.3L1757.8 762.0L1759.8 762.7L1761.8 763.3L1763.8 764.0L1765.8 764.6L1767.8 765.3L1769.8 765.9L1771.8 766.5L1773.8 767.1L1775.8 767.7L1777.8 768.2L1779.8 768.8L1781.8 769.3L1783.8 769.8L1783.9 769.9L1785.8 770.4L1787.8 770.9L1789.8 771.4L1791.8 771.9L1793.8 772.3L1795.8 772.8L1797.8 773.3L1799.7 773.8L1801.7 774.2L1803.7 774.7L1805.7 775.1L1807.7 775.6L1809.7 776.0L1811.7 776.4L1813.7 776.9L1815.7 777.3L1817.7 777.7L1819.7 778.1L1821.7 778.5L1823.7 778.9L1825.7 779.3L1827.7 779.7L1829.7 780.0L1831.7 780.4L1833.7 780.8L1835.7 781.1L1837.7 781.5L1839.7 781.8L1841.7 782.2L1843.7 782.5L1845.7 782.8L1847.7 783.1L1849.7 783.4L1851.7 783.8L1853.7 784.0L1855.7 784.3L1857.7 784.6L1859.7 784.9L1861.6 785.2L1863.6 785.4L1865.6 785.7L1866.1 785.8L1867.6 786.0L1869.6 786.2L1871.6 786.4L1873.6 786.7L1875.6 786.9L1877.6 787.1L1879.6 787.3L1881.6 787.6L1883.6 787.8L1885.6 788.0L1887.6 788.2L1889.6 788.4L1891.6 788.6L1893.6 788.8L1895.6 789.0L1897.6 789.1L1899.6 789.3L1901.6 789.5L1903.6 789.7L1905.6 789.9L1907.6 790.0L1909.6 790.2L1911.6 790.4L1913.6 790.5L1915.6 790.7L1917.6 790.9L1919.6 791.0L1921.6 791.2L1923.6 791.4L1925.5 791.6L1927.5 791.7L1929.5 791.9L1931.5 792.1L1933.5 792.2L1935.5 792.4L1937.5 792.6L1939.5 792.8L1941.5 792.9L1943.5 793.1L1945.5 793.3L1947.5 793.5L1948.9 793.6L1949.5 793.7L1951.5 793.9L1953.5 794.0L1955.5 794.2" stroke="#FF0000"/><path d="M959.1 147.9L961.1 153.0L963.0 157.7L963.1 157.9L965.1 162.7L967.1 167.4L969.1 172.1L971.1 176.8L973.1 181.5L975.1 186.1L977.1 190.7L979.1 195.2L981.1 199.7L983.1 204.2L985.1 208.6L987.1 212.9L989.1 217.2L991.0 221.4L993.0 225.6L995.0 229.7L997.0 233.7L999.0 237.6L1001.0 241.5L1001.0 241.5L1003.0 245.3L1005.0 249.1L1007.0 252.8L1009.0 256.5L1011.0 260.1L1013.0 263.7L1015.0 267.3L1017.0 270.8L1019.0 274.3L1021.0 277.7L1023.0 281.1L1025.0 284.4L1027.0 287.7L1029.0 290.9L1031.0 294.1L1033.0 297.3L1035.0 300.4L1037.0 303.4L1039.0 306.4L1041.0 309.4L1042.0 310.9L1043.0 312.3L1045.0 315.2L1047.0 318.0L1049.0 320.8L1051.0 323.6L1052.9 326.3L1054.9 329.0L1056.9 331.7L1058.9 334.3L1060.9 336.9L1062.9 339.5L1064.9 342.0L1066.9 344.5L1068.9 347.0L1070.9 349.4L1072.9 351.8L1074.9 354.2L1076.9 356.5L1078.9 358.8L1080.9 361.1L1082.8 363.3L1082.9 363.3L1084.9 365.6L1086.9 367.7L1088.9 369.9L1090.9 372.0L1092.9 374.1L1094.9 376.2L1096.9 378.3L1098.9 380.3L1100.9 382.3L1102.9 384.3L1104.9 386.2L1106.9 388.2L1108.9 390.1L1110.9 392.0L1112.9 393.9L1114.8 395.7L1116.8 397.6L1118.8 399.4L1120.8 401.2L1122.8 403.0L1124.0 404.0L1124.8 404.8L1126.8 406.6L1128.8 408.3L1130.8 410.1L1132.8 411.8L1134.8 413.5L1136.8 415.2L1138.8 416.8L1140.8 418.5L1142.8 420.1L1144.8 421.7L1146.8 423.3L1148.8 424.9L1150.8 426.5L1152.8 428.1L1154.8 429.7L1156.8 431.3L1158.8 432.8L1160.8 434.4L1162.8 436.0L1164.8 437.5L1165.0 437.7L1166.8 439.1L1168.8 440.7L1170.8 442.2L1172.8 443.7L1174.8 445.3L1176.8 446.8L1178.7 448.3L1180.7 449.9L1182.7 451.4L1184.7 452.9L1186.7 454.4L1188.7 455.9L1190.7 457.4L1192.7 458.8L1194.7 460.3L1196.7 461.8L1198.7 463.2L1200.7 464.7L1202.7 466.1L1204.7 467.6L1206.7 469.0L1207.0 469.2L1208.7 470.4L1210.7 471.9L1212.7 473.3L1214.7 474.7L1216.7 476.1L1218.7 477.5L1220.7 478.9L1222.7 480.3L1224.7 481.8L1226.7 483.2L1228.7 484.5L1230.7 485.9L1232.7 487.3L1234.7 488.7L1236.7 490.1L1238.7 491.5L1240.6 492.9L1242.6 494.2L1244.6 495.6L1246.6 496.9L1248.6 498.3L1250.6 499.7L1252.6 501.0L1254.6 502.3L1256.6 503.7L1258.6 505.0L1260.6 506.3L1262.6 507.7L1264.6 509.0L1266.6 510.3L1268.6 511.6L1270.6 512.9L1272.6 514.2L1274.6 515.5L1276.6 516.8L1278.6 518.1L1280.6 519.3L1282.6 520.6L1284.6 521.9L1286.6 523.1L1288.6 524.4L1289.0 524.7L1290.6 525.6L1292.6 526.8L1294.6 528.1L1296.6 529.3L1298.6 530.5L1300.6 531.7L1302.5 532.9L1304.5 534.1L1306.5 535.3L1308.5 536.5L1310.5 537.6L1312.5 538.8L1314.5 540.0L1316.5 541.1L1318.5 542.3L1320.5 543.4L1322.5 544.6L1324.5 545.7L1326.5 546.9L1328.5 548.0L1330.5 549.2L1332.5 550.3L1334.5 551.4L1336.5 552.5L1338.5 553.7L1340.5 554.8L1342.5 555.9L1344.5 557.0L1346.5 558.2L1348.5 559.3L1350.5 560.4L1352.5 561.5L1354.5 562.6L1356.5 563.8L1358.5 564.9L1360.5 566.0L1362.5 567.1L1364.4 568.2L1366.4 569.4L1368.4 570.5L1370.4 571.6L1372.0 572.5L1372.4 572.8L1374.4 573.9L1376.4 575.0L1378.4 576.1L1380.4 577.2L1382.4 578.3L1384.4 579.4L1386.4 580.4L1388.4 581.5L1390.4 582.5L1392.4 583.6L1394.4 584.6L1396.4 585.7L1398.4 586.7L1400.4 587.8L1402.4 588.8L1404.4 589.9L1406.4 590.9L1408.4 592.0L1410.4 593.0L1412.4 594.1L1414.4 595.1L1416.4 596.2L1418.4 597.2L1420.4 598.3L1422.4 599.4L1424.4 600.5L1426.3 601.6L1428.3 602.7L1430.3 603.8L1432.3 605.0L1434.3 606.1L1436.3 607.3L1438.3 608.4L1440.3 609.6L1442.3 610.8L1444.3 612.0L1446.3 613.3L1448.3 614.5L1450.3 615.8L1452.3 617.1L1454.0 618.2L1454.3 618.4L1456.3 619.8L1458.3 621.1L1460.3 622.5L1462.3 623.9L1464.3 625.3L1466.3 626.8L1468.3 628.2L1470.3 629.7L1472.3 631.2L1474.3 632.8L1476.3 634.3L1478.3 635.9L1480.3 637.5L1482.3 639.1L1484.3 640.8L1486.3 642.5L1488.2 644.2L1490.2 645.9L1492.2 647.7L1494.2 649.5L1495.0 650.2L1496.2 651.3L1498.2 653.2L1500.2 655.1L1502.2 657.0L1504.2 659.0L1506.2 661.0L1508.2 663.1L1510.2 665.2L1512.2 667.3L1514.2 669.5L1516.2 671.6L1518.2 673.9L1520.2 676.1L1522.2 678.4L1524.2 680.7L1526.2 683.0L1528.2 685.4L1530.2 687.8L1532.2 690.2L1534.2 692.6L1536.0 694.8L1536.2 695.1L1538.2 697.6L1540.2 700.1L1542.2 702.8L1544.2 705.5L1546.2 708.2L1548.2 711.0L1550.2 713.9L1552.1 716.8L1554.1 719.7L1556.1 722.6L1558.1 725.5L1560.1 728.5L1562.1 731.4L1564.1 734.4L1566.1 737.3L1568.1 740.2L1570.1 743.1L1572.1 745.9L1574.1 748.8L1576.1 751.5L1577.0 752.7L1578.1 754.2L1580.1 757.0L1582.1 759.7L1584.1 762.4L1586.1 765.2L1588.1 767.9L1590.1 770.6L1592.1 773.3L1594.1 776.0L1596.1 778.7L1598.1 781.4L1600.1 784.1L1602.1 786.7L1604.1 789.3L1606.1 791.9L1608.1 794.4L1610.1 796.9L1612.1 799.4L1614.0 801.8L1616.0 804.2L1618.0 806.5L1619.0 807.6L1620.0 808.8L1622.0 811.0L1624.0 813.3L1626.0 815.4L1628.0 817.6L1630.0 819.7L1632.0 821.7L1634.0 823.7L1636.0 825.6L1638.0 827.4L1639.0 828.2L1640.0 829.2L1642.0 830.9L1644.0 832.6L1646.0 834.3L1648.0 836.0L1650.0 837.6L1652.0 839.1L1654.0 840.5L1656.0 841.9L1658.0 843.2L1660.0 844.4L1660.0 844.4L1662.0 845.5L1664.0 846.6L1666.0 847.7L1668.0 848.7L1670.0 849.6L1672.0 850.5L1674.0 851.4L1675.9 852.1L1677.9 852.8L1679.9 853.4L1680.0 853.4L1681.9 853.9L1683.9 854.4L1685.9 854.9L1687.9 855.4L1689.9 855.8L1691.9 856.1L1693.9 856.5L1695.9 856.8L1697.9 857.1L1699.9 857.4L1701.0 857.5L1701.9 857.6L1703.9 857.8L1705.9 858.0L1707.9 858.2L1709.9 858.4L1711.9 858.6L1713.9 858.8L1715.9 859.0L1717.9 859.2L1719.9 859.4L1721.9 859.5L1723.9 859.7L1725.9 859.8L1727.9 860.0L1729.9 860.1L1731.9 860.3L1733.9 860.4L1735.9 860.5L1737.8 860.7L1739.8 860.8L1741.8 860.9L1743.8 861.1L1745.8 861.2L1747.8 861.3L1749.8 861.4L1751.8 861.5L1753.8 861.7L1755.8 861.8L1757.8 861.9L1759.8 862.0L1761.8 862.1L1763.8 862.2L1765.8 862.3L1767.8 862.5L1769.8 862.6L1771.8 862.7L1773.8 862.8L1775.8 862.9L1777.8 863.0L1779.8 863.2L1781.8 863.3L1783.8 863.4L1783.9 863.4L1785.8 863.6L1787.8 863.7L1789.8 863.8L1791.8 863.9L1793.8 864.1L1795.8 864.2L1797.8 864.3L1799.7 864.4L1801.7 864.5L1803.7 864.6L1805.7 864.7L1807.7 864.9L1809.7 865.0L1811.7 865.1L1813.7 865.2L1815.7 865.3L1817.7 865.4L1819.7 865.5L1821.7 865.6L1823.7 865.7L1825.7 865.8L1827.7 865.9L1829.7 866.1L1831.7 866.2L1833.7 866.3L1835.7 866.4L1837.7 866.5L1839.7 866.6L1841.7 866.8L1843.7 866.9L1845.7 867.0L1847.7 867.1L1849.7 867.3L1851.7 867.4L1853.7 867.5L1855.7 867.7L1857.7 867.8L1859.7 868.0L1861.6 868.1L1863.6 868.3L1865.6 868.4L1866.1 868.5L1867.6 868.6L1869.6 868.8L1871.6 869.0L1873.6 869.2L1875.6 869.4L1877.6 869.6L1879.6 869.8L1881.6 870.0L1883.6 870.2L1885.6 870.4L1887.6 870.7L1889.6 870.9L1891.6 871.2L1893.6 871.4L1895.6 871.7L1897.6 871.9L1899.6 872.2L1901.6 872.5L1903.6 872.7L1905.6 873.0L1907.6 873.3L1909.6 873.6L1911.6 873.8L1913.6 874.1L1915.6 874.4L1917.6 874.7L1919.6 874.9L1921.6 875.2L1923.6 875.5L1925.5 875.8L1927.5 876.1L1929.5 876.4L1931.5 876.6L1933.5 876.9L1935.5 877.2L1937.5 877.5L1939.5 877.7L1941.5 878.0L1943.5 878.3L1945.5 878.5L1947.5 878.8L1948.9 879.0L1949.5 879.0L1951.5 879.3L1953.5 879.5L1955.5 879.8" stroke="#00FF00"/><path d="M959.1 369.8L961.1 374.8L963.0 379.4L963.1 379.6L965.1 384.2L967.1 388.7L969.1 393.1L971.1 397.5L973.1 401.9L975.1 406.2L977.1 410.4L979.1 414.6L981.1 418.7L983.1 422.7L985.1 426.7L987.1 430.6L989.1 434.4L991.0 438.1L993.0 441.8L995.0 445.3L997.0 448.8L999.0 452.1L1001.0 455.3L1001.0 455.4L1003.0 458.5L1005.0 461.6L1007.0 464.7L1009.0 467.7L1011.0 470.6L1013.0 473.5L1015.0 476.3L1017.0 479.1L1019.0 481.8L1021.0 484.5L1023.0 487.1L1025.0 489.6L1027.0 492.2L1029.0 494.7L1031.0 497.1L1033.0 499.5L1035.0 501.9L1037.0 504.2L1039.0 506.5L1041.0 508.7L1042.0 509.8L1043.0 510.9L1045.0 513.1L1047.0 515.2L1049.0 517.4L1051.0 519.4L1052.9 521.5L1054.9 523.5L1056.9 525.5L1058.9 527.4L1060.9 529.3L1062.9 531.2L1064.9 533.1L1066.9 534.9L1068.9 536.7L1070.9 538.5L1072.9 540.3L1074.9 542.0L1076.9 543.7L1078.9 545.4L1080.9 547.1L1082.9 548.7L1083.0 548.8L1084.9 550.3L1086.9 551.9L1088.9 553.5L1090.9 555.0L1092.9 556.5L1094.9 558.0L1096.9 559.5L1098.9 561.0L1100.9 562.4L1102.9 563.8L1104.9 565.2L1106.9 566.6L1108.9 568.0L1110.9 569.3L1112.9 570.7L1114.8 572.0L1116.8 573.3L1118.8 574.6L1120.8 575.9L1122.8 577.2L1124.0 577.9L1124.8 578.4L1126.8 579.7L1128.8 580.9L1130.8 582.1L1132.8 583.3L1134.8 584.5L1136.8 585.7L1138.8 586.8L1140.8 588.0L1142.8 589.1L1144.8 590.2L1146.8 591.3L1148.8 592.4L1150.8 593.5L1152.8 594.6L1154.8 595.7L1156.8 596.8L1158.8 597.9L1160.8 599.0L1162.8 600.0L1164.8 601.1L1165.0 601.2L1166.8 602.2L1168.8 603.3L1170.8 604.3L1172.8 605.4L1174.8 606.4L1176.8 607.5L1178.7 608.5L1180.7 609.6L1182.7 610.6L1184.7 611.6L1186.7 612.6L1188.7 613.6L1190.7 614.6L1192.7 615.7L1194.7 616.6L1196.7 617.6L1198.7 618.6L1200.7 619.6L1202.7 620.6L1204.7 621.6L1206.7 622.5L1207.0 622.6L1208.7 623.5L1210.7 624.4L1212.7 625.4L1214.7 626.3L1216.7 627.3L1218.7 628.2L1220.7 629.2L1222.7 630.1L1224.7 631.1L1226.7 632.0L1228.7 632.9L1230.7 633.9L1232.7 634.8L1234.7 635.7L1236.7 636.6L1238.7 637.5L1240.6 638.5L1242.6 639.4L1244.6 640.3L1246.6 641.2L1248.6 642.1L1250.6 643.0L1252.6 643.9L1254.6 644.8L1256.6 645.7L1258.6 646.5L1260.6 647.4L1262.6 648.3L1264.6 649.2L1266.6 650.0L1268.6 650.9L1270.6 651.7L1272.6 652.6L1274.6 653.4L1276.6 654.3L1278.6 655.1L1280.6 656.0L1282.6 656.8L1284.6 657.6L1286.6 658.4L1288.6 659.3L1289.0 659.4L1290.6 660.1L1292.6 660.9L1294.6 661.7L1296.6 662.5L1298.6 663.3L1300.6 664.0L1302.5 664.8L1304.5 665.6L1306.5 666.4L1308.5 667.1L1310.5 667.9L1312.5 668.7L1314.5 669.4L1316.5 670.2L1318.5 670.9L1320.5 671.7L1322.5 672.4L1324.5 673.2L1326.5 673.9L1328.5 674.6L1330.5 675.4L1332.5 676.1L1334.5 676.8L1336.5 677.6L1338.5 678.3L1340.5 679.0L1342.5 679.7L1344.5 680.5L1346.5 681.2L1348.5 681.9L1350.5 682.6L1352.5 683.3L1354.5 684.1L1356.5 684.8L1358.5 685.5L1360.5 686.2L1362.5 686.9L1364.4 687.6L1366.4 688.3L1368.4 689.1L1370.4 689.8L1372.0 690.3L1372.4 690.5L1374.4 691.2L1376.4 691.9L1378.4 692.6L1380.4 693.3L1382.4 694.0L1384.4 694.7L1386.4 695.3L1388.4 696.0L1390.4 696.7L1392.4 697.3L1394.4 698.0L1396.4 698.7L1398.4 699.3L1400.4 700.0L1402.4 700.6L1404.4 701.3L1406.4 701.9L1408.4 702.6L1410.4 703.2L1412.4 703.9L1414.4 704.6L1416.4 705.2L1418.4 705.9L1420.4 706.6L1422.4 707.2L1424.4 707.9L1426.3 708.6L1428.3 709.3L1430.3 710.0L1432.3 710.7L1434.3 711.4L1436.3 712.1L1438.3 712.8L1440.3 713.5L1442.3 714.3L1444.3 715.0L1446.3 715.8L1448.3 716.6L1450.3 717.3L1452.3 718.1L1454.0 718.8L1454.3 718.9L1456.3 719.8L1458.3 720.6L1460.3 721.4L1462.3 722.3L1464.3 723.1L1466.3 724.0L1468.3 724.8L1470.3 725.7L1472.3 726.6L1474.3 727.5L1476.3 728.5L1478.3 729.4L1480.3 730.4L1482.3 731.3L1484.3 732.3L1486.3 733.3L1488.2 734.3L1490.2 735.4L1492.2 736.4L1494.2 737.5L1495.0 737.9L1496.2 738.6L1498.2 739.7L1500.2 740.9L1502.2 742.0L1504.2 743.2L1506.2 744.4L1508.2 745.6L1510.2 746.9L1512.2 748.1L1514.2 749.4L1516.2 750.7L1518.2 752.1L1520.2 753.4L1522.2 754.8L1524.2 756.2L1526.2 757.6L1528.2 759.1L1530.2 760.5L1532.2 762.0L1534.2 763.5L1536.0 764.9L1536.2 765.1L1538.2 766.6L1540.2 768.3L1542.2 770.0L1544.2 771.7L1546.2 773.5L1548.2 775.3L1550.2 777.2L1552.1 779.1L1554.1 781.0L1556.1 782.9L1558.1 784.9L1560.1 786.8L1562.1 788.8L1564.1 790.8L1566.1 792.7L1568.1 794.7L1570.1 796.6L1572.1 798.6L1574.1 800.5L1576.1 802.3L1577.0 803.1L1578.1 804.2L1580.1 806.0L1582.1 807.9L1584.1 809.8L1586.1 811.7L1588.1 813.6L1590.1 815.5L1592.1 817.4L1594.1 819.3L1596.1 821.2L1598.1 823.1L1600.1 825.0L1602.1 826.8L1604.1 828.7L1606.1 830.5L1608.1 832.3L1610.1 834.0L1612.1 835.7L1614.0 837.4L1616.0 839.0L1618.0 840.6L1619.0 841.4L1620.0 842.2L1622.0 843.7L1624.0 845.2L1626.0 846.7L1628.0 848.1L1630.0 849.5L1632.0 850.8L1634.0 852.1L1636.0 853.4L1638.0 854.6L1639.0 855.2L1640.0 855.8L1642.0 856.9L1644.0 858.0L1646.0 859.1L1648.0 860.2L1650.0 861.2L1652.0 862.2L1654.0 863.1L1656.0 864.0L1658.0 864.8L1660.0 865.6L1660.0 865.6L1662.0 866.4L1664.0 867.1L1666.0 867.8L1668.0 868.4L1670.0 869.1L1672.0 869.7L1674.0 870.2L1675.9 870.7L1677.9 871.2L1679.9 871.6L1680.0 871.6L1681.9 872.0L1683.9 872.4L1685.9 872.8L1687.9 873.1L1689.9 873.5L1691.9 873.8L1693.9 874.0L1695.9 874.3L1697.9 874.5L1699.9 874.6L1701.0 874.7L1701.9 874.7L1703.9 874.8L1705.9 874.9L1707.9 874.9L1709.9 875.0L1711.9 875.1L1713.9 875.1L1715.9 875.2L1717.9 875.2L1719.9 875.3L1721.9 875.3L1723.9 875.4L1725.9 875.4L1727.9 875.4L1729.9 875.5L1731.9 875.5L1733.9 875.5L1735.9 875.5L1737.8 875.5L1739.8 875.5L1741.0 875.5L1741.8 875.5L1743.8 875.5L1745.8 875.5L1747.8 875.5L1749.8 875.5L1751.8 875.5L1753.8 875.5L1755.8 875.5L1757.8 875.5L1759.8 875.5L1761.8 875.5L1763.8 875.5L1765.8 875.5L1767.8 875.5L1769.8 875.5L1771.8 875.4L1773.8 875.4L1775.8 875.4L1777.8 875.4L1779.8 875.4L1781.8 875.4L1783.8 875.4L1783.9 875.4L1785.8 875.4L1787.8 875.4L1789.8 875.3L1791.8 875.3L1793.8 875.3L1795.8 875.3L1797.8 875.2L1799.7 875.2L1801.7 875.2L1803.7 875.1L1805.7 875.1L1807.7 875.1L1809.7 875.0L1811.7 875.0L1813.7 874.9L1815.7 874.9L1817.7 874.9L1819.7 874.8L1821.7 874.8L1823.7 874.7L1825.7 874.7L1827.7 874.6L1829.7 874.6L1831.7 874.5L1833.7 874.5L1835.7 874.5L1837.7 874.4L1839.7 874.4L1841.7 874.3L1843.7 874.3L1845.7 874.2L1847.7 874.2L1849.7 874.2L1851.7 874.1L1853.7 874.1L1855.7 874.1L1857.7 874.0L1859.7 874.0L1861.6 874.0L1863.6 874.0L1865.6 874.0L1866.1 874.0L1867.6 873.9L1869.6 873.9L1871.6 873.9L1873.6 873.9L1875.6 873.9L1877.6 873.9L1879.6 873.8L1881.6 873.8L1883.6 873.8L1885.6 873.8L1887.6 873.8L1889.6 873.8L1891.6 873.8L1893.6 873.8L1895.6 873.8L1897.6 873.7L1899.6 873.7L1901.6 873.7L1903.6 873.7L1905.6 873.7L1907.6 873.7L1909.6 873.7L1911.6 873.7L1913.6 873.7L1915.6 873.7L1917.6 873.6L1919.6 873.6L1921.6 873.6L1923.6 873.6L1925.5 873.6L1927.5 873.6L1929.5 873.6L1931.5 873.6L1933.5 873.6L1935.5 873.6L1937.5 873.5L1939.5 873.5L1941.5 873.5L1943.5 873.5L1945.5 873.5L1947.5 873.5L1948.9 873.5L1949.5 873.5L1951.5 873.5L1953.5 873.5L1955.5 873.5" stroke="#FF8000"/></g>
<g font-size="45" text-anchor="middle">
<text transform="translate(959.1 982) scale(1 1.045)">300</text>
<text transform="translate(1124.07 982) scale(1 1.045)">350</text>
<text transform="translate(1289.03 982) scale(1 1.045)">400</text>
<text transform="translate(1454 982) scale(1 1.045)">450</text>
<text transform="translate(1618.97 982) scale(1 1.045)">500</text>
<text transform="translate(1783.93 982) scale(1 1.045)">550</text>
<text transform="translate(1948.9 982) scale(1 1.045)">600</text>
</g>
<g font-size="45" text-anchor="end">
<text transform="translate(933 936) scale(1 1.045)">0.0</text>
<text transform="translate(933 822.06) scale(1 1.045)">0.5</text>
<text transform="translate(933 708.11) scale(1 1.045)">1.0</text>
<text transform="translate(933 594.17) scale(1 1.045)">1.5</text>
<text transform="translate(933 480.23) scale(1 1.045)">2.0</text>
<text transform="translate(933 366.29) scale(1 1.045)">2.5</text>
<text transform="translate(933 252.34) scale(1 1.045)">3.0</text>
<text transform="translate(933 138.4) scale(1 1.045)">3.5</text>
</g>
<text x="1453.7" y="1055.5" font-size="68" text-anchor="middle">Wavelength (nm)</text>
<text transform="translate(848 523.5) rotate(-90)" font-size="67.3" text-anchor="middle">Absorbance (a.u.)</text>
<g stroke-width="11.3" stroke-linecap="round" fill="none">
<path d="M1667 107.2H1831" stroke="#000000"/>
<path d="M1667 198.3H1831" stroke="#0000FF"/>
<path d="M1667 289.4H1831" stroke="#FF00FF"/>
<path d="M1667 380.5H1831" stroke="#FF0000"/>
<path d="M1667 471.6H1831" stroke="#00FF00"/>
<path d="M1667 562.7H1831" stroke="#FF8000"/>
</g>
<g font-size="76">
<text transform="translate(1851 133) scale(1 1.045)">S1</text>
<text transform="translate(1851 224.1) scale(1 1.045)">S2</text>
<text transform="translate(1851 315.2) scale(1 1.045)">S3</text>
<text transform="translate(1851 406.3) scale(1 1.045)">S4</text>
<text transform="translate(1851 497.4) scale(1 1.045)">S5</text>
<text transform="translate(1851 588.5) scale(1 1.045)">S6</text>
</g>
</svg>
</body></html>
